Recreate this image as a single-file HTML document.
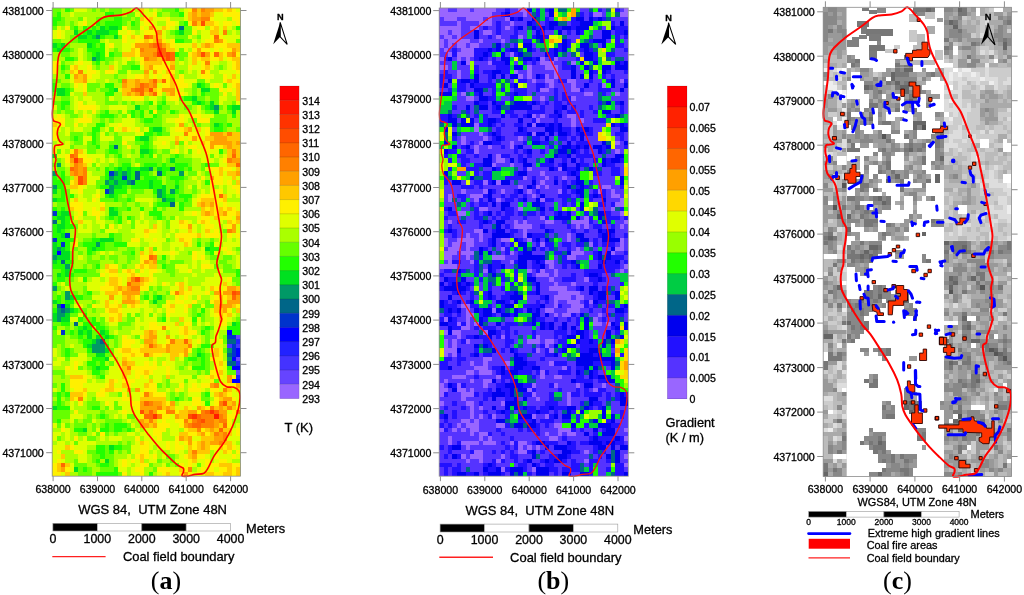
<!DOCTYPE html><html><head><meta charset="utf-8"><style>html,body{margin:0;padding:0;background:#fff;width:1024px;height:595px;overflow:hidden}svg text{white-space:pre;stroke:#000;stroke-width:0.3px;stroke-linejoin:round}</style></head><body><svg width="1024" height="595" viewBox="0 0 1024 595" style="position:absolute;left:0;top:0;filter:blur(0.35px)">
<rect width="1024" height="595" fill="#fff"/>
<svg x="52.2" y="8.0" width="188.30" height="468.20" viewBox="0 0 43 106" preserveAspectRatio="none" shape-rendering="crispEdges">
<rect width="43" height="106" fill="#aaff00"/>
<path fill="#ff1a00" d="M37 92h1v1h-1z"/>
<path fill="#ff3300" d="M24 10h1v1h-1zM5 34h1v1h-1zM36 91h1v1h-1zM23 92h1v1h-1zM32 92h1v1h-1z"/>
<path fill="#ff4d00" d="M34 3h1v1h-1zM24 9h1v1h-1zM26 10h1v1h-1zM34 10h1v1h-1zM26 11h1v1h-1zM22 18h1v1h-1zM6 38h1v1h-1zM6 39h1v1h-1zM19 61h1v1h-1zM41 64h1v1h-1zM39 89h1v1h-1zM20 91h1v1h-1zM31 92h1v1h-1zM34 93h1v1h-1z"/>
<path fill="#ff6600" d="M21 6h1v1h-1zM37 6h1v1h-1zM23 8h2v1h-2zM25 9h1v1h-1zM25 10h1v1h-1zM27 10h1v1h-1zM37 10h1v1h-1zM27 11h1v1h-1zM23 16h1v1h-1zM25 16h1v1h-1zM20 17h1v1h-1zM19 18h2v1h-2zM20 19h1v1h-1zM23 19h1v1h-1zM4 33h1v1h-1zM41 33h1v1h-1zM42 35h1v1h-1zM4 36h1v1h-1zM38 42h1v1h-1zM22 56h1v1h-1zM17 62h1v1h-1zM42 64h1v1h-1zM41 65h1v1h-1zM30 75h1v1h-1zM22 76h1v1h-1zM21 89h1v1h-1zM22 91h1v1h-1zM35 91h1v1h-1zM37 91h1v1h-1zM21 92h2v1h-2zM33 92h1v1h-1zM33 93h1v1h-1zM32 94h2v1h-2zM39 94h1v1h-1zM38 95h1v1h-1zM2 103h1v1h-1z"/>
<path fill="#ff8000" d="M32 0h1v1h-1zM34 0h1v1h-1zM34 2h2v1h-2zM32 3h1v1h-1zM39 5h1v1h-1zM22 6h1v1h-1zM37 7h1v1h-1zM22 8h1v1h-1zM20 9h1v1h-1zM23 10h1v1h-1zM41 10h1v1h-1zM21 11h1v1h-1zM25 11h1v1h-1zM35 12h1v1h-1zM6 14h1v1h-1zM34 14h1v1h-1zM16 16h1v1h-1zM21 17h1v1h-1zM23 17h1v1h-1zM18 18h1v1h-1zM30 28h1v1h-1zM40 28h1v1h-1zM5 32h1v1h-1zM41 32h1v1h-1zM5 33h1v1h-1zM6 34h1v1h-1zM40 34h1v1h-1zM5 35h1v1h-1zM5 36h1v1h-1zM7 36h1v1h-1zM5 37h1v1h-1zM7 37h1v1h-1zM7 38h1v1h-1zM7 39h1v1h-1zM40 50h1v1h-1zM23 56h1v1h-1zM18 61h1v1h-1zM18 63h2v1h-2zM28 64h1v1h-1zM25 72h1v1h-1zM27 75h1v1h-1zM31 76h1v1h-1zM21 78h1v1h-1zM17 81h1v1h-1zM37 85h1v1h-1zM39 86h1v1h-1zM21 87h1v1h-1zM6 88h1v1h-1zM22 89h1v1h-1zM38 89h1v1h-1zM24 90h1v1h-1zM36 90h1v1h-1zM40 90h1v1h-1zM26 91h2v1h-2zM34 91h1v1h-1zM42 91h1v1h-1zM24 92h1v1h-1zM34 92h3v1h-3zM38 92h1v1h-1zM22 93h1v1h-1zM30 93h1v1h-1zM32 93h1v1h-1zM35 93h2v1h-2zM38 93h2v1h-2zM31 94h1v1h-1zM34 94h3v1h-3zM33 95h1v1h-1zM37 96h1v1h-1zM39 96h1v1h-1zM39 97h1v1h-1zM38 98h1v1h-1zM32 100h1v1h-1zM31 104h1v1h-1z"/>
<path fill="#ffa000" d="M35 0h2v1h-2zM32 1h1v1h-1zM34 1h2v1h-2zM32 2h2v1h-2zM22 4h1v1h-1zM24 5h1v1h-1zM24 7h1v1h-1zM38 7h1v1h-1zM19 8h3v1h-3zM25 8h1v1h-1zM35 8h1v1h-1zM21 9h3v1h-3zM33 9h1v1h-1zM41 9h1v1h-1zM20 10h3v1h-3zM33 10h1v1h-1zM35 10h1v1h-1zM40 10h1v1h-1zM22 11h2v1h-2zM22 13h1v1h-1zM27 13h1v1h-1zM21 14h1v1h-1zM23 14h1v1h-1zM5 15h1v1h-1zM7 15h1v1h-1zM7 16h1v1h-1zM19 16h1v1h-1zM22 16h1v1h-1zM16 17h1v1h-1zM19 17h1v1h-1zM22 17h1v1h-1zM21 18h1v1h-1zM25 18h3v1h-3zM17 19h1v1h-1zM19 19h1v1h-1zM22 19h1v1h-1zM27 19h1v1h-1zM29 26h1v1h-1zM31 27h1v1h-1zM36 28h3v1h-3zM32 29h1v1h-1zM37 29h3v1h-3zM28 30h1v1h-1zM36 30h5v1h-5zM42 30h1v1h-1zM36 31h1v1h-1zM40 31h1v1h-1zM4 34h1v1h-1zM41 34h2v1h-2zM6 35h1v1h-1zM6 36h1v1h-1zM4 37h1v1h-1zM6 37h1v1h-1zM42 37h1v1h-1zM36 38h1v1h-1zM34 44h1v1h-1zM36 44h1v1h-1zM35 46h1v1h-1zM39 46h1v1h-1zM42 47h1v1h-1zM31 49h1v1h-1zM41 49h1v1h-1zM41 50h1v1h-1zM21 57h1v1h-1zM23 57h1v1h-1zM20 61h1v1h-1zM18 62h2v1h-2zM15 63h1v1h-1zM17 63h1v1h-1zM40 63h2v1h-2zM16 64h4v1h-4zM37 64h1v1h-1zM39 64h2v1h-2zM13 65h1v1h-1zM17 65h1v1h-1zM42 65h1v1h-1zM16 66h3v1h-3zM40 66h3v1h-3zM38 67h3v1h-3zM39 68h1v1h-1zM22 73h1v1h-1zM22 74h2v1h-2zM26 74h1v1h-1zM21 75h2v1h-2zM23 76h1v1h-1zM26 76h1v1h-1zM26 77h1v1h-1zM30 77h1v1h-1zM30 78h1v1h-1zM16 80h1v1h-1zM40 83h1v1h-1zM40 84h1v1h-1zM36 85h1v1h-1zM42 85h1v1h-1zM17 86h1v1h-1zM19 86h1v1h-1zM38 87h1v1h-1zM39 88h2v1h-2zM20 89h1v1h-1zM23 89h2v1h-2zM27 89h1v1h-1zM41 89h1v1h-1zM20 90h4v1h-4zM26 90h1v1h-1zM33 90h1v1h-1zM38 90h1v1h-1zM21 91h1v1h-1zM23 91h1v1h-1zM31 91h2v1h-2zM38 91h2v1h-2zM28 92h1v1h-1zM39 92h1v1h-1zM20 93h1v1h-1zM37 93h1v1h-1zM20 94h2v1h-2zM23 94h1v1h-1zM30 94h1v1h-1zM37 94h1v1h-1zM36 95h1v1h-1zM34 96h1v1h-1zM38 96h1v1h-1zM29 97h1v1h-1zM31 97h1v1h-1zM37 97h2v1h-2zM31 98h1v1h-1zM34 98h1v1h-1zM36 98h2v1h-2zM34 99h1v1h-1zM32 101h1v1h-1zM2 104h1v1h-1zM30 105h1v1h-1z"/>
<path fill="#ffc800" d="M20 0h1v1h-1zM33 0h1v1h-1zM37 0h2v1h-2zM40 0h1v1h-1zM31 1h1v1h-1zM33 1h1v1h-1zM36 1h1v1h-1zM20 2h1v1h-1zM22 2h1v1h-1zM31 2h1v1h-1zM33 3h1v1h-1zM35 3h2v1h-2zM25 4h1v1h-1zM37 4h1v1h-1zM39 4h1v1h-1zM36 5h2v1h-2zM18 6h1v1h-1zM23 6h2v1h-2zM21 7h1v1h-1zM23 7h1v1h-1zM26 8h1v1h-1zM32 8h1v1h-1zM34 8h1v1h-1zM36 8h1v1h-1zM40 8h3v1h-3zM18 9h1v1h-1zM26 9h2v1h-2zM42 9h1v1h-1zM16 10h3v1h-3zM32 10h1v1h-1zM38 10h1v1h-1zM24 11h1v1h-1zM32 11h1v1h-1zM34 11h2v1h-2zM38 11h1v1h-1zM41 11h2v1h-2zM21 12h4v1h-4zM27 12h1v1h-1zM32 12h1v1h-1zM42 12h1v1h-1zM5 13h1v1h-1zM13 13h1v1h-1zM21 13h1v1h-1zM35 13h1v1h-1zM42 13h1v1h-1zM4 14h1v1h-1zM26 14h1v1h-1zM6 15h1v1h-1zM21 15h1v1h-1zM27 15h1v1h-1zM41 15h1v1h-1zM5 16h2v1h-2zM17 16h2v1h-2zM20 16h2v1h-2zM24 16h1v1h-1zM27 16h1v1h-1zM40 16h1v1h-1zM17 17h2v1h-2zM27 17h1v1h-1zM42 17h1v1h-1zM16 18h2v1h-2zM23 18h1v1h-1zM42 18h1v1h-1zM7 19h1v1h-1zM16 19h1v1h-1zM18 19h1v1h-1zM21 19h1v1h-1zM26 19h1v1h-1zM42 19h1v1h-1zM42 20h1v1h-1zM0 26h1v1h-1zM16 27h1v1h-1zM30 27h1v1h-1zM33 27h1v1h-1zM39 28h1v1h-1zM41 28h2v1h-2zM28 29h1v1h-1zM35 29h2v1h-2zM40 29h3v1h-3zM34 30h1v1h-1zM41 30h1v1h-1zM39 31h1v1h-1zM41 31h2v1h-2zM6 32h1v1h-1zM40 32h1v1h-1zM42 32h1v1h-1zM40 33h1v1h-1zM42 33h1v1h-1zM4 35h1v1h-1zM7 35h1v1h-1zM40 35h2v1h-2zM38 36h1v1h-1zM42 36h1v1h-1zM38 37h1v1h-1zM40 37h2v1h-2zM5 38h1v1h-1zM41 38h1v1h-1zM5 39h1v1h-1zM42 39h1v1h-1zM4 40h2v1h-2zM39 42h1v1h-1zM5 43h1v1h-1zM34 43h3v1h-3zM39 43h1v1h-1zM33 44h1v1h-1zM35 44h1v1h-1zM4 45h1v1h-1zM11 45h1v1h-1zM34 45h1v1h-1zM36 45h1v1h-1zM38 45h1v1h-1zM40 45h1v1h-1zM34 46h1v1h-1zM36 46h1v1h-1zM38 46h1v1h-1zM42 46h1v1h-1zM37 47h1v1h-1zM6 48h1v1h-1zM29 48h1v1h-1zM34 48h1v1h-1zM40 48h1v1h-1zM42 48h1v1h-1zM23 49h1v1h-1zM21 50h1v1h-1zM31 50h1v1h-1zM35 50h1v1h-1zM33 51h1v1h-1zM29 52h1v1h-1zM30 53h1v1h-1zM22 54h1v1h-1zM20 55h1v1h-1zM22 55h1v1h-1zM22 57h1v1h-1zM12 58h1v1h-1zM20 58h1v1h-1zM22 58h2v1h-2zM13 59h2v1h-2zM17 59h1v1h-1zM18 60h1v1h-1zM13 61h2v1h-2zM17 61h1v1h-1zM21 61h1v1h-1zM13 62h2v1h-2zM20 62h1v1h-1zM29 62h1v1h-1zM39 62h1v1h-1zM14 63h1v1h-1zM16 63h1v1h-1zM29 63h1v1h-1zM31 63h1v1h-1zM36 63h1v1h-1zM42 63h1v1h-1zM12 64h3v1h-3zM29 64h1v1h-1zM16 65h1v1h-1zM18 65h1v1h-1zM38 65h1v1h-1zM40 65h1v1h-1zM12 66h1v1h-1zM19 66h1v1h-1zM37 66h2v1h-2zM12 67h1v1h-1zM15 67h1v1h-1zM18 67h1v1h-1zM27 67h1v1h-1zM31 67h1v1h-1zM37 67h1v1h-1zM41 67h1v1h-1zM13 68h2v1h-2zM37 68h2v1h-2zM42 68h1v1h-1zM15 69h1v1h-1zM38 69h1v1h-1zM40 69h1v1h-1zM13 70h1v1h-1zM15 70h1v1h-1zM29 70h1v1h-1zM38 70h1v1h-1zM28 71h1v1h-1zM30 72h1v1h-1zM21 73h1v1h-1zM23 73h1v1h-1zM30 73h1v1h-1zM21 74h1v1h-1zM23 75h1v1h-1zM28 75h2v1h-2zM31 75h1v1h-1zM21 76h1v1h-1zM24 76h1v1h-1zM27 76h4v1h-4zM16 77h2v1h-2zM20 77h6v1h-6zM27 77h3v1h-3zM37 77h1v1h-1zM18 78h1v1h-1zM22 78h1v1h-1zM27 78h2v1h-2zM37 78h1v1h-1zM16 79h1v1h-1zM27 79h1v1h-1zM17 80h2v1h-2zM38 80h1v1h-1zM16 81h1v1h-1zM16 82h2v1h-2zM21 82h1v1h-1zM38 82h1v1h-1zM4 83h3v1h-3zM16 83h1v1h-1zM26 83h1v1h-1zM36 83h1v1h-1zM13 84h1v1h-1zM22 84h1v1h-1zM13 85h1v1h-1zM16 85h1v1h-1zM21 85h1v1h-1zM7 86h1v1h-1zM12 86h2v1h-2zM40 86h1v1h-1zM42 86h1v1h-1zM4 87h3v1h-3zM22 87h1v1h-1zM37 87h1v1h-1zM39 87h1v1h-1zM4 88h1v1h-1zM20 88h6v1h-6zM38 88h1v1h-1zM25 89h1v1h-1zM40 89h1v1h-1zM25 90h1v1h-1zM27 90h1v1h-1zM30 90h1v1h-1zM34 90h1v1h-1zM37 90h1v1h-1zM39 90h1v1h-1zM41 90h1v1h-1zM29 91h2v1h-2zM29 92h2v1h-2zM21 93h1v1h-1zM23 93h1v1h-1zM31 93h1v1h-1zM22 94h1v1h-1zM38 94h1v1h-1zM31 95h2v1h-2zM35 95h1v1h-1zM37 95h1v1h-1zM39 95h2v1h-2zM29 96h2v1h-2zM33 96h1v1h-1zM36 96h1v1h-1zM40 96h1v1h-1zM30 97h1v1h-1zM34 97h3v1h-3zM20 98h1v1h-1zM33 98h1v1h-1zM35 98h1v1h-1zM39 98h2v1h-2zM3 99h1v1h-1zM31 99h1v1h-1zM33 99h1v1h-1zM35 99h1v1h-1zM38 99h1v1h-1zM40 99h1v1h-1zM31 100h1v1h-1zM33 100h3v1h-3zM39 100h1v1h-1zM2 101h1v1h-1zM20 101h1v1h-1zM31 101h1v1h-1zM20 102h1v1h-1zM32 102h1v1h-1zM1 103h1v1h-1zM3 103h1v1h-1zM38 103h3v1h-3zM1 104h1v1h-1zM29 104h1v1h-1zM40 104h1v1h-1zM42 104h1v1h-1zM3 105h1v1h-1zM26 105h1v1h-1zM35 105h2v1h-2zM39 105h2v1h-2zM42 105h1v1h-1z"/>
<path fill="#fff000" d="M31 0h1v1h-1zM39 0h1v1h-1zM41 0h1v1h-1zM23 1h1v1h-1zM39 1h4v1h-4zM21 2h1v1h-1zM26 2h1v1h-1zM36 2h1v1h-1zM41 2h2v1h-2zM7 3h1v1h-1zM21 3h1v1h-1zM26 3h2v1h-2zM31 3h1v1h-1zM37 3h1v1h-1zM39 3h2v1h-2zM42 3h1v1h-1zM3 4h1v1h-1zM16 4h1v1h-1zM20 4h1v1h-1zM26 4h1v1h-1zM33 4h2v1h-2zM36 4h1v1h-1zM1 5h1v1h-1zM17 5h1v1h-1zM21 5h3v1h-3zM32 5h1v1h-1zM1 6h1v1h-1zM16 6h1v1h-1zM19 6h1v1h-1zM36 6h1v1h-1zM38 6h1v1h-1zM16 7h1v1h-1zM19 7h2v1h-2zM22 7h1v1h-1zM25 7h1v1h-1zM27 7h1v1h-1zM35 7h2v1h-2zM39 7h1v1h-1zM13 8h1v1h-1zM18 8h1v1h-1zM27 8h1v1h-1zM37 8h3v1h-3zM19 9h1v1h-1zM32 9h1v1h-1zM34 9h2v1h-2zM37 9h1v1h-1zM39 9h2v1h-2zM19 10h1v1h-1zM31 10h1v1h-1zM36 10h1v1h-1zM39 10h1v1h-1zM42 10h1v1h-1zM17 11h1v1h-1zM20 11h1v1h-1zM33 11h1v1h-1zM36 11h2v1h-2zM40 11h1v1h-1zM0 12h1v1h-1zM6 12h1v1h-1zM20 12h1v1h-1zM25 12h1v1h-1zM34 12h1v1h-1zM41 12h1v1h-1zM0 13h1v1h-1zM4 13h1v1h-1zM8 13h1v1h-1zM23 13h4v1h-4zM31 13h1v1h-1zM34 13h1v1h-1zM41 13h1v1h-1zM0 14h1v1h-1zM5 14h1v1h-1zM8 14h2v1h-2zM12 14h2v1h-2zM24 14h1v1h-1zM27 14h1v1h-1zM35 14h1v1h-1zM42 14h1v1h-1zM8 15h1v1h-1zM19 15h2v1h-2zM23 15h1v1h-1zM25 15h2v1h-2zM29 15h1v1h-1zM34 15h2v1h-2zM39 15h1v1h-1zM26 16h1v1h-1zM28 16h2v1h-2zM39 16h1v1h-1zM41 16h2v1h-2zM5 17h1v1h-1zM7 17h1v1h-1zM25 17h2v1h-2zM28 17h3v1h-3zM37 17h1v1h-1zM41 17h1v1h-1zM7 18h1v1h-1zM24 18h1v1h-1zM38 18h1v1h-1zM40 18h1v1h-1zM24 19h1v1h-1zM28 19h2v1h-2zM39 19h1v1h-1zM18 20h3v1h-3zM27 20h2v1h-2zM6 21h1v1h-1zM6 22h4v1h-4zM9 23h1v1h-1zM23 23h1v1h-1zM1 24h1v1h-1zM7 24h1v1h-1zM29 24h1v1h-1zM32 24h2v1h-2zM0 25h3v1h-3zM6 25h3v1h-3zM28 25h2v1h-2zM33 25h3v1h-3zM2 26h1v1h-1zM5 26h1v1h-1zM15 26h1v1h-1zM0 27h1v1h-1zM14 27h1v1h-1zM17 27h1v1h-1zM19 27h1v1h-1zM28 27h2v1h-2zM35 27h1v1h-1zM0 28h1v1h-1zM31 28h2v1h-2zM35 28h1v1h-1zM0 29h1v1h-1zM29 29h1v1h-1zM31 29h1v1h-1zM33 29h1v1h-1zM16 30h1v1h-1zM25 30h1v1h-1zM30 30h1v1h-1zM35 30h1v1h-1zM17 31h1v1h-1zM31 31h2v1h-2zM35 31h1v1h-1zM37 31h2v1h-2zM4 32h1v1h-1zM28 32h1v1h-1zM33 32h1v1h-1zM35 32h1v1h-1zM3 33h1v1h-1zM6 33h2v1h-2zM3 34h1v1h-1zM7 34h2v1h-2zM39 34h1v1h-1zM36 36h2v1h-2zM39 36h2v1h-2zM37 37h1v1h-1zM34 38h1v1h-1zM37 38h2v1h-2zM4 39h1v1h-1zM36 39h3v1h-3zM40 39h1v1h-1zM6 40h1v1h-1zM36 40h1v1h-1zM41 40h2v1h-2zM6 41h1v1h-1zM36 41h3v1h-3zM42 41h1v1h-1zM10 42h1v1h-1zM34 42h3v1h-3zM9 43h1v1h-1zM33 43h1v1h-1zM37 43h2v1h-2zM4 44h3v1h-3zM11 44h1v1h-1zM37 44h1v1h-1zM39 44h1v1h-1zM5 45h2v1h-2zM9 45h1v1h-1zM35 45h1v1h-1zM37 45h1v1h-1zM39 45h1v1h-1zM41 45h1v1h-1zM6 46h1v1h-1zM9 46h2v1h-2zM32 46h1v1h-1zM37 46h1v1h-1zM40 46h2v1h-2zM5 47h1v1h-1zM10 47h1v1h-1zM34 47h2v1h-2zM38 47h3v1h-3zM30 48h1v1h-1zM33 48h1v1h-1zM35 48h1v1h-1zM41 48h1v1h-1zM13 49h1v1h-1zM29 49h2v1h-2zM35 49h2v1h-2zM40 49h1v1h-1zM22 50h2v1h-2zM37 50h1v1h-1zM21 51h1v1h-1zM28 51h5v1h-5zM35 51h3v1h-3zM40 51h1v1h-1zM42 51h1v1h-1zM18 52h2v1h-2zM23 52h1v1h-1zM30 52h2v1h-2zM5 53h1v1h-1zM31 53h1v1h-1zM39 54h1v1h-1zM23 55h1v1h-1zM27 55h1v1h-1zM32 55h1v1h-1zM40 55h1v1h-1zM20 56h2v1h-2zM32 56h1v1h-1zM34 56h1v1h-1zM20 57h1v1h-1zM13 58h2v1h-2zM19 58h1v1h-1zM21 58h1v1h-1zM34 58h2v1h-2zM12 59h1v1h-1zM16 59h1v1h-1zM18 59h1v1h-1zM20 59h1v1h-1zM22 59h2v1h-2zM31 59h1v1h-1zM11 60h1v1h-1zM13 60h2v1h-2zM17 60h1v1h-1zM19 60h1v1h-1zM22 60h1v1h-1zM15 61h1v1h-1zM22 61h1v1h-1zM40 61h1v1h-1zM12 62h1v1h-1zM15 62h1v1h-1zM21 62h1v1h-1zM25 62h1v1h-1zM28 62h1v1h-1zM11 63h3v1h-3zM20 63h2v1h-2zM37 63h1v1h-1zM39 63h1v1h-1zM15 64h1v1h-1zM27 64h1v1h-1zM30 64h2v1h-2zM35 64h1v1h-1zM38 64h1v1h-1zM19 65h1v1h-1zM28 65h1v1h-1zM30 65h1v1h-1zM33 65h1v1h-1zM37 65h1v1h-1zM39 65h1v1h-1zM14 66h1v1h-1zM26 66h1v1h-1zM28 66h2v1h-2zM32 66h1v1h-1zM36 66h1v1h-1zM9 67h1v1h-1zM13 67h2v1h-2zM17 67h1v1h-1zM19 67h1v1h-1zM26 67h1v1h-1zM30 67h1v1h-1zM42 67h1v1h-1zM12 68h1v1h-1zM15 68h1v1h-1zM26 68h2v1h-2zM30 68h1v1h-1zM40 68h1v1h-1zM13 69h2v1h-2zM26 69h1v1h-1zM37 69h1v1h-1zM39 69h1v1h-1zM14 70h1v1h-1zM39 70h1v1h-1zM22 71h2v1h-2zM30 71h2v1h-2zM38 71h2v1h-2zM22 72h3v1h-3zM26 72h1v1h-1zM29 72h1v1h-1zM29 73h1v1h-1zM31 73h2v1h-2zM16 74h1v1h-1zM20 74h1v1h-1zM30 74h1v1h-1zM16 75h3v1h-3zM26 75h1v1h-1zM33 75h1v1h-1zM38 75h1v1h-1zM16 76h2v1h-2zM20 76h1v1h-1zM25 76h1v1h-1zM15 77h1v1h-1zM18 77h2v1h-2zM31 77h1v1h-1zM36 77h1v1h-1zM38 77h1v1h-1zM16 78h2v1h-2zM19 78h2v1h-2zM23 78h2v1h-2zM29 78h1v1h-1zM38 78h1v1h-1zM17 79h1v1h-1zM36 79h3v1h-3zM5 80h1v1h-1zM21 80h1v1h-1zM23 80h1v1h-1zM25 80h1v1h-1zM37 80h1v1h-1zM3 81h1v1h-1zM5 81h1v1h-1zM15 81h1v1h-1zM18 81h6v1h-6zM26 81h1v1h-1zM37 81h2v1h-2zM19 82h2v1h-2zM22 82h1v1h-1zM26 82h1v1h-1zM36 82h2v1h-2zM7 83h1v1h-1zM19 83h1v1h-1zM21 83h1v1h-1zM35 83h1v1h-1zM37 83h2v1h-2zM41 83h1v1h-1zM4 84h4v1h-4zM14 84h1v1h-1zM16 84h3v1h-3zM36 84h1v1h-1zM4 85h3v1h-3zM12 85h1v1h-1zM17 85h1v1h-1zM22 85h2v1h-2zM29 85h1v1h-1zM32 85h1v1h-1zM34 85h2v1h-2zM39 85h3v1h-3zM5 86h2v1h-2zM11 86h1v1h-1zM14 86h2v1h-2zM21 86h3v1h-3zM28 86h1v1h-1zM31 86h3v1h-3zM36 86h2v1h-2zM7 87h1v1h-1zM10 87h2v1h-2zM16 87h1v1h-1zM20 87h1v1h-1zM23 87h3v1h-3zM40 87h1v1h-1zM5 88h1v1h-1zM16 88h2v1h-2zM32 88h2v1h-2zM37 88h1v1h-1zM41 88h1v1h-1zM6 89h1v1h-1zM12 89h1v1h-1zM18 89h2v1h-2zM26 89h1v1h-1zM32 89h2v1h-2zM37 89h1v1h-1zM19 90h1v1h-1zM31 90h1v1h-1zM35 90h1v1h-1zM42 90h1v1h-1zM5 91h1v1h-1zM16 91h1v1h-1zM24 91h2v1h-2zM28 91h1v1h-1zM33 91h1v1h-1zM41 91h1v1h-1zM20 92h1v1h-1zM25 92h2v1h-2zM40 92h2v1h-2zM25 93h1v1h-1zM28 93h2v1h-2zM40 93h1v1h-1zM24 94h3v1h-3zM29 94h1v1h-1zM40 94h1v1h-1zM2 95h1v1h-1zM23 95h3v1h-3zM30 95h1v1h-1zM34 95h1v1h-1zM42 95h1v1h-1zM11 96h1v1h-1zM23 96h2v1h-2zM31 96h2v1h-2zM35 96h1v1h-1zM42 96h1v1h-1zM5 97h1v1h-1zM19 97h1v1h-1zM24 97h1v1h-1zM28 97h1v1h-1zM21 98h1v1h-1zM26 98h1v1h-1zM28 98h1v1h-1zM30 98h1v1h-1zM32 98h1v1h-1zM4 99h1v1h-1zM20 99h2v1h-2zM26 99h1v1h-1zM28 99h2v1h-2zM32 99h1v1h-1zM36 99h2v1h-2zM39 99h1v1h-1zM41 99h1v1h-1zM1 100h1v1h-1zM5 100h2v1h-2zM20 100h2v1h-2zM28 100h1v1h-1zM40 100h1v1h-1zM42 100h1v1h-1zM19 101h1v1h-1zM21 101h1v1h-1zM23 101h1v1h-1zM30 101h1v1h-1zM33 101h2v1h-2zM37 101h1v1h-1zM41 101h1v1h-1zM1 102h1v1h-1zM16 102h1v1h-1zM18 102h1v1h-1zM31 102h1v1h-1zM35 102h1v1h-1zM38 102h2v1h-2zM0 103h1v1h-1zM16 103h1v1h-1zM20 103h2v1h-2zM29 103h1v1h-1zM31 103h1v1h-1zM35 103h3v1h-3zM41 103h2v1h-2zM0 104h1v1h-1zM3 104h1v1h-1zM19 104h2v1h-2zM24 104h3v1h-3zM30 104h1v1h-1zM34 104h1v1h-1zM36 104h1v1h-1zM38 104h2v1h-2zM41 104h1v1h-1zM0 105h2v1h-2zM16 105h1v1h-1zM20 105h1v1h-1zM25 105h1v1h-1zM29 105h1v1h-1zM31 105h1v1h-1zM33 105h1v1h-1zM37 105h2v1h-2zM41 105h1v1h-1z"/>
<path fill="#dfff00" d="M5 0h3v1h-3zM18 0h1v1h-1zM21 0h1v1h-1zM23 0h1v1h-1zM30 0h1v1h-1zM42 0h1v1h-1zM4 1h1v1h-1zM19 1h1v1h-1zM21 1h2v1h-2zM30 1h1v1h-1zM37 1h2v1h-2zM7 2h1v1h-1zM23 2h3v1h-3zM30 2h1v1h-1zM37 2h3v1h-3zM6 3h1v1h-1zM20 3h1v1h-1zM22 3h2v1h-2zM28 3h1v1h-1zM38 3h1v1h-1zM41 3h1v1h-1zM1 4h1v1h-1zM21 4h1v1h-1zM23 4h2v1h-2zM27 4h1v1h-1zM32 4h1v1h-1zM38 4h1v1h-1zM40 4h1v1h-1zM0 5h1v1h-1zM2 5h1v1h-1zM15 5h2v1h-2zM18 5h1v1h-1zM20 5h1v1h-1zM25 5h1v1h-1zM34 5h2v1h-2zM38 5h1v1h-1zM41 5h1v1h-1zM0 6h1v1h-1zM2 6h1v1h-1zM17 6h1v1h-1zM20 6h1v1h-1zM25 6h1v1h-1zM31 6h1v1h-1zM34 6h2v1h-2zM39 6h4v1h-4zM12 7h1v1h-1zM17 7h2v1h-2zM26 7h1v1h-1zM32 7h1v1h-1zM34 7h1v1h-1zM40 7h2v1h-2zM12 8h1v1h-1zM16 8h2v1h-2zM28 8h4v1h-4zM33 8h1v1h-1zM6 9h1v1h-1zM12 9h1v1h-1zM16 9h2v1h-2zM28 9h1v1h-1zM30 9h1v1h-1zM36 9h1v1h-1zM38 9h1v1h-1zM6 10h1v1h-1zM12 10h1v1h-1zM6 11h1v1h-1zM16 11h1v1h-1zM19 11h1v1h-1zM31 11h1v1h-1zM39 11h1v1h-1zM1 12h1v1h-1zM5 12h1v1h-1zM7 12h2v1h-2zM14 12h1v1h-1zM16 12h1v1h-1zM26 12h1v1h-1zM29 12h1v1h-1zM31 12h1v1h-1zM33 12h1v1h-1zM36 12h2v1h-2zM40 12h1v1h-1zM6 13h2v1h-2zM14 13h1v1h-1zM20 13h1v1h-1zM32 13h2v1h-2zM36 13h1v1h-1zM40 13h1v1h-1zM7 14h1v1h-1zM10 14h1v1h-1zM14 14h1v1h-1zM17 14h1v1h-1zM22 14h1v1h-1zM25 14h1v1h-1zM31 14h1v1h-1zM33 14h1v1h-1zM38 14h4v1h-4zM4 15h1v1h-1zM9 15h2v1h-2zM17 15h2v1h-2zM22 15h1v1h-1zM24 15h1v1h-1zM33 15h1v1h-1zM36 15h1v1h-1zM40 15h1v1h-1zM42 15h1v1h-1zM4 16h1v1h-1zM8 16h2v1h-2zM12 16h1v1h-1zM30 16h3v1h-3zM35 16h1v1h-1zM6 17h1v1h-1zM24 17h1v1h-1zM31 17h1v1h-1zM36 17h1v1h-1zM38 17h1v1h-1zM40 17h1v1h-1zM5 18h2v1h-2zM15 18h1v1h-1zM28 18h2v1h-2zM39 18h1v1h-1zM41 18h1v1h-1zM4 19h1v1h-1zM30 19h1v1h-1zM41 19h1v1h-1zM5 20h1v1h-1zM7 20h2v1h-2zM13 20h1v1h-1zM16 20h2v1h-2zM22 20h2v1h-2zM26 20h1v1h-1zM38 20h2v1h-2zM5 21h1v1h-1zM8 21h2v1h-2zM23 21h1v1h-1zM28 21h1v1h-1zM38 21h1v1h-1zM42 21h1v1h-1zM0 22h1v1h-1zM5 22h1v1h-1zM10 22h1v1h-1zM13 22h4v1h-4zM33 22h1v1h-1zM5 23h1v1h-1zM7 23h1v1h-1zM16 23h1v1h-1zM33 23h1v1h-1zM0 24h1v1h-1zM2 24h1v1h-1zM8 24h1v1h-1zM17 24h1v1h-1zM30 24h2v1h-2zM34 24h3v1h-3zM5 25h1v1h-1zM16 25h3v1h-3zM26 25h2v1h-2zM30 25h1v1h-1zM1 26h1v1h-1zM7 26h1v1h-1zM13 26h2v1h-2zM16 26h3v1h-3zM28 26h1v1h-1zM31 26h1v1h-1zM1 27h1v1h-1zM3 27h1v1h-1zM5 27h2v1h-2zM12 27h1v1h-1zM15 27h1v1h-1zM18 27h1v1h-1zM21 27h1v1h-1zM27 27h1v1h-1zM32 27h1v1h-1zM34 27h1v1h-1zM3 28h1v1h-1zM11 28h1v1h-1zM19 28h2v1h-2zM27 28h3v1h-3zM33 28h2v1h-2zM7 29h2v1h-2zM11 29h3v1h-3zM16 29h3v1h-3zM24 29h4v1h-4zM30 29h1v1h-1zM34 29h1v1h-1zM1 30h1v1h-1zM3 30h1v1h-1zM7 30h1v1h-1zM23 30h2v1h-2zM26 30h1v1h-1zM32 30h2v1h-2zM0 31h4v1h-4zM24 31h3v1h-3zM28 31h1v1h-1zM30 31h1v1h-1zM33 31h2v1h-2zM0 32h1v1h-1zM2 32h1v1h-1zM7 32h1v1h-1zM27 32h1v1h-1zM30 32h1v1h-1zM32 32h1v1h-1zM34 32h1v1h-1zM36 32h2v1h-2zM1 33h2v1h-2zM8 33h4v1h-4zM17 33h1v1h-1zM23 33h1v1h-1zM32 33h4v1h-4zM37 33h1v1h-1zM39 33h1v1h-1zM9 34h1v1h-1zM11 34h1v1h-1zM13 34h1v1h-1zM34 34h3v1h-3zM38 34h1v1h-1zM3 35h1v1h-1zM8 35h1v1h-1zM10 35h1v1h-1zM19 35h1v1h-1zM38 35h2v1h-2zM35 36h1v1h-1zM41 36h1v1h-1zM8 37h1v1h-1zM33 37h1v1h-1zM36 37h1v1h-1zM39 37h1v1h-1zM8 38h3v1h-3zM32 38h1v1h-1zM39 38h2v1h-2zM42 38h1v1h-1zM8 39h2v1h-2zM33 39h1v1h-1zM39 39h1v1h-1zM7 40h1v1h-1zM31 40h1v1h-1zM33 40h1v1h-1zM38 40h1v1h-1zM40 40h1v1h-1zM4 41h2v1h-2zM10 41h1v1h-1zM34 41h1v1h-1zM40 41h2v1h-2zM6 42h1v1h-1zM9 42h1v1h-1zM33 42h1v1h-1zM37 42h1v1h-1zM40 42h1v1h-1zM42 42h1v1h-1zM4 43h1v1h-1zM6 43h2v1h-2zM10 43h1v1h-1zM19 43h4v1h-4zM32 43h1v1h-1zM7 44h4v1h-4zM22 44h1v1h-1zM32 44h1v1h-1zM38 44h1v1h-1zM40 44h3v1h-3zM7 45h2v1h-2zM10 45h1v1h-1zM42 45h1v1h-1zM5 46h1v1h-1zM8 46h1v1h-1zM11 46h1v1h-1zM20 46h1v1h-1zM30 46h2v1h-2zM33 46h1v1h-1zM6 47h1v1h-1zM20 47h1v1h-1zM28 47h1v1h-1zM33 47h1v1h-1zM36 47h1v1h-1zM41 47h1v1h-1zM7 48h2v1h-2zM10 48h2v1h-2zM17 48h1v1h-1zM19 48h1v1h-1zM21 48h1v1h-1zM24 48h1v1h-1zM27 48h2v1h-2zM31 48h1v1h-1zM36 48h3v1h-3zM6 49h1v1h-1zM8 49h1v1h-1zM11 49h1v1h-1zM15 49h1v1h-1zM19 49h3v1h-3zM24 49h1v1h-1zM27 49h2v1h-2zM32 49h1v1h-1zM34 49h1v1h-1zM37 49h1v1h-1zM39 49h1v1h-1zM42 49h1v1h-1zM6 50h3v1h-3zM12 50h3v1h-3zM18 50h3v1h-3zM24 50h1v1h-1zM27 50h1v1h-1zM29 50h2v1h-2zM32 50h1v1h-1zM34 50h1v1h-1zM36 50h1v1h-1zM42 50h1v1h-1zM19 51h2v1h-2zM22 51h3v1h-3zM26 51h1v1h-1zM34 51h1v1h-1zM38 51h1v1h-1zM41 51h1v1h-1zM5 52h1v1h-1zM21 52h2v1h-2zM24 52h2v1h-2zM28 52h1v1h-1zM38 52h1v1h-1zM40 52h1v1h-1zM42 52h1v1h-1zM17 53h3v1h-3zM22 53h3v1h-3zM27 53h3v1h-3zM37 53h1v1h-1zM39 53h4v1h-4zM21 54h1v1h-1zM24 54h1v1h-1zM27 54h1v1h-1zM29 54h1v1h-1zM34 54h1v1h-1zM38 54h1v1h-1zM40 54h1v1h-1zM11 55h1v1h-1zM13 55h1v1h-1zM21 55h1v1h-1zM24 55h3v1h-3zM28 55h1v1h-1zM33 55h2v1h-2zM37 55h1v1h-1zM39 55h1v1h-1zM41 55h1v1h-1zM6 56h1v1h-1zM27 56h1v1h-1zM33 56h1v1h-1zM42 56h1v1h-1zM32 57h1v1h-1zM34 57h2v1h-2zM42 57h1v1h-1zM28 58h3v1h-3zM32 58h1v1h-1zM36 58h1v1h-1zM42 58h1v1h-1zM11 59h1v1h-1zM21 59h1v1h-1zM24 59h1v1h-1zM29 59h2v1h-2zM34 59h1v1h-1zM38 59h1v1h-1zM12 60h1v1h-1zM15 60h2v1h-2zM20 60h2v1h-2zM32 60h1v1h-1zM37 60h1v1h-1zM6 61h1v1h-1zM9 61h2v1h-2zM12 61h1v1h-1zM16 61h1v1h-1zM23 61h1v1h-1zM30 61h1v1h-1zM35 61h5v1h-5zM2 62h1v1h-1zM8 62h4v1h-4zM16 62h1v1h-1zM22 62h2v1h-2zM26 62h1v1h-1zM30 62h1v1h-1zM34 62h5v1h-5zM40 62h1v1h-1zM3 63h1v1h-1zM8 63h3v1h-3zM27 63h2v1h-2zM30 63h1v1h-1zM32 63h2v1h-2zM35 63h1v1h-1zM38 63h1v1h-1zM11 64h1v1h-1zM32 64h3v1h-3zM9 65h4v1h-4zM14 65h2v1h-2zM29 65h1v1h-1zM31 65h1v1h-1zM36 65h1v1h-1zM11 66h1v1h-1zM13 66h1v1h-1zM15 66h1v1h-1zM21 66h1v1h-1zM27 66h1v1h-1zM30 66h2v1h-2zM39 66h1v1h-1zM5 67h2v1h-2zM10 67h2v1h-2zM20 67h2v1h-2zM25 67h1v1h-1zM28 67h2v1h-2zM34 67h1v1h-1zM16 68h4v1h-4zM21 68h2v1h-2zM24 68h1v1h-1zM28 68h2v1h-2zM36 68h1v1h-1zM6 69h1v1h-1zM11 69h2v1h-2zM16 69h1v1h-1zM18 69h1v1h-1zM21 69h1v1h-1zM23 69h1v1h-1zM27 69h4v1h-4zM36 69h1v1h-1zM41 69h1v1h-1zM4 70h2v1h-2zM12 70h1v1h-1zM19 70h1v1h-1zM21 70h3v1h-3zM26 70h1v1h-1zM30 70h2v1h-2zM33 70h1v1h-1zM37 70h1v1h-1zM40 70h1v1h-1zM13 71h2v1h-2zM19 71h3v1h-3zM24 71h4v1h-4zM33 71h1v1h-1zM35 71h1v1h-1zM37 71h1v1h-1zM19 72h1v1h-1zM21 72h1v1h-1zM27 72h2v1h-2zM31 72h1v1h-1zM37 72h3v1h-3zM1 73h1v1h-1zM14 73h1v1h-1zM18 73h3v1h-3zM24 73h2v1h-2zM27 73h2v1h-2zM37 73h1v1h-1zM17 74h1v1h-1zM24 74h2v1h-2zM27 74h1v1h-1zM29 74h1v1h-1zM31 74h1v1h-1zM33 74h1v1h-1zM37 74h1v1h-1zM19 75h1v1h-1zM24 75h2v1h-2zM32 75h1v1h-1zM36 75h2v1h-2zM4 76h1v1h-1zM18 76h2v1h-2zM32 76h1v1h-1zM37 76h2v1h-2zM0 77h1v1h-1zM14 77h1v1h-1zM0 78h1v1h-1zM6 78h2v1h-2zM14 78h2v1h-2zM25 78h2v1h-2zM1 79h2v1h-2zM4 79h4v1h-4zM13 79h1v1h-1zM15 79h1v1h-1zM18 79h4v1h-4zM23 79h1v1h-1zM26 79h1v1h-1zM29 79h1v1h-1zM0 80h2v1h-2zM4 80h1v1h-1zM6 80h1v1h-1zM14 80h2v1h-2zM19 80h2v1h-2zM22 80h1v1h-1zM26 80h2v1h-2zM39 80h1v1h-1zM4 81h1v1h-1zM13 81h2v1h-2zM24 81h2v1h-2zM27 81h1v1h-1zM31 81h1v1h-1zM39 81h1v1h-1zM3 82h5v1h-5zM13 82h3v1h-3zM18 82h1v1h-1zM23 82h3v1h-3zM27 82h2v1h-2zM39 82h1v1h-1zM8 83h1v1h-1zM12 83h4v1h-4zM17 83h2v1h-2zM20 83h1v1h-1zM23 83h2v1h-2zM28 83h4v1h-4zM33 83h2v1h-2zM39 83h1v1h-1zM9 84h1v1h-1zM12 84h1v1h-1zM15 84h1v1h-1zM19 84h3v1h-3zM23 84h2v1h-2zM27 84h3v1h-3zM31 84h2v1h-2zM34 84h2v1h-2zM38 84h2v1h-2zM7 85h5v1h-5zM14 85h2v1h-2zM18 85h3v1h-3zM31 85h1v1h-1zM33 85h1v1h-1zM38 85h1v1h-1zM0 86h1v1h-1zM4 86h1v1h-1zM8 86h3v1h-3zM16 86h1v1h-1zM20 86h1v1h-1zM26 86h1v1h-1zM29 86h1v1h-1zM34 86h1v1h-1zM38 86h1v1h-1zM41 86h1v1h-1zM12 87h1v1h-1zM18 87h2v1h-2zM31 87h3v1h-3zM36 87h1v1h-1zM41 87h2v1h-2zM7 88h1v1h-1zM10 88h6v1h-6zM18 88h2v1h-2zM42 88h1v1h-1zM4 89h1v1h-1zM13 89h1v1h-1zM15 89h3v1h-3zM29 89h3v1h-3zM34 89h1v1h-1zM36 89h1v1h-1zM42 89h1v1h-1zM4 90h1v1h-1zM13 90h1v1h-1zM16 90h3v1h-3zM28 90h2v1h-2zM32 90h1v1h-1zM15 91h1v1h-1zM17 91h3v1h-3zM40 91h1v1h-1zM4 92h3v1h-3zM14 92h1v1h-1zM16 92h1v1h-1zM19 92h1v1h-1zM27 92h1v1h-1zM4 93h1v1h-1zM9 93h1v1h-1zM17 93h1v1h-1zM24 93h1v1h-1zM26 93h2v1h-2zM0 94h1v1h-1zM2 94h1v1h-1zM18 94h1v1h-1zM27 94h2v1h-2zM42 94h1v1h-1zM3 95h1v1h-1zM10 95h1v1h-1zM19 95h1v1h-1zM21 95h2v1h-2zM27 95h2v1h-2zM41 95h1v1h-1zM0 96h2v1h-2zM3 96h1v1h-1zM9 96h1v1h-1zM17 96h2v1h-2zM20 96h3v1h-3zM27 96h2v1h-2zM41 96h1v1h-1zM0 97h1v1h-1zM3 97h1v1h-1zM7 97h1v1h-1zM11 97h1v1h-1zM13 97h3v1h-3zM21 97h3v1h-3zM32 97h2v1h-2zM40 97h3v1h-3zM1 98h2v1h-2zM4 98h1v1h-1zM6 98h4v1h-4zM19 98h1v1h-1zM22 98h4v1h-4zM27 98h1v1h-1zM29 98h1v1h-1zM41 98h1v1h-1zM0 99h3v1h-3zM5 99h3v1h-3zM18 99h2v1h-2zM22 99h1v1h-1zM24 99h2v1h-2zM27 99h1v1h-1zM30 99h1v1h-1zM42 99h1v1h-1zM0 100h1v1h-1zM7 100h1v1h-1zM18 100h2v1h-2zM23 100h1v1h-1zM27 100h1v1h-1zM29 100h1v1h-1zM37 100h2v1h-2zM0 101h2v1h-2zM6 101h2v1h-2zM17 101h1v1h-1zM22 101h1v1h-1zM25 101h1v1h-1zM29 101h1v1h-1zM35 101h1v1h-1zM38 101h3v1h-3zM42 101h1v1h-1zM0 102h1v1h-1zM2 102h1v1h-1zM6 102h2v1h-2zM15 102h1v1h-1zM17 102h1v1h-1zM19 102h1v1h-1zM22 102h2v1h-2zM28 102h3v1h-3zM33 102h2v1h-2zM37 102h1v1h-1zM40 102h1v1h-1zM4 103h1v1h-1zM15 103h1v1h-1zM17 103h1v1h-1zM19 103h1v1h-1zM25 103h1v1h-1zM30 103h1v1h-1zM32 103h1v1h-1zM34 103h1v1h-1zM4 104h1v1h-1zM15 104h2v1h-2zM18 104h1v1h-1zM27 104h2v1h-2zM33 104h1v1h-1zM35 104h1v1h-1zM37 104h1v1h-1zM2 105h1v1h-1zM18 105h2v1h-2zM24 105h1v1h-1zM27 105h2v1h-2zM32 105h1v1h-1zM34 105h1v1h-1z"/>
<path fill="#66ff00" d="M0 0h2v1h-2zM4 0h1v1h-1zM9 0h1v1h-1zM11 0h1v1h-1zM13 0h3v1h-3zM25 0h3v1h-3zM0 1h1v1h-1zM14 1h2v1h-2zM17 1h2v1h-2zM24 1h1v1h-1zM27 1h2v1h-2zM2 2h1v1h-1zM6 2h1v1h-1zM10 2h4v1h-4zM16 2h2v1h-2zM19 2h1v1h-1zM1 3h2v1h-2zM4 3h1v1h-1zM11 3h1v1h-1zM16 3h1v1h-1zM19 3h1v1h-1zM29 3h1v1h-1zM0 4h1v1h-1zM4 4h1v1h-1zM8 4h1v1h-1zM10 4h1v1h-1zM18 4h2v1h-2zM30 4h2v1h-2zM6 5h1v1h-1zM27 5h1v1h-1zM30 5h2v1h-2zM4 6h2v1h-2zM12 6h2v1h-2zM15 6h1v1h-1zM28 6h3v1h-3zM33 6h1v1h-1zM0 7h2v1h-2zM4 7h2v1h-2zM30 7h2v1h-2zM42 7h1v1h-1zM3 8h1v1h-1zM10 8h1v1h-1zM4 9h1v1h-1zM14 9h1v1h-1zM29 9h1v1h-1zM2 10h2v1h-2zM8 10h1v1h-1zM14 10h2v1h-2zM29 10h2v1h-2zM5 11h1v1h-1zM8 11h1v1h-1zM12 11h2v1h-2zM29 11h1v1h-1zM2 12h1v1h-1zM9 12h1v1h-1zM12 12h1v1h-1zM17 12h2v1h-2zM3 13h1v1h-1zM10 13h1v1h-1zM16 13h2v1h-2zM38 13h1v1h-1zM2 14h1v1h-1zM15 14h2v1h-2zM29 14h1v1h-1zM14 15h1v1h-1zM0 16h2v1h-2zM15 16h1v1h-1zM33 16h2v1h-2zM2 17h2v1h-2zM8 17h3v1h-3zM32 17h1v1h-1zM35 17h1v1h-1zM39 17h1v1h-1zM4 18h1v1h-1zM8 18h2v1h-2zM11 18h2v1h-2zM32 18h1v1h-1zM36 18h2v1h-2zM0 19h1v1h-1zM32 19h1v1h-1zM35 19h3v1h-3zM2 20h2v1h-2zM12 20h1v1h-1zM25 20h1v1h-1zM29 20h1v1h-1zM33 20h2v1h-2zM36 20h2v1h-2zM0 21h2v1h-2zM12 21h3v1h-3zM16 21h1v1h-1zM18 21h1v1h-1zM21 21h1v1h-1zM24 21h1v1h-1zM35 21h1v1h-1zM37 21h1v1h-1zM41 21h1v1h-1zM1 22h1v1h-1zM3 22h1v1h-1zM20 22h2v1h-2zM25 22h2v1h-2zM30 22h2v1h-2zM34 22h1v1h-1zM38 22h1v1h-1zM1 23h1v1h-1zM3 23h2v1h-2zM11 23h1v1h-1zM15 23h1v1h-1zM17 23h1v1h-1zM19 23h1v1h-1zM24 23h2v1h-2zM28 23h1v1h-1zM35 23h2v1h-2zM40 23h1v1h-1zM4 24h2v1h-2zM10 24h1v1h-1zM14 24h1v1h-1zM16 24h1v1h-1zM19 24h1v1h-1zM24 24h1v1h-1zM37 24h3v1h-3zM11 25h1v1h-1zM13 25h1v1h-1zM20 25h1v1h-1zM23 25h2v1h-2zM32 25h1v1h-1zM36 25h4v1h-4zM21 26h4v1h-4zM33 26h1v1h-1zM36 26h1v1h-1zM39 26h1v1h-1zM13 27h1v1h-1zM25 27h1v1h-1zM36 27h1v1h-1zM39 27h1v1h-1zM42 27h1v1h-1zM4 28h3v1h-3zM8 28h1v1h-1zM10 28h1v1h-1zM12 28h1v1h-1zM14 28h1v1h-1zM23 28h1v1h-1zM25 28h2v1h-2zM4 29h1v1h-1zM6 29h1v1h-1zM10 29h1v1h-1zM14 29h2v1h-2zM22 29h1v1h-1zM5 30h2v1h-2zM8 30h1v1h-1zM10 30h1v1h-1zM13 30h3v1h-3zM19 30h2v1h-2zM22 30h1v1h-1zM29 30h1v1h-1zM4 31h1v1h-1zM8 31h2v1h-2zM15 31h1v1h-1zM22 31h1v1h-1zM1 32h1v1h-1zM8 32h2v1h-2zM12 32h1v1h-1zM15 32h1v1h-1zM18 32h1v1h-1zM23 32h1v1h-1zM25 32h2v1h-2zM31 32h1v1h-1zM12 33h1v1h-1zM14 33h1v1h-1zM21 33h1v1h-1zM24 33h1v1h-1zM27 33h1v1h-1zM29 33h1v1h-1zM36 33h1v1h-1zM1 34h1v1h-1zM15 34h3v1h-3zM19 34h6v1h-6zM26 34h1v1h-1zM28 34h4v1h-4zM0 35h1v1h-1zM9 35h1v1h-1zM13 35h1v1h-1zM15 35h1v1h-1zM20 35h1v1h-1zM24 35h1v1h-1zM26 35h2v1h-2zM31 35h1v1h-1zM34 35h1v1h-1zM36 35h2v1h-2zM1 36h2v1h-2zM10 36h1v1h-1zM13 36h1v1h-1zM23 36h1v1h-1zM30 36h1v1h-1zM34 36h1v1h-1zM1 37h1v1h-1zM22 37h1v1h-1zM26 37h3v1h-3zM31 37h2v1h-2zM35 37h1v1h-1zM1 38h1v1h-1zM3 38h1v1h-1zM11 38h1v1h-1zM20 38h1v1h-1zM24 38h1v1h-1zM26 38h1v1h-1zM30 38h1v1h-1zM3 39h1v1h-1zM10 39h2v1h-2zM26 39h2v1h-2zM29 39h1v1h-1zM10 40h1v1h-1zM17 40h1v1h-1zM26 40h2v1h-2zM29 40h1v1h-1zM32 40h1v1h-1zM1 41h1v1h-1zM3 41h1v1h-1zM18 41h3v1h-3zM26 41h1v1h-1zM29 41h1v1h-1zM32 41h1v1h-1zM0 42h2v1h-2zM3 42h1v1h-1zM15 42h1v1h-1zM17 42h2v1h-2zM23 42h1v1h-1zM28 42h1v1h-1zM3 43h1v1h-1zM11 43h3v1h-3zM15 43h2v1h-2zM18 43h1v1h-1zM24 43h1v1h-1zM28 43h2v1h-2zM31 43h1v1h-1zM1 44h3v1h-3zM16 44h1v1h-1zM19 44h1v1h-1zM23 44h1v1h-1zM30 44h2v1h-2zM1 45h1v1h-1zM3 45h1v1h-1zM15 45h2v1h-2zM25 45h1v1h-1zM7 46h1v1h-1zM15 46h1v1h-1zM4 47h1v1h-1zM12 47h1v1h-1zM14 47h1v1h-1zM18 47h1v1h-1zM23 47h1v1h-1zM25 47h1v1h-1zM27 47h1v1h-1zM1 48h1v1h-1zM14 48h1v1h-1zM18 48h1v1h-1zM26 48h1v1h-1zM5 49h1v1h-1zM12 49h1v1h-1zM18 49h1v1h-1zM26 49h1v1h-1zM3 50h1v1h-1zM11 50h1v1h-1zM39 50h1v1h-1zM9 51h1v1h-1zM14 51h2v1h-2zM7 52h2v1h-2zM14 52h2v1h-2zM26 52h1v1h-1zM33 52h1v1h-1zM36 52h1v1h-1zM6 53h1v1h-1zM12 53h2v1h-2zM35 53h1v1h-1zM5 54h1v1h-1zM12 54h3v1h-3zM17 54h2v1h-2zM20 54h1v1h-1zM23 54h1v1h-1zM42 54h1v1h-1zM4 55h1v1h-1zM6 55h1v1h-1zM9 55h1v1h-1zM16 55h2v1h-2zM31 55h1v1h-1zM35 55h1v1h-1zM4 56h1v1h-1zM8 56h1v1h-1zM11 56h1v1h-1zM13 56h2v1h-2zM17 56h2v1h-2zM36 56h2v1h-2zM39 56h2v1h-2zM8 57h3v1h-3zM14 57h1v1h-1zM17 57h1v1h-1zM24 57h2v1h-2zM27 57h3v1h-3zM38 57h2v1h-2zM4 58h1v1h-1zM7 58h1v1h-1zM9 58h1v1h-1zM16 58h1v1h-1zM26 58h2v1h-2zM37 58h1v1h-1zM39 58h2v1h-2zM0 59h2v1h-2zM4 59h1v1h-1zM8 59h2v1h-2zM26 59h2v1h-2zM39 59h3v1h-3zM0 60h1v1h-1zM5 60h6v1h-6zM27 60h1v1h-1zM0 61h1v1h-1zM3 61h2v1h-2zM41 61h2v1h-2zM3 62h1v1h-1zM42 62h1v1h-1zM1 63h1v1h-1zM7 63h1v1h-1zM22 63h1v1h-1zM24 63h1v1h-1zM0 64h1v1h-1zM2 64h1v1h-1zM4 64h2v1h-2zM7 64h1v1h-1zM21 64h1v1h-1zM23 64h1v1h-1zM26 64h1v1h-1zM0 65h1v1h-1zM2 65h1v1h-1zM7 65h2v1h-2zM20 65h1v1h-1zM25 65h1v1h-1zM2 66h1v1h-1zM9 66h1v1h-1zM22 66h1v1h-1zM24 66h2v1h-2zM35 66h1v1h-1zM0 67h1v1h-1zM4 67h1v1h-1zM8 67h1v1h-1zM24 67h1v1h-1zM32 67h2v1h-2zM35 67h2v1h-2zM6 68h2v1h-2zM9 68h1v1h-1zM32 68h1v1h-1zM4 69h2v1h-2zM17 69h1v1h-1zM19 69h1v1h-1zM22 69h1v1h-1zM25 69h1v1h-1zM32 69h1v1h-1zM34 69h1v1h-1zM7 70h2v1h-2zM11 70h1v1h-1zM17 70h2v1h-2zM24 70h1v1h-1zM34 70h1v1h-1zM42 70h1v1h-1zM0 71h2v1h-2zM11 71h1v1h-1zM15 71h3v1h-3zM32 71h1v1h-1zM3 72h1v1h-1zM5 72h1v1h-1zM12 72h1v1h-1zM15 72h1v1h-1zM34 72h1v1h-1zM36 72h1v1h-1zM0 73h1v1h-1zM3 73h1v1h-1zM5 73h1v1h-1zM9 73h2v1h-2zM35 73h1v1h-1zM0 74h3v1h-3zM4 74h2v1h-2zM7 74h1v1h-1zM9 74h1v1h-1zM14 74h1v1h-1zM19 74h1v1h-1zM35 74h1v1h-1zM39 74h1v1h-1zM0 75h3v1h-3zM6 75h1v1h-1zM12 75h1v1h-1zM14 75h1v1h-1zM35 75h1v1h-1zM39 75h1v1h-1zM0 76h1v1h-1zM2 76h1v1h-1zM14 76h1v1h-1zM36 76h1v1h-1zM2 77h1v1h-1zM4 77h1v1h-1zM13 77h1v1h-1zM32 77h1v1h-1zM34 77h1v1h-1zM39 77h1v1h-1zM2 78h1v1h-1zM4 78h2v1h-2zM8 78h2v1h-2zM12 78h2v1h-2zM32 78h1v1h-1zM35 78h1v1h-1zM3 79h1v1h-1zM30 79h1v1h-1zM33 79h1v1h-1zM35 79h1v1h-1zM10 80h1v1h-1zM13 80h1v1h-1zM30 80h1v1h-1zM32 80h2v1h-2zM35 80h1v1h-1zM6 81h1v1h-1zM8 81h1v1h-1zM29 81h1v1h-1zM35 81h1v1h-1zM0 82h3v1h-3zM11 82h1v1h-1zM33 82h1v1h-1zM35 82h1v1h-1zM40 82h2v1h-2zM2 83h1v1h-1zM10 83h1v1h-1zM32 83h1v1h-1zM26 84h1v1h-1zM30 84h1v1h-1zM37 84h1v1h-1zM0 85h1v1h-1zM24 85h1v1h-1zM26 85h1v1h-1zM0 87h1v1h-1zM2 87h1v1h-1zM15 87h1v1h-1zM27 87h1v1h-1zM29 87h1v1h-1zM34 87h1v1h-1zM3 88h1v1h-1zM9 88h1v1h-1zM27 88h1v1h-1zM29 88h1v1h-1zM31 88h1v1h-1zM34 88h2v1h-2zM0 89h1v1h-1zM2 89h1v1h-1zM8 89h3v1h-3zM14 89h1v1h-1zM8 90h1v1h-1zM12 90h1v1h-1zM14 90h2v1h-2zM0 91h4v1h-4zM11 91h1v1h-1zM0 92h4v1h-4zM8 92h1v1h-1zM10 92h1v1h-1zM12 92h1v1h-1zM17 92h2v1h-2zM0 93h1v1h-1zM5 93h1v1h-1zM7 93h2v1h-2zM12 93h4v1h-4zM1 94h1v1h-1zM3 94h1v1h-1zM5 94h3v1h-3zM9 94h1v1h-1zM11 94h1v1h-1zM13 94h1v1h-1zM17 94h1v1h-1zM9 95h1v1h-1zM13 95h1v1h-1zM16 95h1v1h-1zM18 95h1v1h-1zM6 96h2v1h-2zM10 96h1v1h-1zM12 96h1v1h-1zM14 96h1v1h-1zM1 97h1v1h-1zM8 97h2v1h-2zM5 98h1v1h-1zM15 98h1v1h-1zM17 98h1v1h-1zM12 99h1v1h-1zM16 99h2v1h-2zM8 100h2v1h-2zM12 100h1v1h-1zM15 100h1v1h-1zM17 100h1v1h-1zM9 101h2v1h-2zM12 101h2v1h-2zM26 101h2v1h-2zM5 102h1v1h-1zM9 102h1v1h-1zM13 102h1v1h-1zM24 102h1v1h-1zM27 102h1v1h-1zM5 103h3v1h-3zM10 103h1v1h-1zM13 103h1v1h-1zM22 103h1v1h-1zM26 103h1v1h-1zM28 103h1v1h-1zM33 103h1v1h-1zM6 104h1v1h-1zM8 104h1v1h-1zM11 104h3v1h-3zM23 104h1v1h-1zM6 105h3v1h-3zM15 105h1v1h-1z"/>
<path fill="#22ff00" d="M3 0h1v1h-1zM28 0h1v1h-1zM1 1h1v1h-1zM12 1h2v1h-2zM29 1h1v1h-1zM0 2h2v1h-2zM14 2h2v1h-2zM0 3h1v1h-1zM10 3h1v1h-1zM12 3h4v1h-4zM18 3h1v1h-1zM30 3h1v1h-1zM5 4h1v1h-1zM7 4h1v1h-1zM9 4h1v1h-1zM12 4h1v1h-1zM15 4h1v1h-1zM42 4h1v1h-1zM7 5h1v1h-1zM9 5h1v1h-1zM13 5h2v1h-2zM28 5h1v1h-1zM8 6h1v1h-1zM11 6h1v1h-1zM6 7h5v1h-5zM28 7h2v1h-2zM1 8h1v1h-1zM9 8h1v1h-1zM11 8h1v1h-1zM0 9h1v1h-1zM2 9h2v1h-2zM8 9h4v1h-4zM9 10h1v1h-1zM11 10h1v1h-1zM13 10h1v1h-1zM28 10h1v1h-1zM3 11h2v1h-2zM11 11h1v1h-1zM10 12h1v1h-1zM2 13h1v1h-1zM18 13h2v1h-2zM3 15h1v1h-1zM0 17h1v1h-1zM12 17h2v1h-2zM34 17h1v1h-1zM0 18h1v1h-1zM3 18h1v1h-1zM13 18h1v1h-1zM3 19h1v1h-1zM12 19h2v1h-2zM34 19h1v1h-1zM30 20h2v1h-2zM2 21h2v1h-2zM22 21h1v1h-1zM25 21h1v1h-1zM32 21h1v1h-1zM34 21h1v1h-1zM2 22h1v1h-1zM24 22h1v1h-1zM35 22h1v1h-1zM40 22h1v1h-1zM12 23h1v1h-1zM18 23h1v1h-1zM20 23h1v1h-1zM22 23h1v1h-1zM27 23h1v1h-1zM11 24h3v1h-3zM18 24h1v1h-1zM20 24h1v1h-1zM23 24h1v1h-1zM41 24h1v1h-1zM21 25h2v1h-2zM10 26h2v1h-2zM38 26h1v1h-1zM40 26h1v1h-1zM9 27h2v1h-2zM22 27h1v1h-1zM37 27h2v1h-2zM9 28h1v1h-1zM21 28h2v1h-2zM24 28h1v1h-1zM5 29h1v1h-1zM9 29h1v1h-1zM19 29h1v1h-1zM9 30h1v1h-1zM21 30h1v1h-1zM10 31h1v1h-1zM13 31h1v1h-1zM20 31h2v1h-2zM13 32h2v1h-2zM22 32h1v1h-1zM38 32h1v1h-1zM15 33h1v1h-1zM20 33h1v1h-1zM22 33h1v1h-1zM28 33h1v1h-1zM16 35h2v1h-2zM21 35h3v1h-3zM25 35h1v1h-1zM28 35h3v1h-3zM35 35h1v1h-1zM12 36h1v1h-1zM14 36h1v1h-1zM16 36h1v1h-1zM18 36h2v1h-2zM25 36h2v1h-2zM28 36h2v1h-2zM31 36h1v1h-1zM2 37h1v1h-1zM12 37h1v1h-1zM18 37h1v1h-1zM20 37h2v1h-2zM25 37h1v1h-1zM0 38h1v1h-1zM2 38h1v1h-1zM12 38h1v1h-1zM18 38h1v1h-1zM21 38h3v1h-3zM27 38h3v1h-3zM0 39h3v1h-3zM19 39h3v1h-3zM23 39h2v1h-2zM28 39h1v1h-1zM35 39h1v1h-1zM1 40h2v1h-2zM11 40h2v1h-2zM16 40h1v1h-1zM18 40h4v1h-4zM23 40h2v1h-2zM2 41h1v1h-1zM14 41h3v1h-3zM23 41h1v1h-1zM28 41h1v1h-1zM2 42h1v1h-1zM4 42h1v1h-1zM12 42h1v1h-1zM14 42h1v1h-1zM26 42h2v1h-2zM29 42h3v1h-3zM1 43h2v1h-2zM14 43h1v1h-1zM17 43h1v1h-1zM30 43h1v1h-1zM24 44h3v1h-3zM29 44h1v1h-1zM0 45h1v1h-1zM2 45h1v1h-1zM14 45h1v1h-1zM17 45h1v1h-1zM20 45h1v1h-1zM23 45h1v1h-1zM29 45h1v1h-1zM1 46h1v1h-1zM22 46h3v1h-3zM0 47h1v1h-1zM3 47h1v1h-1zM13 47h1v1h-1zM15 47h1v1h-1zM17 47h1v1h-1zM24 47h1v1h-1zM3 48h1v1h-1zM15 48h1v1h-1zM0 49h1v1h-1zM3 49h2v1h-2zM0 50h1v1h-1zM2 50h1v1h-1zM0 51h2v1h-2zM13 51h1v1h-1zM1 52h4v1h-4zM9 52h2v1h-2zM1 53h1v1h-1zM3 53h1v1h-1zM7 53h3v1h-3zM11 53h1v1h-1zM14 53h3v1h-3zM33 53h1v1h-1zM36 53h1v1h-1zM3 54h1v1h-1zM8 54h1v1h-1zM10 54h2v1h-2zM36 54h2v1h-2zM8 55h1v1h-1zM18 55h1v1h-1zM36 55h1v1h-1zM25 56h1v1h-1zM1 57h1v1h-1zM3 57h2v1h-2zM0 58h3v1h-3zM10 58h1v1h-1zM25 58h1v1h-1zM2 59h1v1h-1zM5 59h3v1h-3zM42 59h1v1h-1zM2 60h1v1h-1zM4 60h1v1h-1zM42 60h1v1h-1zM1 61h2v1h-2zM7 61h1v1h-1zM0 62h1v1h-1zM8 64h1v1h-1zM1 65h1v1h-1zM5 65h2v1h-2zM21 65h1v1h-1zM23 65h1v1h-1zM1 66h1v1h-1zM3 66h2v1h-2zM0 68h1v1h-1zM5 68h1v1h-1zM34 68h1v1h-1zM7 69h1v1h-1zM33 69h1v1h-1zM6 70h1v1h-1zM9 70h1v1h-1zM25 70h1v1h-1zM32 70h1v1h-1zM2 71h2v1h-2zM7 71h4v1h-4zM42 71h1v1h-1zM0 72h1v1h-1zM6 72h1v1h-1zM8 72h1v1h-1zM10 72h2v1h-2zM35 72h1v1h-1zM40 72h3v1h-3zM4 73h1v1h-1zM7 73h1v1h-1zM12 73h1v1h-1zM34 73h1v1h-1zM41 73h2v1h-2zM6 74h1v1h-1zM11 74h1v1h-1zM13 74h1v1h-1zM7 75h2v1h-2zM7 76h1v1h-1zM12 76h1v1h-1zM34 76h2v1h-2zM3 77h1v1h-1zM8 77h1v1h-1zM33 77h1v1h-1zM3 78h1v1h-1zM34 78h1v1h-1zM9 79h3v1h-3zM31 79h2v1h-2zM34 79h1v1h-1zM8 80h2v1h-2zM11 80h1v1h-1zM34 80h1v1h-1zM9 81h1v1h-1zM11 81h2v1h-2zM32 81h3v1h-3zM40 81h1v1h-1zM9 82h2v1h-2zM11 83h1v1h-1zM2 85h1v1h-1zM2 86h1v1h-1zM1 87h1v1h-1zM3 87h1v1h-1zM35 87h1v1h-1zM1 88h1v1h-1zM28 88h1v1h-1zM1 89h1v1h-1zM35 89h1v1h-1zM1 90h3v1h-3zM9 90h2v1h-2zM11 92h1v1h-1zM1 93h1v1h-1zM12 94h1v1h-1zM14 94h3v1h-3zM5 95h2v1h-2zM11 95h2v1h-2zM14 95h2v1h-2zM17 95h1v1h-1zM10 99h2v1h-2zM14 99h2v1h-2zM10 100h2v1h-2zM13 100h1v1h-1zM11 101h1v1h-1zM10 102h1v1h-1zM11 103h2v1h-2zM7 104h1v1h-1zM14 104h1v1h-1zM10 105h5v1h-5zM22 105h1v1h-1z"/>
<path fill="#00e020" d="M11 4h1v1h-1zM13 4h2v1h-2zM5 5h1v1h-1zM8 5h1v1h-1zM10 5h3v1h-3zM29 5h1v1h-1zM6 6h2v1h-2zM9 6h1v1h-1zM14 6h1v1h-1zM0 8h1v1h-1zM2 8h1v1h-1zM8 8h1v1h-1zM1 9h1v1h-1zM10 10h1v1h-1zM10 11h1v1h-1zM33 17h1v1h-1zM1 18h2v1h-2zM14 18h1v1h-1zM34 18h2v1h-2zM1 19h2v1h-2zM32 20h1v1h-1zM33 21h1v1h-1zM36 21h1v1h-1zM19 22h1v1h-1zM36 22h1v1h-1zM41 22h2v1h-2zM37 23h1v1h-1zM41 23h1v1h-1zM37 26h1v1h-1zM23 27h2v1h-2zM20 29h2v1h-2zM20 32h2v1h-2zM0 33h1v1h-1zM27 34h1v1h-1zM15 36h1v1h-1zM17 36h1v1h-1zM20 36h2v1h-2zM24 36h1v1h-1zM15 37h1v1h-1zM17 37h1v1h-1zM14 38h2v1h-2zM17 38h1v1h-1zM13 39h1v1h-1zM15 39h2v1h-2zM22 39h1v1h-1zM14 40h2v1h-2zM22 40h1v1h-1zM25 40h1v1h-1zM28 40h1v1h-1zM0 41h1v1h-1zM25 41h1v1h-1zM13 42h1v1h-1zM25 42h1v1h-1zM0 43h1v1h-1zM26 43h2v1h-2zM13 45h1v1h-1zM2 46h2v1h-2zM13 46h2v1h-2zM1 47h2v1h-2zM2 48h1v1h-1zM1 49h2v1h-2zM1 50h1v1h-1zM2 51h1v1h-1zM11 52h3v1h-3zM0 53h1v1h-1zM0 54h1v1h-1zM2 54h1v1h-1zM9 54h1v1h-1zM35 54h1v1h-1zM0 55h1v1h-1zM2 55h2v1h-2zM1 56h3v1h-3zM0 57h1v1h-1zM3 59h1v1h-1zM1 60h1v1h-1zM3 60h1v1h-1zM4 65h1v1h-1zM24 65h1v1h-1zM0 66h1v1h-1zM23 66h1v1h-1zM3 67h1v1h-1zM4 68h1v1h-1zM0 69h1v1h-1zM3 69h1v1h-1zM0 70h1v1h-1zM2 70h2v1h-2zM41 71h1v1h-1zM7 72h1v1h-1zM6 73h1v1h-1zM8 73h1v1h-1zM11 73h1v1h-1zM8 74h1v1h-1zM10 74h1v1h-1zM12 74h1v1h-1zM9 75h1v1h-1zM8 76h1v1h-1zM12 77h1v1h-1zM10 78h2v1h-2zM33 78h1v1h-1zM12 79h1v1h-1zM10 81h1v1h-1zM0 90h1v1h-1zM7 95h1v1h-1zM13 99h1v1h-1zM12 102h1v1h-1zM5 104h1v1h-1z"/>
<path fill="#009966" d="M10 6h1v1h-1zM9 11h1v1h-1zM37 22h1v1h-1zM1 35h1v1h-1zM22 36h1v1h-1zM0 37h1v1h-1zM14 37h1v1h-1zM16 37h1v1h-1zM29 37h1v1h-1zM13 38h1v1h-1zM12 39h1v1h-1zM14 39h1v1h-1zM17 39h1v1h-1zM0 40h1v1h-1zM13 40h1v1h-1zM13 41h1v1h-1zM24 41h1v1h-1zM27 41h1v1h-1zM24 42h1v1h-1zM25 43h1v1h-1zM10 53h1v1h-1zM1 54h1v1h-1zM0 56h1v1h-1zM3 58h1v1h-1zM0 63h1v1h-1zM3 64h1v1h-1zM3 65h1v1h-1zM1 68h1v1h-1zM3 68h1v1h-1zM1 69h2v1h-2zM1 70h1v1h-1zM10 75h1v1h-1zM9 76h3v1h-3zM9 77h3v1h-3zM40 77h1v1h-1zM40 79h1v1h-1z"/>
<path fill="#006688" d="M29 4h1v1h-1zM14 31h1v1h-1zM27 36h1v1h-1zM19 37h1v1h-1zM24 37h1v1h-1zM19 38h1v1h-1zM18 39h1v1h-1zM27 44h1v1h-1zM0 48h1v1h-1zM2 57h1v1h-1zM1 67h1v1h-1zM2 68h1v1h-1zM5 71h1v1h-1zM11 75h1v1h-1zM40 75h2v1h-2zM40 78h1v1h-1zM40 80h2v1h-2z"/>
<path fill="#0033cc" d="M13 37h1v1h-1zM16 38h1v1h-1zM12 41h1v1h-1zM0 46h1v1h-1zM3 51h1v1h-1zM0 52h1v1h-1zM2 53h1v1h-1zM2 73h1v1h-1zM40 74h2v1h-2zM41 76h1v1h-1zM41 77h1v1h-1zM41 78h1v1h-1z"/>
<path fill="#0000ff" d="M1 55h1v1h-1zM2 67h1v1h-1zM40 73h1v1h-1zM42 77h1v1h-1zM42 78h1v1h-1zM41 79h1v1h-1zM41 81h2v1h-2zM41 84h2v1h-2z"/>
<path fill="#2222ff" d="M42 75h1v1h-1zM42 80h1v1h-1zM42 83h1v1h-1z"/>
<path fill="#4433ff" d="M40 76h1v1h-1zM42 76h1v1h-1z"/>
<path fill="#6644ff" d="M42 74h1v1h-1zM42 79h1v1h-1zM42 82h1v1h-1z"/>
</svg>
<path d="M136.7,8.1C134.3,7.4 133.3,10.9 130.6,12.1C127.9,13.3 124.3,14.4 120.6,15.1C116.9,15.8 111.7,15.5 108.5,16.1C105.3,16.7 104.4,16.6 101.4,18.5C98.4,20.4 94.8,23.9 90.3,27.2C85.8,30.5 78.7,34.8 74.2,38.3C69.7,41.8 65.6,45.7 63.1,48.4C60.6,51.1 60.0,52.0 59.1,54.4C58.2,56.8 58.0,58.8 57.7,62.5C57.4,66.2 57.5,72.2 57.1,76.6C56.8,81.0 56.2,84.3 55.6,88.7C55.0,93.1 54.1,98.8 53.6,102.8C53.1,106.8 52.5,110.0 52.4,112.9C52.3,115.9 52.5,119.0 53.3,120.5C54.1,122.0 56.2,121.5 57.4,122.1C58.6,122.7 60.4,123.1 60.5,124.2C60.6,125.3 58.5,126.9 58.0,128.7C57.5,130.5 57.1,132.8 57.4,134.9C57.6,137.0 58.6,139.5 59.5,141.0C60.4,142.5 63.4,143.4 63.0,144.1C62.6,144.8 58.8,144.8 57.4,145.1C56.0,145.4 55.3,144.7 54.8,146.1C54.3,147.5 54.2,151.1 54.4,153.3C54.6,155.5 55.9,157.4 56.0,159.5C56.1,161.6 54.7,163.2 54.8,165.6C54.9,168.0 55.4,171.6 56.4,173.8C57.4,176.0 59.1,176.9 60.5,179.0C61.9,181.1 63.4,182.2 64.6,186.1C65.8,190.0 66.8,198.2 67.7,202.5C68.6,206.8 69.1,208.9 69.8,212.0C70.5,215.1 70.9,218.6 71.8,221.3C72.7,224.1 74.8,225.2 75.3,228.5C75.8,231.8 74.9,237.1 74.5,240.8C74.1,244.6 73.1,247.1 72.8,251.0C72.5,254.9 72.8,260.9 72.4,264.3C72.0,267.7 70.9,268.9 70.4,271.5C70.0,274.1 69.6,276.6 69.7,279.7C69.8,282.8 69.8,286.6 70.8,290.0C71.8,293.4 73.9,296.4 75.9,300.2C78.0,303.9 80.5,308.4 83.1,312.5C85.7,316.6 88.6,321.2 91.3,324.8C94.0,328.4 96.2,329.9 99.5,334.4C102.8,338.9 107.7,347.0 110.8,351.8C113.9,356.6 115.4,358.5 117.9,363.1C120.5,367.7 124.0,374.4 126.1,379.5C128.1,384.6 129.3,389.4 130.2,393.8C131.1,398.2 130.6,402.6 131.3,406.1C132.0,409.6 132.9,411.7 134.4,414.6C135.9,417.5 138.0,420.1 140.3,423.4C142.6,426.7 145.2,430.5 148.3,434.4C151.4,438.3 155.2,443.1 158.6,446.9C162.0,450.7 165.6,454.1 168.8,457.1C172.0,460.2 175.2,463.4 177.6,465.2C180.0,467.0 182.2,467.0 183.2,468.1C184.2,469.2 183.7,470.5 183.5,471.8C183.3,473.1 181.3,475.2 182.0,475.9C182.7,476.6 185.7,476.4 187.9,476.2C190.1,475.9 192.5,474.9 195.2,474.4C197.9,473.9 201.8,474.4 204.0,473.2C206.2,472.0 206.7,470.3 208.4,467.4C210.1,464.5 211.9,459.6 214.3,455.7C216.7,451.8 220.3,448.0 223.0,443.9C225.7,439.8 228.4,434.7 230.4,430.8C232.4,426.9 233.5,424.2 234.8,420.5C236.1,416.8 237.5,412.6 238.4,408.8C239.3,405.0 239.9,400.9 240.0,397.9C240.1,394.9 239.9,392.6 238.9,390.8C237.9,389.0 235.9,388.0 233.8,387.3C231.8,386.6 228.8,387.7 226.6,386.7C224.4,385.7 222.2,384.4 220.5,381.5C218.8,378.6 217.6,373.3 216.4,369.2C215.2,365.1 214.1,360.8 213.3,356.9C212.6,353.0 211.6,348.0 211.9,345.6C212.2,343.2 214.6,344.1 215.3,342.6C216.0,341.1 215.5,338.4 216.0,336.4C216.5,334.3 217.5,333.0 218.4,330.3C219.3,327.6 221.0,321.9 221.5,320.0C222.0,318.1 221.7,319.9 221.5,318.7C221.3,317.4 220.2,315.2 220.1,312.5C220.0,309.8 220.9,306.4 220.9,302.3C220.9,298.2 220.0,291.7 220.1,287.9C220.2,284.1 221.6,282.1 221.5,279.7C221.4,277.3 220.3,276.3 219.5,273.6C218.7,270.9 216.8,267.1 216.8,263.3C216.8,259.5 218.7,255.4 219.5,251.0C220.3,246.6 221.4,240.8 221.5,236.7C221.6,232.6 220.8,230.8 220.1,226.4C219.4,222.0 218.2,214.7 217.4,210.0C216.6,205.3 216.2,203.1 215.3,198.4C214.5,193.7 213.3,187.1 212.3,182.0C211.3,176.9 210.2,172.5 209.2,167.7C208.2,162.9 208.0,159.1 206.1,153.3C204.2,147.5 200.6,139.6 197.9,132.8C195.2,126.0 192.4,117.8 189.7,112.3C187.0,106.8 183.8,104.6 181.5,100.0C179.2,95.4 177.8,88.9 176.0,84.7C174.2,80.5 172.7,78.0 171.0,74.6C169.3,71.2 167.8,68.4 165.9,64.5C164.1,60.6 161.3,55.1 159.9,51.4C158.5,47.7 158.1,45.5 157.5,42.3C156.9,39.1 157.1,35.1 156.3,32.3C155.5,29.4 154.7,27.9 152.8,25.2C150.9,22.5 147.5,19.0 144.8,16.1C142.1,13.3 139.1,8.8 136.7,8.1Z" fill="none" stroke="#ff0000" stroke-width="1.6" stroke-linejoin="round"/>
<rect x="52.2" y="8.0" width="188.3" height="468.2" fill="none" stroke="#8c8c8c" stroke-width="0.8"/>
<path d="M53.1,2.0V8.0M53.1,476.2V481.2M97.5,2.0V8.0M97.5,476.2V481.2M141.8,2.0V8.0M141.8,476.2V481.2M186.2,2.0V8.0M186.2,476.2V481.2M230.6,2.0V8.0M230.6,476.2V481.2M46.2,10.5H52.2M240.5,10.5H246.5M46.2,54.7H52.2M240.5,54.7H246.5M46.2,98.9H52.2M240.5,98.9H246.5M46.2,143.2H52.2M240.5,143.2H246.5M46.2,187.4H52.2M240.5,187.4H246.5M46.2,231.6H52.2M240.5,231.6H246.5M46.2,275.8H52.2M240.5,275.8H246.5M46.2,320.0H52.2M240.5,320.0H246.5M46.2,364.3H52.2M240.5,364.3H246.5M46.2,408.5H52.2M240.5,408.5H246.5M46.2,452.7H52.2M240.5,452.7H246.5" stroke="#8c8c8c" stroke-width="1" fill="none"/>
<text x="43.7" y="14.8" font-size="10.6" text-anchor="end" font-weight="normal" font-family="'Liberation Sans', Arial, sans-serif" fill="#000">4381000</text>
<text x="43.7" y="59.0" font-size="10.6" text-anchor="end" font-weight="normal" font-family="'Liberation Sans', Arial, sans-serif" fill="#000">4380000</text>
<text x="43.7" y="103.2" font-size="10.6" text-anchor="end" font-weight="normal" font-family="'Liberation Sans', Arial, sans-serif" fill="#000">4379000</text>
<text x="43.7" y="147.5" font-size="10.6" text-anchor="end" font-weight="normal" font-family="'Liberation Sans', Arial, sans-serif" fill="#000">4378000</text>
<text x="43.7" y="191.7" font-size="10.6" text-anchor="end" font-weight="normal" font-family="'Liberation Sans', Arial, sans-serif" fill="#000">4377000</text>
<text x="43.7" y="235.9" font-size="10.6" text-anchor="end" font-weight="normal" font-family="'Liberation Sans', Arial, sans-serif" fill="#000">4376000</text>
<text x="43.7" y="280.1" font-size="10.6" text-anchor="end" font-weight="normal" font-family="'Liberation Sans', Arial, sans-serif" fill="#000">4375000</text>
<text x="43.7" y="324.3" font-size="10.6" text-anchor="end" font-weight="normal" font-family="'Liberation Sans', Arial, sans-serif" fill="#000">4374000</text>
<text x="43.7" y="368.6" font-size="10.6" text-anchor="end" font-weight="normal" font-family="'Liberation Sans', Arial, sans-serif" fill="#000">4373000</text>
<text x="43.7" y="412.8" font-size="10.6" text-anchor="end" font-weight="normal" font-family="'Liberation Sans', Arial, sans-serif" fill="#000">4372000</text>
<text x="43.7" y="457.0" font-size="10.6" text-anchor="end" font-weight="normal" font-family="'Liberation Sans', Arial, sans-serif" fill="#000">4371000</text>
<text x="53.1" y="493.2" font-size="10.6" text-anchor="middle" font-weight="normal" font-family="'Liberation Sans', Arial, sans-serif" fill="#000">638000</text>
<text x="97.5" y="493.2" font-size="10.6" text-anchor="middle" font-weight="normal" font-family="'Liberation Sans', Arial, sans-serif" fill="#000">639000</text>
<text x="141.8" y="493.2" font-size="10.6" text-anchor="middle" font-weight="normal" font-family="'Liberation Sans', Arial, sans-serif" fill="#000">640000</text>
<text x="186.2" y="493.2" font-size="10.6" text-anchor="middle" font-weight="normal" font-family="'Liberation Sans', Arial, sans-serif" fill="#000">641000</text>
<text x="230.6" y="493.2" font-size="10.6" text-anchor="middle" font-weight="normal" font-family="'Liberation Sans', Arial, sans-serif" fill="#000">642000</text>
<rect x="279.8" y="86.00" width="19.3" height="14.50" fill="#ff0000"/>
<rect x="279.8" y="100.20" width="19.3" height="14.50" fill="#ff1a00"/>
<rect x="279.8" y="114.40" width="19.3" height="14.50" fill="#ff3300"/>
<rect x="279.8" y="128.60" width="19.3" height="14.50" fill="#ff4d00"/>
<rect x="279.8" y="142.80" width="19.3" height="14.50" fill="#ff6600"/>
<rect x="279.8" y="157.00" width="19.3" height="14.50" fill="#ff8000"/>
<rect x="279.8" y="171.20" width="19.3" height="14.50" fill="#ffa000"/>
<rect x="279.8" y="185.40" width="19.3" height="14.50" fill="#ffc800"/>
<rect x="279.8" y="199.60" width="19.3" height="14.50" fill="#fff000"/>
<rect x="279.8" y="213.80" width="19.3" height="14.50" fill="#dfff00"/>
<rect x="279.8" y="228.00" width="19.3" height="14.50" fill="#aaff00"/>
<rect x="279.8" y="242.20" width="19.3" height="14.50" fill="#66ff00"/>
<rect x="279.8" y="256.40" width="19.3" height="14.50" fill="#22ff00"/>
<rect x="279.8" y="270.60" width="19.3" height="14.50" fill="#00e020"/>
<rect x="279.8" y="284.80" width="19.3" height="14.50" fill="#009966"/>
<rect x="279.8" y="299.00" width="19.3" height="14.50" fill="#006688"/>
<rect x="279.8" y="313.20" width="19.3" height="14.50" fill="#0033cc"/>
<rect x="279.8" y="327.40" width="19.3" height="14.50" fill="#0000ff"/>
<rect x="279.8" y="341.60" width="19.3" height="14.50" fill="#2222ff"/>
<rect x="279.8" y="355.80" width="19.3" height="14.50" fill="#4433ff"/>
<rect x="279.8" y="370.00" width="19.3" height="14.50" fill="#6644ff"/>
<rect x="279.8" y="384.20" width="19.3" height="14.50" fill="#9966ff"/>
<path d="M279.8,100.20h19.3M279.8,114.40h19.3M279.8,128.60h19.3M279.8,142.80h19.3M279.8,157.00h19.3M279.8,171.20h19.3M279.8,185.40h19.3M279.8,199.60h19.3M279.8,213.80h19.3M279.8,228.00h19.3M279.8,242.20h19.3M279.8,256.40h19.3M279.8,270.60h19.3M279.8,284.80h19.3M279.8,299.00h19.3M279.8,313.20h19.3M279.8,327.40h19.3M279.8,341.60h19.3M279.8,355.80h19.3M279.8,370.00h19.3M279.8,384.20h19.3" stroke="#000" stroke-opacity="0.25" stroke-width="0.6"/>
<rect x="279.8" y="86.0" width="19.3" height="312.4" fill="none" stroke="#000" stroke-opacity="0.2" stroke-width="0.6"/>
<text x="302.3" y="104.6" font-size="10.6" text-anchor="start" font-weight="normal" font-family="'Liberation Sans', Arial, sans-serif" fill="#000">314</text>
<text x="302.3" y="118.8" font-size="10.6" text-anchor="start" font-weight="normal" font-family="'Liberation Sans', Arial, sans-serif" fill="#000">313</text>
<text x="302.3" y="133.0" font-size="10.6" text-anchor="start" font-weight="normal" font-family="'Liberation Sans', Arial, sans-serif" fill="#000">312</text>
<text x="302.3" y="147.2" font-size="10.6" text-anchor="start" font-weight="normal" font-family="'Liberation Sans', Arial, sans-serif" fill="#000">311</text>
<text x="302.3" y="161.4" font-size="10.6" text-anchor="start" font-weight="normal" font-family="'Liberation Sans', Arial, sans-serif" fill="#000">310</text>
<text x="302.3" y="175.6" font-size="10.6" text-anchor="start" font-weight="normal" font-family="'Liberation Sans', Arial, sans-serif" fill="#000">309</text>
<text x="302.3" y="189.8" font-size="10.6" text-anchor="start" font-weight="normal" font-family="'Liberation Sans', Arial, sans-serif" fill="#000">308</text>
<text x="302.3" y="204.0" font-size="10.6" text-anchor="start" font-weight="normal" font-family="'Liberation Sans', Arial, sans-serif" fill="#000">307</text>
<text x="302.3" y="218.2" font-size="10.6" text-anchor="start" font-weight="normal" font-family="'Liberation Sans', Arial, sans-serif" fill="#000">306</text>
<text x="302.3" y="232.4" font-size="10.6" text-anchor="start" font-weight="normal" font-family="'Liberation Sans', Arial, sans-serif" fill="#000">305</text>
<text x="302.3" y="246.6" font-size="10.6" text-anchor="start" font-weight="normal" font-family="'Liberation Sans', Arial, sans-serif" fill="#000">304</text>
<text x="302.3" y="260.8" font-size="10.6" text-anchor="start" font-weight="normal" font-family="'Liberation Sans', Arial, sans-serif" fill="#000">303</text>
<text x="302.3" y="275.0" font-size="10.6" text-anchor="start" font-weight="normal" font-family="'Liberation Sans', Arial, sans-serif" fill="#000">302</text>
<text x="302.3" y="289.2" font-size="10.6" text-anchor="start" font-weight="normal" font-family="'Liberation Sans', Arial, sans-serif" fill="#000">301</text>
<text x="302.3" y="303.4" font-size="10.6" text-anchor="start" font-weight="normal" font-family="'Liberation Sans', Arial, sans-serif" fill="#000">300</text>
<text x="302.3" y="317.6" font-size="10.6" text-anchor="start" font-weight="normal" font-family="'Liberation Sans', Arial, sans-serif" fill="#000">299</text>
<text x="302.3" y="331.8" font-size="10.6" text-anchor="start" font-weight="normal" font-family="'Liberation Sans', Arial, sans-serif" fill="#000">298</text>
<text x="302.3" y="346.0" font-size="10.6" text-anchor="start" font-weight="normal" font-family="'Liberation Sans', Arial, sans-serif" fill="#000">297</text>
<text x="302.3" y="360.2" font-size="10.6" text-anchor="start" font-weight="normal" font-family="'Liberation Sans', Arial, sans-serif" fill="#000">296</text>
<text x="302.3" y="374.4" font-size="10.6" text-anchor="start" font-weight="normal" font-family="'Liberation Sans', Arial, sans-serif" fill="#000">295</text>
<text x="302.3" y="388.6" font-size="10.6" text-anchor="start" font-weight="normal" font-family="'Liberation Sans', Arial, sans-serif" fill="#000">294</text>
<text x="302.3" y="402.8" font-size="10.6" text-anchor="start" font-weight="normal" font-family="'Liberation Sans', Arial, sans-serif" fill="#000">293</text>
<text x="284.4" y="432.2" font-size="13" text-anchor="start" font-weight="normal" font-family="'Liberation Sans', Arial, sans-serif" fill="#000">T (K)</text>
<path d="M280.2,22.3 L273.2,44.3 L280.2,36.8 Z" fill="#000"/>
<path d="M280.2,22.3 L287.2,44.3 L280.2,36.8 Z" fill="none" stroke="#000" stroke-width="1.1" stroke-linejoin="miter"/>
<text x="280.2" y="20.2" font-size="9.2" text-anchor="middle" font-weight="bold" font-family="'Liberation Sans', Arial, sans-serif" fill="#000">N</text>
<text x="78.2" y="513.9" font-size="13.0" text-anchor="start" font-weight="normal" font-family="'Liberation Sans', Arial, sans-serif" fill="#000">WGS 84,&#160; UTM Zone 48N</text>
<rect x="52.9" y="523.3" width="44.4" height="7.7000000000000455" fill="#000" stroke="#999" stroke-width="0.6"/>
<rect x="97.3" y="523.3" width="44.4" height="7.7000000000000455" fill="#fff" stroke="#999" stroke-width="0.6"/>
<rect x="141.8" y="523.3" width="44.4" height="7.7000000000000455" fill="#000" stroke="#999" stroke-width="0.6"/>
<rect x="186.2" y="523.3" width="44.4" height="7.7000000000000455" fill="#fff" stroke="#999" stroke-width="0.6"/>
<text x="52.9" y="542.6" font-size="12.4" text-anchor="middle" font-weight="normal" font-family="'Liberation Sans', Arial, sans-serif" fill="#000">0</text>
<text x="97.3" y="542.6" font-size="12.4" text-anchor="middle" font-weight="normal" font-family="'Liberation Sans', Arial, sans-serif" fill="#000">1000</text>
<text x="141.8" y="542.6" font-size="12.4" text-anchor="middle" font-weight="normal" font-family="'Liberation Sans', Arial, sans-serif" fill="#000">2000</text>
<text x="186.2" y="542.6" font-size="12.4" text-anchor="middle" font-weight="normal" font-family="'Liberation Sans', Arial, sans-serif" fill="#000">3000</text>
<text x="230.6" y="542.6" font-size="12.4" text-anchor="middle" font-weight="normal" font-family="'Liberation Sans', Arial, sans-serif" fill="#000">4000</text>
<text x="246.1" y="533.3" font-size="12.8" text-anchor="start" font-weight="normal" font-family="'Liberation Sans', Arial, sans-serif" fill="#000">Meters</text>
<path d="M52.3,556.6H105.6" stroke="#ff2020" stroke-width="1.4"/>
<text x="122.9" y="560.6" font-size="12.95" text-anchor="start" font-weight="normal" font-family="'Liberation Sans', Arial, sans-serif" fill="#000">Coal field boundary</text>
<text x="166.0" y="588.8" font-size="26" text-anchor="middle" font-weight="normal" font-family="'Liberation Serif', 'Times New Roman', serif" fill="#000" style="stroke:none">(<tspan font-weight="bold">a</tspan>)</text>
<svg x="439.2" y="8.0" width="189.10" height="468.20" viewBox="0 0 43 106" preserveAspectRatio="none" shape-rendering="crispEdges">
<rect width="43" height="106" fill="#5533ff"/>
<path fill="#ffa000" d="M30 0h1v1h-1zM30 1h1v1h-1zM28 2h1v1h-1zM25 7h1v1h-1zM4 36h2v1h-2zM40 75h1v1h-1zM40 77h1v1h-1zM42 80h1v1h-1zM42 81h1v1h-1z"/>
<path fill="#ffd800" d="M26 1h1v1h-1zM29 1h1v1h-1zM27 2h1v1h-1zM26 7h2v1h-2zM31 7h1v1h-1zM37 9h1v1h-1zM32 11h1v1h-1zM38 26h1v1h-1zM36 28h1v1h-1zM36 29h2v1h-2zM42 36h1v1h-1zM42 37h1v1h-1zM4 38h1v1h-1zM41 72h1v1h-1zM41 75h1v1h-1zM42 77h1v1h-1zM40 78h1v1h-1zM42 78h1v1h-1zM42 79h1v1h-1zM41 80h1v1h-1zM41 81h1v1h-1zM42 82h1v1h-1zM41 83h2v1h-2z"/>
<path fill="#e0ff00" d="M39 0h1v1h-1zM25 6h2v1h-2zM18 8h1v1h-1zM25 8h1v1h-1zM17 11h1v1h-1zM37 11h1v1h-1zM18 17h1v1h-1zM6 25h1v1h-1zM39 25h1v1h-1zM2 27h1v1h-1zM0 28h1v1h-1zM2 28h1v1h-1zM37 28h1v1h-1zM0 29h1v1h-1zM38 29h1v1h-1zM39 30h1v1h-1zM39 31h1v1h-1zM0 32h1v1h-1zM0 35h1v1h-1zM2 35h2v1h-2zM42 35h1v1h-1zM0 36h1v1h-1zM6 39h1v1h-1zM42 40h1v1h-1zM0 41h1v1h-1zM0 42h1v1h-1zM42 42h1v1h-1zM34 44h1v1h-1zM0 45h1v1h-1zM33 45h1v1h-1zM42 46h1v1h-1zM0 54h1v1h-1zM18 61h1v1h-1zM19 63h1v1h-1zM42 63h1v1h-1zM41 64h1v1h-1zM42 65h1v1h-1zM9 66h1v1h-1zM42 74h1v1h-1zM30 75h1v1h-1zM40 76h2v1h-2zM0 77h1v1h-1zM0 78h1v1h-1zM40 82h2v1h-2zM42 84h1v1h-1zM33 92h1v1h-1zM37 93h1v1h-1z"/>
<path fill="#99ff00" d="M26 0h1v1h-1zM39 1h1v1h-1zM29 2h1v1h-1zM37 3h2v1h-2zM34 4h1v1h-1zM38 4h1v1h-1zM27 6h1v1h-1zM39 7h1v1h-1zM30 8h1v1h-1zM30 9h1v1h-1zM36 9h1v1h-1zM31 10h1v1h-1zM36 10h2v1h-2zM7 12h1v1h-1zM33 12h1v1h-1zM37 12h2v1h-2zM7 13h1v1h-1zM35 13h1v1h-1zM36 14h1v1h-1zM33 15h1v1h-1zM3 16h1v1h-1zM17 16h1v1h-1zM19 17h1v1h-1zM19 20h2v1h-2zM40 25h1v1h-1zM37 27h1v1h-1zM38 28h1v1h-1zM2 29h1v1h-1zM39 29h1v1h-1zM1 31h1v1h-1zM42 32h1v1h-1zM0 33h1v1h-1zM0 34h2v1h-2zM1 35h1v1h-1zM1 36h1v1h-1zM0 37h1v1h-1zM3 37h1v1h-1zM7 37h1v1h-1zM34 37h1v1h-1zM34 38h1v1h-1zM40 38h1v1h-1zM0 39h1v1h-1zM42 39h1v1h-1zM0 40h1v1h-1zM42 41h1v1h-1zM0 43h1v1h-1zM42 43h1v1h-1zM35 44h1v1h-1zM42 44h1v1h-1zM28 45h1v1h-1zM30 45h1v1h-1zM34 45h1v1h-1zM0 46h1v1h-1zM0 47h1v1h-1zM0 48h1v1h-1zM0 49h1v1h-1zM0 51h1v1h-1zM0 52h1v1h-1zM16 52h1v1h-1zM0 53h1v1h-1zM17 53h1v1h-1zM0 55h1v1h-1zM0 56h1v1h-1zM15 59h1v1h-1zM16 60h1v1h-1zM18 60h1v1h-1zM8 63h1v1h-1zM41 63h1v1h-1zM9 64h1v1h-1zM42 64h1v1h-1zM19 65h1v1h-1zM41 65h1v1h-1zM41 66h1v1h-1zM17 67h1v1h-1zM18 70h1v1h-1zM41 71h1v1h-1zM0 73h1v1h-1zM42 73h1v1h-1zM31 74h1v1h-1zM42 75h1v1h-1zM29 77h1v1h-1zM31 78h1v1h-1zM41 79h1v1h-1zM42 85h1v1h-1zM31 91h1v1h-1zM34 91h3v1h-3zM38 91h1v1h-1zM34 92h2v1h-2zM39 103h1v1h-1z"/>
<path fill="#22ff00" d="M29 0h1v1h-1zM31 0h1v1h-1zM35 0h1v1h-1zM27 1h1v1h-1zM26 2h1v1h-1zM36 3h1v1h-1zM35 4h1v1h-1zM33 5h1v1h-1zM32 6h2v1h-2zM21 7h1v1h-1zM24 7h1v1h-1zM24 8h1v1h-1zM31 8h1v1h-1zM38 8h2v1h-2zM19 9h1v1h-1zM38 9h1v1h-1zM13 10h1v1h-1zM16 12h1v1h-1zM18 12h1v1h-1zM39 12h1v1h-1zM32 13h1v1h-1zM36 13h1v1h-1zM7 14h1v1h-1zM16 14h1v1h-1zM33 14h1v1h-1zM36 15h1v1h-1zM14 16h1v1h-1zM37 16h1v1h-1zM3 17h1v1h-1zM13 17h1v1h-1zM15 17h1v1h-1zM38 17h1v1h-1zM15 18h1v1h-1zM3 19h1v1h-1zM13 19h2v1h-2zM0 20h3v1h-3zM17 20h2v1h-2zM0 21h1v1h-1zM15 21h1v1h-1zM38 22h1v1h-1zM14 23h1v1h-1zM36 23h1v1h-1zM5 24h1v1h-1zM36 24h1v1h-1zM41 25h1v1h-1zM1 26h1v1h-1zM0 27h1v1h-1zM5 27h2v1h-2zM38 27h1v1h-1zM0 30h1v1h-1zM2 30h1v1h-1zM2 31h1v1h-1zM4 32h1v1h-1zM3 33h1v1h-1zM42 33h1v1h-1zM3 34h1v1h-1zM36 34h1v1h-1zM42 34h1v1h-1zM3 36h1v1h-1zM14 37h2v1h-2zM32 37h2v1h-2zM0 38h1v1h-1zM3 38h1v1h-1zM5 38h1v1h-1zM32 38h2v1h-2zM42 38h1v1h-1zM40 39h1v1h-1zM35 40h1v1h-1zM33 43h1v1h-1zM0 44h1v1h-1zM31 44h1v1h-1zM33 44h1v1h-1zM29 45h1v1h-1zM42 45h1v1h-1zM31 46h1v1h-1zM30 47h1v1h-1zM35 47h1v1h-1zM0 50h1v1h-1zM26 52h1v1h-1zM25 56h1v1h-1zM34 56h1v1h-1zM0 57h1v1h-1zM32 58h1v1h-1zM16 59h1v1h-1zM15 60h1v1h-1zM13 61h1v1h-1zM16 61h1v1h-1zM13 62h1v1h-1zM15 62h1v1h-1zM17 62h1v1h-1zM19 62h1v1h-1zM42 62h1v1h-1zM15 63h1v1h-1zM18 63h1v1h-1zM19 64h1v1h-1zM9 65h1v1h-1zM42 66h1v1h-1zM18 67h1v1h-1zM17 70h1v1h-1zM19 70h1v1h-1zM32 71h1v1h-1zM34 71h1v1h-1zM32 72h1v1h-1zM0 74h1v1h-1zM35 74h1v1h-1zM0 75h1v1h-1zM29 75h1v1h-1zM0 76h1v1h-1zM42 76h1v1h-1zM30 77h1v1h-1zM37 77h1v1h-1zM41 77h1v1h-1zM28 78h1v1h-1zM0 79h1v1h-1zM38 82h1v1h-1zM18 83h2v1h-2zM40 83h1v1h-1zM19 84h1v1h-1zM40 84h2v1h-2zM41 85h1v1h-1zM41 86h2v1h-2zM33 91h1v1h-1zM17 92h1v1h-1zM38 92h1v1h-1zM30 93h1v1h-1zM32 93h2v1h-2zM36 93h1v1h-1zM28 94h2v1h-2zM31 94h2v1h-2zM16 103h1v1h-1zM35 104h1v1h-1zM39 104h1v1h-1zM35 105h1v1h-1z"/>
<path fill="#00cc44" d="M21 0h1v1h-1zM23 0h1v1h-1zM23 1h1v1h-1zM28 1h1v1h-1zM38 1h1v1h-1zM23 2h1v1h-1zM35 3h1v1h-1zM20 5h1v1h-1zM26 5h1v1h-1zM34 5h1v1h-1zM20 6h1v1h-1zM39 6h1v1h-1zM18 7h1v1h-1zM32 7h1v1h-1zM41 7h1v1h-1zM22 8h2v1h-2zM26 8h1v1h-1zM35 8h1v1h-1zM14 9h1v1h-1zM24 9h1v1h-1zM29 9h1v1h-1zM12 10h1v1h-1zM27 10h1v1h-1zM16 11h1v1h-1zM36 11h1v1h-1zM3 12h1v1h-1zM31 12h1v1h-1zM34 12h1v1h-1zM36 12h1v1h-1zM3 13h1v1h-1zM16 13h1v1h-1zM19 13h1v1h-1zM7 15h1v1h-1zM3 18h1v1h-1zM13 18h1v1h-1zM7 19h1v1h-1zM39 19h1v1h-1zM3 20h1v1h-1zM13 20h1v1h-1zM37 20h2v1h-2zM1 21h2v1h-2zM39 21h1v1h-1zM0 22h3v1h-3zM37 22h1v1h-1zM39 22h1v1h-1zM0 23h2v1h-2zM9 24h1v1h-1zM37 24h1v1h-1zM42 24h1v1h-1zM9 25h1v1h-1zM38 25h1v1h-1zM42 25h1v1h-1zM2 26h1v1h-1zM4 27h1v1h-1zM7 27h1v1h-1zM9 27h2v1h-2zM26 29h1v1h-1zM3 30h1v1h-1zM20 30h1v1h-1zM0 31h1v1h-1zM21 31h3v1h-3zM26 31h1v1h-1zM25 32h1v1h-1zM2 33h1v1h-1zM24 33h2v1h-2zM23 34h1v1h-1zM4 35h1v1h-1zM7 35h1v1h-1zM22 35h1v1h-1zM35 35h1v1h-1zM14 36h3v1h-3zM2 37h1v1h-1zM6 37h1v1h-1zM12 37h2v1h-2zM16 37h1v1h-1zM6 38h1v1h-1zM12 38h3v1h-3zM33 39h1v1h-1zM33 41h1v1h-1zM33 42h1v1h-1zM6 43h1v1h-1zM31 43h1v1h-1zM5 44h1v1h-1zM18 44h1v1h-1zM20 44h1v1h-1zM26 44h1v1h-1zM4 45h1v1h-1zM19 45h3v1h-3zM26 45h1v1h-1zM6 46h1v1h-1zM32 46h1v1h-1zM34 46h1v1h-1zM25 47h1v1h-1zM36 48h1v1h-1zM39 48h1v1h-1zM27 52h1v1h-1zM20 53h1v1h-1zM26 53h1v1h-1zM16 54h1v1h-1zM18 54h1v1h-1zM33 54h1v1h-1zM36 54h1v1h-1zM10 55h1v1h-1zM25 55h1v1h-1zM10 56h2v1h-2zM9 57h1v1h-1zM32 57h2v1h-2zM33 58h1v1h-1zM14 59h1v1h-1zM18 59h2v1h-2zM5 60h3v1h-3zM9 60h1v1h-1zM19 60h1v1h-1zM40 60h3v1h-3zM8 61h1v1h-1zM10 61h1v1h-1zM19 61h1v1h-1zM41 61h2v1h-2zM8 62h1v1h-1zM10 62h1v1h-1zM10 63h1v1h-1zM20 63h1v1h-1zM8 66h1v1h-1zM10 66h2v1h-2zM18 66h2v1h-2zM40 66h1v1h-1zM9 67h2v1h-2zM13 67h1v1h-1zM40 67h1v1h-1zM16 68h1v1h-1zM8 69h1v1h-1zM18 69h3v1h-3zM8 70h1v1h-1zM11 70h3v1h-3zM32 70h1v1h-1zM22 71h1v1h-1zM21 72h1v1h-1zM34 72h1v1h-1zM35 73h1v1h-1zM41 73h1v1h-1zM20 74h1v1h-1zM39 74h1v1h-1zM18 75h1v1h-1zM36 75h1v1h-1zM17 76h1v1h-1zM27 76h1v1h-1zM36 76h1v1h-1zM38 76h1v1h-1zM9 77h1v1h-1zM38 77h1v1h-1zM30 78h1v1h-1zM37 78h2v1h-2zM40 79h1v1h-1zM16 80h1v1h-1zM34 81h1v1h-1zM37 81h1v1h-1zM40 81h1v1h-1zM39 82h1v1h-1zM17 83h1v1h-1zM39 83h1v1h-1zM18 84h1v1h-1zM26 87h2v1h-2zM19 89h1v1h-1zM16 90h1v1h-1zM38 90h1v1h-1zM16 92h1v1h-1zM30 92h1v1h-1zM32 92h1v1h-1zM36 92h1v1h-1zM40 92h1v1h-1zM16 93h2v1h-2zM34 94h2v1h-2zM36 96h1v1h-1zM35 103h1v1h-1zM33 104h1v1h-1zM19 105h1v1h-1zM38 105h1v1h-1z"/>
<path fill="#006688" d="M27 0h2v1h-2zM34 0h1v1h-1zM38 0h1v1h-1zM21 1h1v1h-1zM31 1h1v1h-1zM40 1h1v1h-1zM22 2h1v1h-1zM38 2h1v1h-1zM22 3h1v1h-1zM27 3h2v1h-2zM20 4h1v1h-1zM36 4h1v1h-1zM28 6h1v1h-1zM34 6h1v1h-1zM16 7h2v1h-2zM22 7h1v1h-1zM33 7h1v1h-1zM12 8h1v1h-1zM15 8h1v1h-1zM34 8h1v1h-1zM18 9h1v1h-1zM23 9h1v1h-1zM31 9h1v1h-1zM35 9h1v1h-1zM39 9h1v1h-1zM19 10h2v1h-2zM28 10h1v1h-1zM30 10h1v1h-1zM18 11h1v1h-1zM38 11h1v1h-1zM40 11h2v1h-2zM29 12h1v1h-1zM34 13h1v1h-1zM13 16h1v1h-1zM15 16h1v1h-1zM14 17h1v1h-1zM10 18h1v1h-1zM6 19h1v1h-1zM15 19h1v1h-1zM21 19h1v1h-1zM36 19h1v1h-1zM25 20h1v1h-1zM36 20h1v1h-1zM16 21h1v1h-1zM37 21h1v1h-1zM8 22h1v1h-1zM14 22h2v1h-2zM36 22h1v1h-1zM2 23h1v1h-1zM5 23h1v1h-1zM8 23h1v1h-1zM4 24h1v1h-1zM6 24h1v1h-1zM41 24h1v1h-1zM0 26h1v1h-1zM4 26h1v1h-1zM11 27h1v1h-1zM1 28h1v1h-1zM4 28h1v1h-1zM1 29h1v1h-1zM20 29h1v1h-1zM25 30h1v1h-1zM27 30h1v1h-1zM38 30h1v1h-1zM26 32h1v1h-1zM29 32h1v1h-1zM38 32h1v1h-1zM37 33h1v1h-1zM22 34h1v1h-1zM9 36h1v1h-1zM17 36h1v1h-1zM33 36h1v1h-1zM36 36h1v1h-1zM2 38h1v1h-1zM8 38h2v1h-2zM17 39h1v1h-1zM30 40h1v1h-1zM34 40h1v1h-1zM3 43h1v1h-1zM29 43h1v1h-1zM4 44h1v1h-1zM7 45h1v1h-1zM22 45h1v1h-1zM35 45h1v1h-1zM40 45h1v1h-1zM19 46h1v1h-1zM35 46h1v1h-1zM5 47h1v1h-1zM10 47h1v1h-1zM37 47h1v1h-1zM29 48h1v1h-1zM12 49h1v1h-1zM24 51h1v1h-1zM26 51h1v1h-1zM25 52h1v1h-1zM31 52h1v1h-1zM33 53h1v1h-1zM12 54h1v1h-1zM20 54h1v1h-1zM26 54h1v1h-1zM34 54h1v1h-1zM8 55h1v1h-1zM13 55h1v1h-1zM24 55h1v1h-1zM28 55h1v1h-1zM8 56h1v1h-1zM24 56h1v1h-1zM27 56h1v1h-1zM37 56h1v1h-1zM10 57h2v1h-2zM27 57h1v1h-1zM31 57h1v1h-1zM9 58h1v1h-1zM17 58h1v1h-1zM3 59h1v1h-1zM6 59h1v1h-1zM9 59h1v1h-1zM11 60h1v1h-1zM13 60h1v1h-1zM39 60h1v1h-1zM4 61h1v1h-1zM11 61h2v1h-2zM15 61h1v1h-1zM12 62h1v1h-1zM18 62h1v1h-1zM20 62h1v1h-1zM16 63h2v1h-2zM39 63h1v1h-1zM8 64h1v1h-1zM18 64h1v1h-1zM38 64h1v1h-1zM38 66h2v1h-2zM36 67h1v1h-1zM0 68h1v1h-1zM15 68h1v1h-1zM33 69h1v1h-1zM39 69h1v1h-1zM14 70h1v1h-1zM20 70h1v1h-1zM34 70h1v1h-1zM41 70h1v1h-1zM10 71h1v1h-1zM18 71h1v1h-1zM9 73h1v1h-1zM18 74h1v1h-1zM40 74h1v1h-1zM38 75h1v1h-1zM9 76h1v1h-1zM18 76h1v1h-1zM21 76h1v1h-1zM10 77h2v1h-2zM26 77h1v1h-1zM31 77h1v1h-1zM36 77h1v1h-1zM20 78h1v1h-1zM29 78h1v1h-1zM16 79h1v1h-1zM29 79h2v1h-2zM40 80h1v1h-1zM36 81h1v1h-1zM33 82h1v1h-1zM20 83h1v1h-1zM20 84h2v1h-2zM40 85h1v1h-1zM17 86h1v1h-1zM40 86h1v1h-1zM17 87h2v1h-2zM26 88h2v1h-2zM39 88h1v1h-1zM18 89h1v1h-1zM33 89h1v1h-1zM38 89h1v1h-1zM32 90h1v1h-1zM0 91h1v1h-1zM16 91h1v1h-1zM18 91h2v1h-2zM28 91h1v1h-1zM15 93h1v1h-1zM34 93h1v1h-1zM16 94h1v1h-1zM19 94h1v1h-1zM36 100h1v1h-1zM39 100h1v1h-1zM22 101h1v1h-1zM34 101h1v1h-1zM39 101h1v1h-1zM39 102h1v1h-1zM32 103h1v1h-1zM6 104h1v1h-1zM32 104h1v1h-1zM17 105h1v1h-1zM39 105h1v1h-1z"/>
<path fill="#0000ee" d="M20 0h1v1h-1zM25 0h1v1h-1zM15 1h1v1h-1zM25 1h1v1h-1zM16 2h1v1h-1zM18 2h1v1h-1zM21 2h1v1h-1zM31 2h2v1h-2zM34 2h1v1h-1zM36 2h1v1h-1zM20 3h1v1h-1zM25 3h2v1h-2zM32 3h3v1h-3zM41 3h1v1h-1zM18 4h1v1h-1zM21 4h1v1h-1zM23 4h1v1h-1zM25 4h1v1h-1zM28 4h2v1h-2zM31 4h3v1h-3zM39 4h1v1h-1zM8 5h1v1h-1zM22 5h1v1h-1zM27 5h1v1h-1zM31 5h1v1h-1zM37 5h2v1h-2zM42 5h1v1h-1zM8 6h1v1h-1zM22 6h2v1h-2zM37 6h2v1h-2zM23 7h1v1h-1zM28 7h1v1h-1zM35 7h3v1h-3zM13 8h1v1h-1zM19 8h2v1h-2zM28 8h1v1h-1zM32 8h2v1h-2zM37 8h1v1h-1zM11 9h1v1h-1zM13 9h1v1h-1zM16 9h2v1h-2zM20 9h1v1h-1zM26 9h1v1h-1zM28 9h1v1h-1zM33 9h1v1h-1zM10 10h1v1h-1zM14 10h1v1h-1zM18 10h1v1h-1zM24 10h1v1h-1zM26 10h1v1h-1zM33 10h2v1h-2zM2 11h1v1h-1zM9 11h1v1h-1zM14 11h2v1h-2zM19 11h2v1h-2zM22 11h1v1h-1zM33 11h2v1h-2zM5 12h1v1h-1zM15 12h1v1h-1zM32 12h1v1h-1zM35 12h1v1h-1zM40 12h1v1h-1zM42 12h1v1h-1zM17 13h2v1h-2zM30 13h1v1h-1zM33 13h1v1h-1zM37 13h2v1h-2zM40 13h3v1h-3zM12 14h2v1h-2zM30 14h1v1h-1zM34 14h1v1h-1zM37 14h1v1h-1zM8 15h1v1h-1zM12 15h1v1h-1zM14 15h1v1h-1zM16 15h2v1h-2zM22 15h1v1h-1zM30 15h1v1h-1zM32 15h1v1h-1zM34 15h1v1h-1zM2 16h1v1h-1zM5 16h2v1h-2zM8 16h1v1h-1zM39 16h1v1h-1zM1 17h1v1h-1zM7 17h1v1h-1zM17 17h1v1h-1zM33 17h1v1h-1zM39 17h1v1h-1zM42 17h1v1h-1zM8 18h2v1h-2zM41 18h1v1h-1zM0 19h3v1h-3zM9 19h1v1h-1zM17 19h1v1h-1zM9 20h2v1h-2zM8 21h1v1h-1zM12 21h1v1h-1zM17 21h3v1h-3zM21 21h1v1h-1zM38 21h1v1h-1zM41 21h1v1h-1zM6 22h1v1h-1zM9 22h2v1h-2zM13 22h1v1h-1zM16 22h5v1h-5zM28 22h1v1h-1zM26 23h1v1h-1zM37 23h2v1h-2zM2 24h1v1h-1zM14 24h1v1h-1zM20 24h1v1h-1zM27 24h1v1h-1zM40 24h1v1h-1zM2 25h2v1h-2zM5 25h1v1h-1zM7 25h1v1h-1zM11 25h2v1h-2zM18 25h1v1h-1zM3 26h1v1h-1zM5 26h3v1h-3zM11 26h1v1h-1zM20 26h1v1h-1zM22 26h2v1h-2zM25 26h1v1h-1zM27 26h1v1h-1zM39 26h1v1h-1zM41 26h1v1h-1zM1 27h1v1h-1zM18 27h1v1h-1zM24 27h2v1h-2zM27 27h1v1h-1zM31 27h1v1h-1zM33 27h1v1h-1zM41 27h2v1h-2zM3 28h1v1h-1zM12 28h1v1h-1zM20 28h1v1h-1zM22 28h2v1h-2zM25 28h1v1h-1zM27 28h2v1h-2zM32 28h1v1h-1zM13 29h1v1h-1zM24 29h1v1h-1zM32 29h1v1h-1zM1 30h1v1h-1zM10 30h2v1h-2zM21 30h2v1h-2zM29 30h1v1h-1zM37 30h1v1h-1zM42 30h1v1h-1zM3 31h1v1h-1zM6 31h1v1h-1zM18 31h1v1h-1zM28 31h2v1h-2zM31 31h1v1h-1zM33 31h1v1h-1zM35 31h2v1h-2zM38 31h1v1h-1zM1 32h1v1h-1zM20 32h1v1h-1zM27 32h2v1h-2zM30 32h1v1h-1zM36 32h1v1h-1zM11 33h1v1h-1zM26 33h1v1h-1zM29 33h1v1h-1zM40 33h2v1h-2zM10 34h2v1h-2zM16 34h1v1h-1zM19 34h1v1h-1zM25 34h1v1h-1zM30 34h1v1h-1zM37 34h1v1h-1zM39 34h2v1h-2zM10 35h2v1h-2zM19 35h2v1h-2zM28 35h1v1h-1zM31 35h1v1h-1zM37 35h1v1h-1zM12 36h1v1h-1zM25 36h1v1h-1zM28 36h1v1h-1zM31 36h1v1h-1zM34 36h1v1h-1zM1 37h1v1h-1zM18 37h2v1h-2zM30 37h1v1h-1zM7 38h1v1h-1zM31 38h1v1h-1zM41 38h1v1h-1zM3 39h2v1h-2zM12 39h1v1h-1zM14 39h2v1h-2zM21 39h1v1h-1zM26 39h1v1h-1zM31 39h2v1h-2zM41 39h1v1h-1zM20 40h1v1h-1zM29 40h1v1h-1zM32 40h1v1h-1zM11 41h1v1h-1zM18 41h1v1h-1zM31 41h2v1h-2zM11 42h1v1h-1zM23 42h1v1h-1zM32 42h1v1h-1zM35 42h1v1h-1zM11 43h1v1h-1zM19 43h1v1h-1zM22 43h1v1h-1zM37 43h1v1h-1zM12 44h1v1h-1zM14 44h2v1h-2zM21 44h2v1h-2zM32 44h1v1h-1zM2 45h1v1h-1zM14 45h1v1h-1zM23 45h1v1h-1zM32 45h1v1h-1zM11 46h1v1h-1zM27 46h1v1h-1zM29 46h1v1h-1zM36 46h2v1h-2zM26 47h4v1h-4zM31 47h1v1h-1zM36 47h1v1h-1zM10 48h1v1h-1zM13 48h2v1h-2zM37 48h1v1h-1zM13 49h1v1h-1zM2 50h1v1h-1zM10 50h1v1h-1zM13 50h2v1h-2zM24 50h1v1h-1zM36 50h1v1h-1zM38 50h2v1h-2zM12 51h4v1h-4zM20 51h1v1h-1zM31 51h2v1h-2zM37 51h2v1h-2zM12 52h1v1h-1zM17 52h1v1h-1zM22 52h1v1h-1zM24 52h1v1h-1zM32 52h2v1h-2zM37 52h4v1h-4zM12 53h1v1h-1zM18 53h2v1h-2zM9 54h1v1h-1zM19 54h1v1h-1zM21 54h1v1h-1zM39 54h1v1h-1zM9 55h1v1h-1zM11 55h1v1h-1zM19 55h2v1h-2zM29 55h1v1h-1zM36 55h1v1h-1zM38 55h1v1h-1zM18 56h6v1h-6zM36 56h1v1h-1zM38 56h1v1h-1zM18 57h2v1h-2zM22 57h1v1h-1zM30 57h1v1h-1zM37 57h1v1h-1zM40 57h1v1h-1zM11 58h1v1h-1zM14 58h1v1h-1zM18 58h2v1h-2zM23 58h1v1h-1zM31 58h1v1h-1zM36 58h1v1h-1zM4 59h1v1h-1zM11 59h1v1h-1zM12 60h1v1h-1zM34 60h2v1h-2zM1 61h1v1h-1zM5 61h1v1h-1zM20 61h2v1h-2zM36 61h1v1h-1zM0 62h1v1h-1zM3 62h2v1h-2zM6 62h1v1h-1zM22 62h1v1h-1zM1 63h5v1h-5zM22 63h1v1h-1zM32 63h1v1h-1zM34 63h2v1h-2zM4 64h1v1h-1zM11 64h1v1h-1zM17 64h1v1h-1zM22 64h1v1h-1zM34 64h1v1h-1zM36 64h2v1h-2zM40 64h1v1h-1zM2 65h1v1h-1zM11 65h1v1h-1zM16 65h3v1h-3zM24 65h1v1h-1zM36 65h2v1h-2zM40 65h1v1h-1zM0 66h1v1h-1zM4 66h1v1h-1zM7 66h1v1h-1zM13 66h2v1h-2zM17 66h1v1h-1zM35 66h1v1h-1zM0 67h1v1h-1zM15 67h2v1h-2zM23 67h1v1h-1zM42 67h1v1h-1zM2 68h1v1h-1zM4 68h1v1h-1zM8 68h1v1h-1zM10 68h2v1h-2zM13 68h1v1h-1zM17 68h1v1h-1zM20 68h1v1h-1zM22 68h1v1h-1zM40 68h2v1h-2zM10 69h2v1h-2zM14 69h2v1h-2zM17 69h1v1h-1zM21 69h2v1h-2zM24 69h1v1h-1zM32 69h1v1h-1zM2 70h1v1h-1zM9 70h1v1h-1zM21 70h1v1h-1zM33 70h1v1h-1zM0 71h2v1h-2zM9 71h1v1h-1zM13 71h1v1h-1zM21 71h1v1h-1zM23 71h1v1h-1zM25 71h1v1h-1zM28 71h1v1h-1zM33 71h1v1h-1zM39 71h1v1h-1zM42 71h1v1h-1zM2 72h1v1h-1zM23 72h1v1h-1zM25 72h1v1h-1zM28 72h1v1h-1zM30 72h1v1h-1zM33 72h1v1h-1zM40 72h1v1h-1zM42 72h1v1h-1zM2 73h1v1h-1zM11 73h2v1h-2zM31 73h2v1h-2zM38 73h1v1h-1zM8 74h1v1h-1zM11 74h1v1h-1zM29 74h2v1h-2zM32 74h1v1h-1zM38 74h1v1h-1zM41 74h1v1h-1zM31 75h1v1h-1zM34 75h1v1h-1zM37 75h1v1h-1zM39 75h1v1h-1zM8 76h1v1h-1zM10 76h1v1h-1zM26 76h1v1h-1zM29 76h2v1h-2zM37 76h1v1h-1zM4 77h1v1h-1zM12 77h1v1h-1zM16 77h1v1h-1zM28 77h1v1h-1zM34 77h2v1h-2zM8 78h1v1h-1zM17 78h1v1h-1zM26 78h1v1h-1zM32 78h3v1h-3zM36 78h1v1h-1zM17 79h2v1h-2zM31 79h9v1h-9zM17 80h3v1h-3zM31 80h4v1h-4zM39 80h1v1h-1zM2 81h1v1h-1zM14 81h1v1h-1zM17 81h2v1h-2zM21 81h2v1h-2zM33 81h1v1h-1zM35 81h1v1h-1zM39 81h1v1h-1zM14 82h1v1h-1zM16 82h2v1h-2zM31 82h1v1h-1zM34 82h1v1h-1zM34 83h1v1h-1zM36 83h3v1h-3zM12 84h1v1h-1zM17 84h1v1h-1zM30 84h1v1h-1zM38 84h2v1h-2zM2 85h1v1h-1zM15 85h4v1h-4zM33 85h2v1h-2zM3 86h1v1h-1zM13 86h1v1h-1zM16 86h1v1h-1zM18 86h2v1h-2zM12 87h3v1h-3zM16 87h1v1h-1zM41 87h1v1h-1zM12 88h1v1h-1zM17 88h1v1h-1zM19 88h1v1h-1zM34 88h2v1h-2zM41 88h2v1h-2zM15 89h3v1h-3zM34 89h1v1h-1zM41 89h2v1h-2zM12 90h1v1h-1zM15 90h1v1h-1zM17 90h1v1h-1zM19 90h1v1h-1zM25 90h1v1h-1zM29 90h2v1h-2zM33 90h1v1h-1zM37 90h1v1h-1zM14 91h1v1h-1zM22 91h1v1h-1zM29 91h1v1h-1zM32 91h1v1h-1zM37 91h1v1h-1zM1 92h1v1h-1zM18 92h3v1h-3zM26 92h1v1h-1zM28 92h2v1h-2zM37 92h1v1h-1zM39 92h1v1h-1zM13 93h2v1h-2zM21 93h1v1h-1zM35 93h1v1h-1zM39 93h1v1h-1zM17 94h2v1h-2zM20 94h2v1h-2zM30 94h1v1h-1zM36 94h3v1h-3zM35 95h1v1h-1zM38 95h2v1h-2zM33 96h1v1h-1zM37 96h3v1h-3zM35 97h1v1h-1zM40 97h1v1h-1zM22 98h2v1h-2zM29 98h1v1h-1zM34 98h3v1h-3zM38 98h2v1h-2zM3 99h2v1h-2zM24 99h1v1h-1zM26 99h3v1h-3zM36 99h2v1h-2zM39 99h1v1h-1zM41 99h2v1h-2zM21 100h1v1h-1zM28 100h2v1h-2zM40 100h1v1h-1zM3 101h1v1h-1zM21 101h1v1h-1zM27 101h2v1h-2zM38 101h1v1h-1zM40 101h1v1h-1zM20 102h1v1h-1zM24 102h1v1h-1zM26 102h2v1h-2zM40 102h1v1h-1zM11 103h1v1h-1zM21 103h1v1h-1zM10 104h1v1h-1zM13 104h1v1h-1zM16 104h3v1h-3zM22 104h3v1h-3zM4 105h2v1h-2zM8 105h1v1h-1zM11 105h3v1h-3zM16 105h1v1h-1zM18 105h1v1h-1zM22 105h3v1h-3zM28 105h2v1h-2zM32 105h2v1h-2zM42 105h1v1h-1z"/>
<path fill="#2211ff" d="M15 0h1v1h-1zM22 0h1v1h-1zM24 0h1v1h-1zM36 0h1v1h-1zM40 0h1v1h-1zM14 1h1v1h-1zM22 1h1v1h-1zM32 1h1v1h-1zM34 1h1v1h-1zM17 2h1v1h-1zM24 2h1v1h-1zM30 2h1v1h-1zM35 2h1v1h-1zM37 2h1v1h-1zM13 3h1v1h-1zM21 3h1v1h-1zM24 3h1v1h-1zM30 3h2v1h-2zM39 3h1v1h-1zM10 4h1v1h-1zM13 4h1v1h-1zM17 4h1v1h-1zM22 4h1v1h-1zM24 4h1v1h-1zM26 4h2v1h-2zM30 4h1v1h-1zM40 4h3v1h-3zM13 5h1v1h-1zM17 5h1v1h-1zM23 5h1v1h-1zM29 5h1v1h-1zM32 5h1v1h-1zM40 5h2v1h-2zM11 6h1v1h-1zM16 6h2v1h-2zM21 6h1v1h-1zM24 6h1v1h-1zM40 6h1v1h-1zM42 6h1v1h-1zM19 7h2v1h-2zM29 7h1v1h-1zM34 7h1v1h-1zM40 7h1v1h-1zM17 8h1v1h-1zM27 8h1v1h-1zM29 8h1v1h-1zM40 8h2v1h-2zM3 9h1v1h-1zM8 9h3v1h-3zM12 9h1v1h-1zM15 9h1v1h-1zM21 9h1v1h-1zM25 9h1v1h-1zM27 9h1v1h-1zM32 9h1v1h-1zM34 9h1v1h-1zM42 9h1v1h-1zM3 10h1v1h-1zM8 10h2v1h-2zM11 10h1v1h-1zM17 10h1v1h-1zM25 10h1v1h-1zM35 10h1v1h-1zM38 10h2v1h-2zM1 11h1v1h-1zM8 11h1v1h-1zM10 11h1v1h-1zM12 11h1v1h-1zM21 11h1v1h-1zM25 11h1v1h-1zM31 11h1v1h-1zM35 11h1v1h-1zM12 12h3v1h-3zM19 12h1v1h-1zM21 12h1v1h-1zM28 12h1v1h-1zM41 12h1v1h-1zM8 13h1v1h-1zM13 13h3v1h-3zM28 13h2v1h-2zM1 14h1v1h-1zM8 14h1v1h-1zM10 14h2v1h-2zM14 14h2v1h-2zM35 14h1v1h-1zM38 14h1v1h-1zM42 14h1v1h-1zM0 15h3v1h-3zM11 15h1v1h-1zM23 15h1v1h-1zM37 15h1v1h-1zM39 15h1v1h-1zM0 16h1v1h-1zM4 16h1v1h-1zM7 16h1v1h-1zM11 16h1v1h-1zM18 16h2v1h-2zM27 16h2v1h-2zM34 16h1v1h-1zM38 16h1v1h-1zM42 16h1v1h-1zM0 17h1v1h-1zM4 17h2v1h-2zM8 17h5v1h-5zM16 17h1v1h-1zM22 17h2v1h-2zM36 17h1v1h-1zM2 18h1v1h-1zM4 18h2v1h-2zM12 18h1v1h-1zM14 18h1v1h-1zM17 18h3v1h-3zM22 18h1v1h-1zM26 18h1v1h-1zM32 18h1v1h-1zM36 18h3v1h-3zM8 19h1v1h-1zM12 19h1v1h-1zM16 19h1v1h-1zM18 19h2v1h-2zM26 19h1v1h-1zM28 19h1v1h-1zM37 19h1v1h-1zM11 20h2v1h-2zM16 20h1v1h-1zM26 20h1v1h-1zM28 20h2v1h-2zM9 21h2v1h-2zM13 21h2v1h-2zM20 21h1v1h-1zM22 21h1v1h-1zM24 21h1v1h-1zM26 21h2v1h-2zM29 21h1v1h-1zM36 21h1v1h-1zM40 21h1v1h-1zM3 22h1v1h-1zM12 22h1v1h-1zM23 22h1v1h-1zM26 22h2v1h-2zM30 22h1v1h-1zM34 22h1v1h-1zM41 22h1v1h-1zM6 23h1v1h-1zM12 23h2v1h-2zM15 23h2v1h-2zM20 23h4v1h-4zM27 23h1v1h-1zM29 23h2v1h-2zM32 23h1v1h-1zM35 23h1v1h-1zM41 23h1v1h-1zM0 24h2v1h-2zM3 24h1v1h-1zM8 24h1v1h-1zM10 24h1v1h-1zM16 24h2v1h-2zM19 24h1v1h-1zM25 24h2v1h-2zM32 24h1v1h-1zM38 24h2v1h-2zM0 25h2v1h-2zM10 25h1v1h-1zM13 25h1v1h-1zM21 25h1v1h-1zM26 25h1v1h-1zM35 25h3v1h-3zM9 26h2v1h-2zM12 26h1v1h-1zM14 26h1v1h-1zM17 26h2v1h-2zM24 26h1v1h-1zM26 26h1v1h-1zM40 26h1v1h-1zM42 26h1v1h-1zM13 27h1v1h-1zM19 27h1v1h-1zM26 27h1v1h-1zM28 27h2v1h-2zM32 27h1v1h-1zM34 27h1v1h-1zM11 28h1v1h-1zM13 28h1v1h-1zM17 28h3v1h-3zM29 28h1v1h-1zM31 28h1v1h-1zM33 28h2v1h-2zM40 28h2v1h-2zM3 29h1v1h-1zM12 29h1v1h-1zM14 29h1v1h-1zM21 29h2v1h-2zM27 29h2v1h-2zM30 29h1v1h-1zM41 29h1v1h-1zM7 30h1v1h-1zM12 30h2v1h-2zM19 30h1v1h-1zM23 30h2v1h-2zM31 30h3v1h-3zM5 31h1v1h-1zM14 31h1v1h-1zM17 31h1v1h-1zM25 31h1v1h-1zM27 31h1v1h-1zM30 31h1v1h-1zM32 31h1v1h-1zM37 31h1v1h-1zM42 31h1v1h-1zM2 32h2v1h-2zM6 32h2v1h-2zM17 32h1v1h-1zM19 32h1v1h-1zM23 32h1v1h-1zM31 32h1v1h-1zM33 32h1v1h-1zM37 32h1v1h-1zM1 33h1v1h-1zM4 33h2v1h-2zM8 33h1v1h-1zM14 33h2v1h-2zM18 33h1v1h-1zM20 33h1v1h-1zM27 33h2v1h-2zM31 33h4v1h-4zM2 34h1v1h-1zM5 34h2v1h-2zM18 34h1v1h-1zM24 34h1v1h-1zM28 34h1v1h-1zM32 34h1v1h-1zM35 34h1v1h-1zM38 34h1v1h-1zM41 34h1v1h-1zM5 35h1v1h-1zM8 35h2v1h-2zM23 35h3v1h-3zM27 35h1v1h-1zM32 35h2v1h-2zM38 35h2v1h-2zM2 36h1v1h-1zM6 36h3v1h-3zM13 36h1v1h-1zM19 36h1v1h-1zM26 36h1v1h-1zM29 36h2v1h-2zM35 36h1v1h-1zM39 36h2v1h-2zM8 37h1v1h-1zM10 37h2v1h-2zM17 37h1v1h-1zM29 37h1v1h-1zM31 37h1v1h-1zM35 37h2v1h-2zM39 37h2v1h-2zM1 38h1v1h-1zM10 38h2v1h-2zM15 38h4v1h-4zM21 38h1v1h-1zM26 38h1v1h-1zM1 39h1v1h-1zM8 39h2v1h-2zM11 39h1v1h-1zM28 39h1v1h-1zM30 39h1v1h-1zM34 39h1v1h-1zM5 40h3v1h-3zM9 40h1v1h-1zM21 40h1v1h-1zM28 40h1v1h-1zM31 40h1v1h-1zM33 40h1v1h-1zM41 40h1v1h-1zM12 41h1v1h-1zM17 41h1v1h-1zM22 41h1v1h-1zM28 41h1v1h-1zM30 41h1v1h-1zM35 41h1v1h-1zM37 41h1v1h-1zM4 42h2v1h-2zM10 42h1v1h-1zM14 42h1v1h-1zM16 42h2v1h-2zM19 42h1v1h-1zM27 42h3v1h-3zM31 42h1v1h-1zM34 42h1v1h-1zM36 42h2v1h-2zM5 43h1v1h-1zM9 43h1v1h-1zM12 43h1v1h-1zM15 43h2v1h-2zM18 43h1v1h-1zM24 43h2v1h-2zM28 43h1v1h-1zM30 43h1v1h-1zM34 43h1v1h-1zM7 44h1v1h-1zM9 44h2v1h-2zM23 44h1v1h-1zM28 44h1v1h-1zM30 44h1v1h-1zM36 44h2v1h-2zM39 44h1v1h-1zM1 45h1v1h-1zM8 45h1v1h-1zM15 45h2v1h-2zM25 45h1v1h-1zM41 45h1v1h-1zM2 46h2v1h-2zM8 46h1v1h-1zM10 46h1v1h-1zM13 46h1v1h-1zM15 46h2v1h-2zM18 46h1v1h-1zM20 46h2v1h-2zM23 46h1v1h-1zM26 46h1v1h-1zM28 46h1v1h-1zM33 46h1v1h-1zM38 46h1v1h-1zM1 47h1v1h-1zM8 47h2v1h-2zM12 47h1v1h-1zM14 47h2v1h-2zM19 47h1v1h-1zM24 47h1v1h-1zM34 47h1v1h-1zM38 47h3v1h-3zM42 47h1v1h-1zM4 48h2v1h-2zM9 48h1v1h-1zM11 48h1v1h-1zM28 48h1v1h-1zM34 48h1v1h-1zM38 48h1v1h-1zM2 49h1v1h-1zM9 49h1v1h-1zM15 49h1v1h-1zM23 49h1v1h-1zM29 49h1v1h-1zM35 49h2v1h-2zM39 49h1v1h-1zM1 50h1v1h-1zM3 50h1v1h-1zM12 50h1v1h-1zM16 50h2v1h-2zM25 50h1v1h-1zM30 50h1v1h-1zM33 50h1v1h-1zM37 50h1v1h-1zM3 51h1v1h-1zM16 51h1v1h-1zM21 51h3v1h-3zM36 51h1v1h-1zM39 51h1v1h-1zM42 51h1v1h-1zM11 52h1v1h-1zM18 52h1v1h-1zM21 52h1v1h-1zM35 52h1v1h-1zM11 53h1v1h-1zM14 53h1v1h-1zM16 53h1v1h-1zM22 53h1v1h-1zM24 53h2v1h-2zM28 53h2v1h-2zM31 53h2v1h-2zM35 53h1v1h-1zM37 53h3v1h-3zM10 54h1v1h-1zM15 54h1v1h-1zM17 54h1v1h-1zM23 54h1v1h-1zM25 54h1v1h-1zM29 54h1v1h-1zM15 55h1v1h-1zM18 55h1v1h-1zM26 55h2v1h-2zM35 55h1v1h-1zM42 55h1v1h-1zM9 56h1v1h-1zM28 56h1v1h-1zM35 56h1v1h-1zM39 56h3v1h-3zM3 57h2v1h-2zM8 57h1v1h-1zM12 57h2v1h-2zM17 57h1v1h-1zM21 57h1v1h-1zM23 57h1v1h-1zM28 57h2v1h-2zM36 57h1v1h-1zM38 57h2v1h-2zM42 57h1v1h-1zM8 58h1v1h-1zM12 58h2v1h-2zM21 58h2v1h-2zM28 58h1v1h-1zM30 58h1v1h-1zM37 58h4v1h-4zM1 59h2v1h-2zM5 59h1v1h-1zM8 59h1v1h-1zM12 59h1v1h-1zM17 59h1v1h-1zM22 59h1v1h-1zM33 59h7v1h-7zM0 60h1v1h-1zM4 60h1v1h-1zM8 60h1v1h-1zM14 60h1v1h-1zM17 60h1v1h-1zM20 60h1v1h-1zM30 60h1v1h-1zM33 60h1v1h-1zM36 60h1v1h-1zM2 61h2v1h-2zM9 61h1v1h-1zM14 61h1v1h-1zM17 61h1v1h-1zM28 61h3v1h-3zM34 61h2v1h-2zM37 61h1v1h-1zM2 62h1v1h-1zM5 62h1v1h-1zM7 62h1v1h-1zM11 62h1v1h-1zM16 62h1v1h-1zM21 62h1v1h-1zM35 62h1v1h-1zM41 62h1v1h-1zM0 63h1v1h-1zM6 63h1v1h-1zM11 63h1v1h-1zM14 63h1v1h-1zM31 63h1v1h-1zM37 63h2v1h-2zM3 64h1v1h-1zM5 64h1v1h-1zM7 64h1v1h-1zM10 64h1v1h-1zM15 64h2v1h-2zM20 64h2v1h-2zM35 64h1v1h-1zM39 64h1v1h-1zM7 65h1v1h-1zM10 65h1v1h-1zM12 65h1v1h-1zM14 65h2v1h-2zM23 65h1v1h-1zM35 65h1v1h-1zM1 66h1v1h-1zM3 66h1v1h-1zM6 66h1v1h-1zM15 66h1v1h-1zM22 66h1v1h-1zM24 66h1v1h-1zM33 66h1v1h-1zM36 66h2v1h-2zM1 67h3v1h-3zM7 67h2v1h-2zM11 67h1v1h-1zM14 67h1v1h-1zM19 67h4v1h-4zM27 67h1v1h-1zM33 67h1v1h-1zM35 67h1v1h-1zM38 67h2v1h-2zM41 67h1v1h-1zM1 68h1v1h-1zM3 68h1v1h-1zM9 68h1v1h-1zM14 68h1v1h-1zM18 68h1v1h-1zM21 68h1v1h-1zM34 68h1v1h-1zM37 68h1v1h-1zM42 68h1v1h-1zM1 69h2v1h-2zM4 69h1v1h-1zM9 69h1v1h-1zM12 69h1v1h-1zM16 69h1v1h-1zM30 69h1v1h-1zM38 69h1v1h-1zM40 69h2v1h-2zM0 70h1v1h-1zM3 70h1v1h-1zM10 70h1v1h-1zM22 70h2v1h-2zM26 70h1v1h-1zM29 70h1v1h-1zM31 70h1v1h-1zM37 70h1v1h-1zM40 70h1v1h-1zM2 71h2v1h-2zM5 71h1v1h-1zM15 71h3v1h-3zM19 71h2v1h-2zM24 71h1v1h-1zM31 71h1v1h-1zM40 71h1v1h-1zM3 72h2v1h-2zM8 72h1v1h-1zM10 72h3v1h-3zM14 72h2v1h-2zM24 72h1v1h-1zM27 72h1v1h-1zM39 72h1v1h-1zM13 73h1v1h-1zM15 73h1v1h-1zM17 73h1v1h-1zM21 73h1v1h-1zM26 73h3v1h-3zM30 73h1v1h-1zM33 73h1v1h-1zM40 73h1v1h-1zM6 74h2v1h-2zM9 74h2v1h-2zM13 74h1v1h-1zM15 74h1v1h-1zM21 74h1v1h-1zM26 74h1v1h-1zM28 74h1v1h-1zM33 74h1v1h-1zM5 75h1v1h-1zM10 75h2v1h-2zM15 75h2v1h-2zM27 75h2v1h-2zM32 75h2v1h-2zM35 75h1v1h-1zM11 76h1v1h-1zM15 76h1v1h-1zM23 76h1v1h-1zM28 76h1v1h-1zM32 76h4v1h-4zM39 76h1v1h-1zM8 77h1v1h-1zM14 77h1v1h-1zM17 77h1v1h-1zM21 77h1v1h-1zM24 77h1v1h-1zM27 77h1v1h-1zM32 77h2v1h-2zM4 78h1v1h-1zM7 78h1v1h-1zM10 78h2v1h-2zM18 78h2v1h-2zM24 78h2v1h-2zM35 78h1v1h-1zM39 78h1v1h-1zM41 78h1v1h-1zM1 79h2v1h-2zM4 79h2v1h-2zM19 79h1v1h-1zM23 79h1v1h-1zM0 80h2v1h-2zM4 80h1v1h-1zM20 80h2v1h-2zM26 80h3v1h-3zM35 80h4v1h-4zM0 81h2v1h-2zM12 81h2v1h-2zM16 81h1v1h-1zM19 81h2v1h-2zM29 81h1v1h-1zM31 81h2v1h-2zM13 82h1v1h-1zM15 82h1v1h-1zM18 82h3v1h-3zM22 82h1v1h-1zM24 82h1v1h-1zM27 82h3v1h-3zM32 82h1v1h-1zM35 82h1v1h-1zM8 83h1v1h-1zM14 83h3v1h-3zM21 83h1v1h-1zM31 83h2v1h-2zM35 83h1v1h-1zM14 84h1v1h-1zM16 84h1v1h-1zM31 84h4v1h-4zM36 84h2v1h-2zM3 85h1v1h-1zM5 85h1v1h-1zM13 85h2v1h-2zM19 85h2v1h-2zM25 85h1v1h-1zM11 86h1v1h-1zM14 86h2v1h-2zM21 86h1v1h-1zM27 86h1v1h-1zM31 86h1v1h-1zM33 86h1v1h-1zM36 86h2v1h-2zM1 87h1v1h-1zM8 87h1v1h-1zM10 87h2v1h-2zM15 87h1v1h-1zM19 87h2v1h-2zM25 87h1v1h-1zM30 87h2v1h-2zM33 87h4v1h-4zM38 87h1v1h-1zM40 87h1v1h-1zM42 87h1v1h-1zM10 88h1v1h-1zM15 88h2v1h-2zM25 88h1v1h-1zM38 88h1v1h-1zM40 88h1v1h-1zM3 89h1v1h-1zM9 89h1v1h-1zM24 89h3v1h-3zM32 89h1v1h-1zM35 89h2v1h-2zM1 90h1v1h-1zM5 90h1v1h-1zM18 90h1v1h-1zM20 90h2v1h-2zM23 90h2v1h-2zM26 90h3v1h-3zM34 90h1v1h-1zM36 90h1v1h-1zM3 91h1v1h-1zM10 91h1v1h-1zM13 91h1v1h-1zM15 91h1v1h-1zM20 91h2v1h-2zM23 91h2v1h-2zM26 91h1v1h-1zM30 91h1v1h-1zM41 91h1v1h-1zM0 92h1v1h-1zM3 92h1v1h-1zM11 92h1v1h-1zM15 92h1v1h-1zM25 92h1v1h-1zM31 92h1v1h-1zM41 92h1v1h-1zM1 93h1v1h-1zM18 93h3v1h-3zM23 93h3v1h-3zM28 93h2v1h-2zM31 93h1v1h-1zM38 93h1v1h-1zM0 94h1v1h-1zM2 94h1v1h-1zM15 94h1v1h-1zM22 94h1v1h-1zM24 94h1v1h-1zM33 94h1v1h-1zM39 94h2v1h-2zM1 95h1v1h-1zM13 95h1v1h-1zM18 95h1v1h-1zM20 95h3v1h-3zM30 95h1v1h-1zM32 95h1v1h-1zM37 95h1v1h-1zM11 96h1v1h-1zM14 96h1v1h-1zM22 96h1v1h-1zM35 96h1v1h-1zM16 97h1v1h-1zM28 97h1v1h-1zM34 97h1v1h-1zM36 97h4v1h-4zM41 97h1v1h-1zM4 98h1v1h-1zM14 98h1v1h-1zM17 98h1v1h-1zM21 98h1v1h-1zM24 98h3v1h-3zM30 98h1v1h-1zM32 98h2v1h-2zM37 98h1v1h-1zM40 98h2v1h-2zM0 99h1v1h-1zM2 99h1v1h-1zM15 99h1v1h-1zM17 99h1v1h-1zM29 99h2v1h-2zM35 99h1v1h-1zM2 100h1v1h-1zM7 100h1v1h-1zM12 100h1v1h-1zM14 100h1v1h-1zM16 100h1v1h-1zM20 100h1v1h-1zM23 100h1v1h-1zM30 100h2v1h-2zM35 100h1v1h-1zM37 100h1v1h-1zM1 101h1v1h-1zM4 101h1v1h-1zM16 101h2v1h-2zM25 101h2v1h-2zM29 101h1v1h-1zM36 101h1v1h-1zM12 102h1v1h-1zM14 102h1v1h-1zM17 102h1v1h-1zM19 102h1v1h-1zM23 102h1v1h-1zM25 102h1v1h-1zM28 102h1v1h-1zM30 102h1v1h-1zM34 102h2v1h-2zM38 102h1v1h-1zM0 103h3v1h-3zM4 103h1v1h-1zM10 103h1v1h-1zM12 103h1v1h-1zM18 103h2v1h-2zM22 103h1v1h-1zM24 103h2v1h-2zM30 103h2v1h-2zM34 103h1v1h-1zM40 103h2v1h-2zM1 104h1v1h-1zM3 104h2v1h-2zM11 104h2v1h-2zM15 104h1v1h-1zM19 104h1v1h-1zM25 104h2v1h-2zM28 104h4v1h-4zM34 104h1v1h-1zM38 104h1v1h-1zM40 104h2v1h-2zM1 105h1v1h-1zM3 105h1v1h-1zM6 105h2v1h-2zM10 105h1v1h-1zM14 105h1v1h-1zM20 105h1v1h-1zM26 105h1v1h-1zM34 105h1v1h-1zM40 105h2v1h-2z"/>
<path fill="#9966ff" d="M0 0h2v1h-2zM4 0h3v1h-3zM8 0h5v1h-5zM18 0h2v1h-2zM42 0h1v1h-1zM0 1h12v1h-12zM19 1h1v1h-1zM35 1h2v1h-2zM41 1h2v1h-2zM1 2h3v1h-3zM6 2h4v1h-4zM11 2h1v1h-1zM15 2h1v1h-1zM4 3h1v1h-1zM9 3h3v1h-3zM16 3h1v1h-1zM0 4h5v1h-5zM7 4h2v1h-2zM15 4h1v1h-1zM0 5h2v1h-2zM3 5h2v1h-2zM10 5h2v1h-2zM1 6h2v1h-2zM4 6h1v1h-1zM13 6h1v1h-1zM18 6h1v1h-1zM0 7h1v1h-1zM2 7h5v1h-5zM9 7h1v1h-1zM14 7h1v1h-1zM0 8h1v1h-1zM2 8h1v1h-1zM4 8h2v1h-2zM7 8h2v1h-2zM1 9h1v1h-1zM5 9h3v1h-3zM2 10h1v1h-1zM4 10h4v1h-4zM16 10h1v1h-1zM0 11h1v1h-1zM4 11h1v1h-1zM6 11h1v1h-1zM23 11h1v1h-1zM26 11h1v1h-1zM6 12h1v1h-1zM11 12h1v1h-1zM23 12h3v1h-3zM30 12h1v1h-1zM0 13h2v1h-2zM20 13h1v1h-1zM24 13h3v1h-3zM4 14h1v1h-1zM17 14h1v1h-1zM20 14h1v1h-1zM26 14h1v1h-1zM4 15h1v1h-1zM18 15h1v1h-1zM20 15h1v1h-1zM24 15h1v1h-1zM26 15h1v1h-1zM21 16h1v1h-1zM24 16h2v1h-2zM29 16h2v1h-2zM41 16h1v1h-1zM25 17h1v1h-1zM30 17h1v1h-1zM37 17h1v1h-1zM23 18h2v1h-2zM30 18h2v1h-2zM5 19h1v1h-1zM33 19h2v1h-2zM40 19h1v1h-1zM6 20h2v1h-2zM23 20h1v1h-1zM30 20h1v1h-1zM21 24h1v1h-1zM23 24h1v1h-1zM29 24h2v1h-2zM22 25h1v1h-1zM30 25h1v1h-1zM32 25h1v1h-1zM8 26h1v1h-1zM21 26h1v1h-1zM30 26h1v1h-1zM8 27h1v1h-1zM9 28h1v1h-1zM21 28h1v1h-1zM5 29h1v1h-1zM10 29h1v1h-1zM18 29h1v1h-1zM5 30h1v1h-1zM9 30h1v1h-1zM16 30h1v1h-1zM40 30h1v1h-1zM8 31h1v1h-1zM11 31h1v1h-1zM16 31h1v1h-1zM8 32h1v1h-1zM40 32h1v1h-1zM13 33h1v1h-1zM13 34h2v1h-2zM12 35h1v1h-1zM16 35h1v1h-1zM20 36h1v1h-1zM27 36h1v1h-1zM23 37h1v1h-1zM19 38h1v1h-1zM24 38h1v1h-1zM28 38h1v1h-1zM10 39h1v1h-1zM13 39h1v1h-1zM23 39h1v1h-1zM18 40h1v1h-1zM22 40h1v1h-1zM24 40h1v1h-1zM37 40h2v1h-2zM5 41h1v1h-1zM10 41h1v1h-1zM14 41h1v1h-1zM20 41h1v1h-1zM27 41h1v1h-1zM36 41h1v1h-1zM39 41h1v1h-1zM2 42h1v1h-1zM7 42h3v1h-3zM21 42h1v1h-1zM39 42h2v1h-2zM2 43h1v1h-1zM8 43h1v1h-1zM13 43h1v1h-1zM23 43h1v1h-1zM41 43h1v1h-1zM40 44h2v1h-2zM9 45h2v1h-2zM18 45h1v1h-1zM39 45h1v1h-1zM4 46h2v1h-2zM41 46h1v1h-1zM23 47h1v1h-1zM33 47h1v1h-1zM2 48h1v1h-1zM17 48h1v1h-1zM19 48h1v1h-1zM24 48h2v1h-2zM30 48h4v1h-4zM42 48h1v1h-1zM17 49h4v1h-4zM31 49h1v1h-1zM33 49h1v1h-1zM41 49h1v1h-1zM8 50h2v1h-2zM19 50h1v1h-1zM6 51h1v1h-1zM9 51h1v1h-1zM19 51h1v1h-1zM29 51h1v1h-1zM1 52h1v1h-1zM4 52h4v1h-4zM9 52h1v1h-1zM14 52h2v1h-2zM20 52h1v1h-1zM29 52h1v1h-1zM41 52h1v1h-1zM1 53h1v1h-1zM3 53h2v1h-2zM6 53h2v1h-2zM23 53h1v1h-1zM34 53h1v1h-1zM41 53h1v1h-1zM2 54h3v1h-3zM6 54h1v1h-1zM14 54h1v1h-1zM31 54h1v1h-1zM40 54h2v1h-2zM1 55h3v1h-3zM5 55h3v1h-3zM16 55h1v1h-1zM30 55h3v1h-3zM39 55h1v1h-1zM1 56h2v1h-2zM6 56h1v1h-1zM12 56h3v1h-3zM29 56h2v1h-2zM2 57h1v1h-1zM7 57h1v1h-1zM16 57h1v1h-1zM24 57h2v1h-2zM0 58h4v1h-4zM25 58h1v1h-1zM42 58h1v1h-1zM10 59h1v1h-1zM20 59h1v1h-1zM23 59h1v1h-1zM26 59h1v1h-1zM41 59h1v1h-1zM22 60h3v1h-3zM26 60h1v1h-1zM25 61h1v1h-1zM33 61h1v1h-1zM26 62h1v1h-1zM30 62h1v1h-1zM25 63h4v1h-4zM27 64h5v1h-5zM26 65h4v1h-4zM31 65h2v1h-2zM26 66h1v1h-1zM29 66h3v1h-3zM34 66h1v1h-1zM5 67h2v1h-2zM26 67h1v1h-1zM30 67h3v1h-3zM6 68h1v1h-1zM12 68h1v1h-1zM24 68h2v1h-2zM29 68h3v1h-3zM6 69h2v1h-2zM26 69h1v1h-1zM28 69h2v1h-2zM36 69h1v1h-1zM1 70h1v1h-1zM6 70h1v1h-1zM35 70h1v1h-1zM4 71h1v1h-1zM6 71h1v1h-1zM8 71h1v1h-1zM35 71h2v1h-2zM38 71h1v1h-1zM5 72h2v1h-2zM1 73h1v1h-1zM3 73h2v1h-2zM10 73h1v1h-1zM4 74h1v1h-1zM14 74h1v1h-1zM22 74h1v1h-1zM1 75h1v1h-1zM3 75h1v1h-1zM6 75h1v1h-1zM20 75h3v1h-3zM24 75h2v1h-2zM1 76h1v1h-1zM3 76h1v1h-1zM24 76h1v1h-1zM1 77h3v1h-3zM22 77h1v1h-1zM25 77h1v1h-1zM1 78h1v1h-1zM3 78h1v1h-1zM10 79h2v1h-2zM7 80h1v1h-1zM10 80h1v1h-1zM15 80h1v1h-1zM25 80h1v1h-1zM8 81h3v1h-3zM28 81h1v1h-1zM6 82h2v1h-2zM9 82h3v1h-3zM23 82h1v1h-1zM3 83h3v1h-3zM13 83h1v1h-1zM23 83h1v1h-1zM26 83h2v1h-2zM1 84h1v1h-1zM7 84h1v1h-1zM10 84h2v1h-2zM0 85h1v1h-1zM4 85h1v1h-1zM10 85h1v1h-1zM21 85h1v1h-1zM26 85h1v1h-1zM31 85h1v1h-1zM37 85h1v1h-1zM0 86h2v1h-2zM4 86h2v1h-2zM7 86h1v1h-1zM20 86h1v1h-1zM35 86h1v1h-1zM0 87h1v1h-1zM5 87h3v1h-3zM21 87h1v1h-1zM29 87h1v1h-1zM5 88h1v1h-1zM22 88h1v1h-1zM29 88h1v1h-1zM0 89h1v1h-1zM6 89h2v1h-2zM14 89h1v1h-1zM29 89h1v1h-1zM7 90h1v1h-1zM9 90h1v1h-1zM7 91h1v1h-1zM7 92h1v1h-1zM9 92h1v1h-1zM12 92h1v1h-1zM21 92h1v1h-1zM24 92h1v1h-1zM5 93h2v1h-2zM8 93h1v1h-1zM4 94h1v1h-1zM6 94h3v1h-3zM13 94h2v1h-2zM26 94h2v1h-2zM0 95h1v1h-1zM3 95h1v1h-1zM5 95h1v1h-1zM7 95h2v1h-2zM27 95h3v1h-3zM42 95h1v1h-1zM7 96h1v1h-1zM9 96h2v1h-2zM24 96h1v1h-1zM27 96h1v1h-1zM29 96h2v1h-2zM2 97h1v1h-1zM9 97h1v1h-1zM11 97h1v1h-1zM25 97h2v1h-2zM42 97h1v1h-1zM2 98h1v1h-1zM5 98h4v1h-4zM10 98h3v1h-3zM16 98h1v1h-1zM18 98h2v1h-2zM6 99h1v1h-1zM18 99h1v1h-1zM20 99h1v1h-1zM22 99h1v1h-1zM8 100h2v1h-2zM18 100h2v1h-2zM33 100h1v1h-1zM5 101h1v1h-1zM7 101h3v1h-3zM14 101h1v1h-1zM42 101h1v1h-1zM6 102h1v1h-1zM9 102h1v1h-1zM13 102h1v1h-1zM33 102h1v1h-1zM42 103h1v1h-1zM14 104h1v1h-1zM21 104h1v1h-1z"/>
</svg>
<path d="M523.7,8.1C521.3,7.4 520.3,10.9 517.6,12.1C514.9,13.3 511.3,14.4 507.6,15.1C503.9,15.8 498.7,15.5 495.5,16.1C492.3,16.7 491.4,16.6 488.4,18.5C485.4,20.4 481.8,23.9 477.3,27.2C472.8,30.5 465.7,34.8 461.2,38.3C456.7,41.8 452.6,45.7 450.1,48.4C447.6,51.1 447.0,52.0 446.1,54.4C445.2,56.8 445.0,58.8 444.7,62.5C444.4,66.2 444.5,72.2 444.1,76.6C443.8,81.0 443.2,84.3 442.6,88.7C442.0,93.1 441.1,98.8 440.6,102.8C440.1,106.8 439.4,110.0 439.4,112.9C439.3,115.9 439.5,119.0 440.3,120.5C441.1,122.0 443.2,121.5 444.4,122.1C445.6,122.7 447.4,123.1 447.5,124.2C447.6,125.3 445.5,126.9 445.0,128.7C444.5,130.5 444.1,132.8 444.4,134.9C444.6,137.0 445.6,139.5 446.5,141.0C447.4,142.5 450.4,143.4 450.0,144.1C449.6,144.8 445.8,144.8 444.4,145.1C443.0,145.4 442.3,144.7 441.8,146.1C441.3,147.5 441.2,151.1 441.4,153.3C441.6,155.5 442.9,157.4 443.0,159.5C443.1,161.6 441.7,163.2 441.8,165.6C441.9,168.0 442.4,171.6 443.4,173.8C444.3,176.0 446.1,176.9 447.5,179.0C448.9,181.1 450.4,182.2 451.6,186.1C452.8,190.0 453.8,198.2 454.7,202.5C455.6,206.8 456.1,208.9 456.8,212.0C457.5,215.1 457.9,218.6 458.8,221.3C459.7,224.1 461.9,225.2 462.3,228.5C462.8,231.8 461.9,237.1 461.5,240.8C461.1,244.6 460.2,247.1 459.8,251.0C459.4,254.9 459.8,260.9 459.4,264.3C459.0,267.7 457.8,268.9 457.4,271.5C456.9,274.1 456.6,276.6 456.7,279.7C456.8,282.8 456.8,286.6 457.8,290.0C458.8,293.4 460.8,296.4 462.9,300.2C464.9,303.9 467.5,308.4 470.1,312.5C472.7,316.6 475.6,321.2 478.3,324.8C481.0,328.4 483.2,329.9 486.5,334.4C489.8,338.9 494.7,347.0 497.8,351.8C500.9,356.6 502.3,358.5 504.9,363.1C507.4,367.7 511.1,374.4 513.1,379.5C515.2,384.6 516.3,389.4 517.2,393.8C518.1,398.2 517.6,402.6 518.3,406.1C519.0,409.6 519.9,411.7 521.4,414.6C522.9,417.5 525.0,420.1 527.3,423.4C529.6,426.7 532.2,430.5 535.3,434.4C538.3,438.3 542.2,443.1 545.6,446.9C549.0,450.7 552.6,454.1 555.8,457.1C559.0,460.2 562.2,463.4 564.6,465.2C567.0,467.0 569.2,467.0 570.2,468.1C571.2,469.2 570.7,470.5 570.5,471.8C570.3,473.1 568.3,475.2 569.0,475.9C569.7,476.6 572.7,476.4 574.9,476.2C577.1,475.9 579.5,474.9 582.2,474.4C584.9,473.9 588.8,474.4 591.0,473.2C593.2,472.0 593.7,470.3 595.4,467.4C597.1,464.5 598.9,459.6 601.3,455.7C603.7,451.8 607.3,448.0 610.0,443.9C612.7,439.8 615.4,434.7 617.4,430.8C619.4,426.9 620.5,424.2 621.8,420.5C623.1,416.8 624.5,412.6 625.4,408.8C626.3,405.0 626.9,400.9 627.0,397.9C627.1,394.9 626.9,392.6 625.9,390.8C624.9,389.0 622.8,388.0 620.8,387.3C618.8,386.6 615.8,387.7 613.6,386.7C611.4,385.7 609.2,384.4 607.5,381.5C605.8,378.6 604.6,373.3 603.4,369.2C602.2,365.1 601.0,360.8 600.3,356.9C599.5,353.0 598.6,348.0 598.9,345.6C599.2,343.2 601.6,344.1 602.3,342.6C603.0,341.1 602.5,338.4 603.0,336.4C603.5,334.3 604.5,333.0 605.4,330.3C606.3,327.6 608.0,321.9 608.5,320.0C609.0,318.1 608.7,319.9 608.5,318.7C608.3,317.4 607.2,315.2 607.1,312.5C607.0,309.8 607.9,306.4 607.9,302.3C607.9,298.2 607.0,291.7 607.1,287.9C607.2,284.1 608.6,282.1 608.5,279.7C608.4,277.3 607.3,276.3 606.5,273.6C605.7,270.9 603.8,267.1 603.8,263.3C603.8,259.5 605.7,255.4 606.5,251.0C607.3,246.6 608.4,240.8 608.5,236.7C608.6,232.6 607.8,230.8 607.1,226.4C606.4,222.0 605.2,214.7 604.4,210.0C603.6,205.3 603.1,203.1 602.3,198.4C601.4,193.7 600.3,187.1 599.3,182.0C598.3,176.9 597.2,172.5 596.2,167.7C595.2,162.9 595.0,159.1 593.1,153.3C591.2,147.5 587.6,139.6 584.9,132.8C582.2,126.0 579.4,117.8 576.7,112.3C574.0,106.8 570.8,104.6 568.5,100.0C566.2,95.4 564.8,88.9 563.0,84.7C561.2,80.5 559.7,78.0 558.0,74.6C556.3,71.2 554.8,68.4 552.9,64.5C551.0,60.6 548.3,55.1 546.9,51.4C545.5,47.7 545.1,45.5 544.5,42.3C543.9,39.1 544.1,35.1 543.3,32.3C542.5,29.4 541.7,27.9 539.8,25.2C537.9,22.5 534.5,19.0 531.8,16.1C529.1,13.3 526.1,8.8 523.7,8.1Z" fill="none" stroke="#ff1010" stroke-width="1.3" stroke-linejoin="round"/>
<rect x="439.2" y="8.0" width="189.09999999999997" height="468.2" fill="none" stroke="#8c8c8c" stroke-width="0.8"/>
<path d="M440.4,2.0V8.0M440.4,476.2V481.2M484.8,2.0V8.0M484.8,476.2V481.2M529.2,2.0V8.0M529.2,476.2V481.2M573.6,2.0V8.0M573.6,476.2V481.2M618.0,2.0V8.0M618.0,476.2V481.2M433.2,10.6H439.2M628.3,10.6H634.3M433.2,54.8H439.2M628.3,54.8H634.3M433.2,99.0H439.2M628.3,99.0H634.3M433.2,143.3H439.2M628.3,143.3H634.3M433.2,187.5H439.2M628.3,187.5H634.3M433.2,231.7H439.2M628.3,231.7H634.3M433.2,275.9H439.2M628.3,275.9H634.3M433.2,320.1H439.2M628.3,320.1H634.3M433.2,364.4H439.2M628.3,364.4H634.3M433.2,408.6H439.2M628.3,408.6H634.3M433.2,452.8H439.2M628.3,452.8H634.3" stroke="#8c8c8c" stroke-width="1" fill="none"/>
<text x="431.4" y="14.9" font-size="10.6" text-anchor="end" font-weight="normal" font-family="'Liberation Sans', Arial, sans-serif" fill="#000">4381000</text>
<text x="431.4" y="59.1" font-size="10.6" text-anchor="end" font-weight="normal" font-family="'Liberation Sans', Arial, sans-serif" fill="#000">4380000</text>
<text x="431.4" y="103.3" font-size="10.6" text-anchor="end" font-weight="normal" font-family="'Liberation Sans', Arial, sans-serif" fill="#000">4379000</text>
<text x="431.4" y="147.6" font-size="10.6" text-anchor="end" font-weight="normal" font-family="'Liberation Sans', Arial, sans-serif" fill="#000">4378000</text>
<text x="431.4" y="191.8" font-size="10.6" text-anchor="end" font-weight="normal" font-family="'Liberation Sans', Arial, sans-serif" fill="#000">4377000</text>
<text x="431.4" y="236.0" font-size="10.6" text-anchor="end" font-weight="normal" font-family="'Liberation Sans', Arial, sans-serif" fill="#000">4376000</text>
<text x="431.4" y="280.2" font-size="10.6" text-anchor="end" font-weight="normal" font-family="'Liberation Sans', Arial, sans-serif" fill="#000">4375000</text>
<text x="431.4" y="324.4" font-size="10.6" text-anchor="end" font-weight="normal" font-family="'Liberation Sans', Arial, sans-serif" fill="#000">4374000</text>
<text x="431.4" y="368.7" font-size="10.6" text-anchor="end" font-weight="normal" font-family="'Liberation Sans', Arial, sans-serif" fill="#000">4373000</text>
<text x="431.4" y="412.9" font-size="10.6" text-anchor="end" font-weight="normal" font-family="'Liberation Sans', Arial, sans-serif" fill="#000">4372000</text>
<text x="431.4" y="457.1" font-size="10.6" text-anchor="end" font-weight="normal" font-family="'Liberation Sans', Arial, sans-serif" fill="#000">4371000</text>
<text x="440.4" y="493.8" font-size="10.6" text-anchor="middle" font-weight="normal" font-family="'Liberation Sans', Arial, sans-serif" fill="#000">638000</text>
<text x="484.8" y="493.8" font-size="10.6" text-anchor="middle" font-weight="normal" font-family="'Liberation Sans', Arial, sans-serif" fill="#000">639000</text>
<text x="529.2" y="493.8" font-size="10.6" text-anchor="middle" font-weight="normal" font-family="'Liberation Sans', Arial, sans-serif" fill="#000">640000</text>
<text x="573.6" y="493.8" font-size="10.6" text-anchor="middle" font-weight="normal" font-family="'Liberation Sans', Arial, sans-serif" fill="#000">641000</text>
<text x="618.0" y="493.8" font-size="10.6" text-anchor="middle" font-weight="normal" font-family="'Liberation Sans', Arial, sans-serif" fill="#000">642000</text>
<rect x="667.3" y="86.00" width="19.7" height="21.15" fill="#ff0000"/>
<rect x="667.3" y="106.85" width="19.7" height="21.15" fill="#ff2200"/>
<rect x="667.3" y="127.69" width="19.7" height="21.15" fill="#ff4400"/>
<rect x="667.3" y="148.54" width="19.7" height="21.15" fill="#ff6600"/>
<rect x="667.3" y="169.39" width="19.7" height="21.15" fill="#ffa000"/>
<rect x="667.3" y="190.23" width="19.7" height="21.15" fill="#ffd800"/>
<rect x="667.3" y="211.08" width="19.7" height="21.15" fill="#e0ff00"/>
<rect x="667.3" y="231.93" width="19.7" height="21.15" fill="#99ff00"/>
<rect x="667.3" y="252.77" width="19.7" height="21.15" fill="#22ff00"/>
<rect x="667.3" y="273.62" width="19.7" height="21.15" fill="#00cc44"/>
<rect x="667.3" y="294.47" width="19.7" height="21.15" fill="#006688"/>
<rect x="667.3" y="315.31" width="19.7" height="21.15" fill="#0000ee"/>
<rect x="667.3" y="336.16" width="19.7" height="21.15" fill="#2211ff"/>
<rect x="667.3" y="357.01" width="19.7" height="21.15" fill="#5533ff"/>
<rect x="667.3" y="377.85" width="19.7" height="21.15" fill="#9966ff"/>
<path d="M667.3,106.85h19.7M667.3,127.69h19.7M667.3,148.54h19.7M667.3,169.39h19.7M667.3,190.23h19.7M667.3,211.08h19.7M667.3,231.93h19.7M667.3,252.77h19.7M667.3,273.62h19.7M667.3,294.47h19.7M667.3,315.31h19.7M667.3,336.16h19.7M667.3,357.01h19.7M667.3,377.85h19.7" stroke="#000" stroke-opacity="0.25" stroke-width="0.6"/>
<rect x="667.3" y="86.0" width="19.7" height="312.7" fill="none" stroke="#000" stroke-opacity="0.2" stroke-width="0.6"/>
<text x="689.4" y="111.2" font-size="10.6" text-anchor="start" font-weight="normal" font-family="'Liberation Sans', Arial, sans-serif" fill="#000">0.07</text>
<text x="689.4" y="132.1" font-size="10.6" text-anchor="start" font-weight="normal" font-family="'Liberation Sans', Arial, sans-serif" fill="#000">0.065</text>
<text x="689.4" y="152.9" font-size="10.6" text-anchor="start" font-weight="normal" font-family="'Liberation Sans', Arial, sans-serif" fill="#000">0.06</text>
<text x="689.4" y="173.8" font-size="10.6" text-anchor="start" font-weight="normal" font-family="'Liberation Sans', Arial, sans-serif" fill="#000">0.055</text>
<text x="689.4" y="194.6" font-size="10.6" text-anchor="start" font-weight="normal" font-family="'Liberation Sans', Arial, sans-serif" fill="#000">0.05</text>
<text x="689.4" y="215.5" font-size="10.6" text-anchor="start" font-weight="normal" font-family="'Liberation Sans', Arial, sans-serif" fill="#000">0.045</text>
<text x="689.4" y="236.3" font-size="10.6" text-anchor="start" font-weight="normal" font-family="'Liberation Sans', Arial, sans-serif" fill="#000">0.04</text>
<text x="689.4" y="257.2" font-size="10.6" text-anchor="start" font-weight="normal" font-family="'Liberation Sans', Arial, sans-serif" fill="#000">0.035</text>
<text x="689.4" y="278.0" font-size="10.6" text-anchor="start" font-weight="normal" font-family="'Liberation Sans', Arial, sans-serif" fill="#000">0.03</text>
<text x="689.4" y="298.9" font-size="10.6" text-anchor="start" font-weight="normal" font-family="'Liberation Sans', Arial, sans-serif" fill="#000">0.025</text>
<text x="689.4" y="319.7" font-size="10.6" text-anchor="start" font-weight="normal" font-family="'Liberation Sans', Arial, sans-serif" fill="#000">0.02</text>
<text x="689.4" y="340.6" font-size="10.6" text-anchor="start" font-weight="normal" font-family="'Liberation Sans', Arial, sans-serif" fill="#000">0.015</text>
<text x="689.4" y="361.4" font-size="10.6" text-anchor="start" font-weight="normal" font-family="'Liberation Sans', Arial, sans-serif" fill="#000">0.01</text>
<text x="689.4" y="382.3" font-size="10.6" text-anchor="start" font-weight="normal" font-family="'Liberation Sans', Arial, sans-serif" fill="#000">0.005</text>
<text x="689.4" y="403.1" font-size="10.6" text-anchor="start" font-weight="normal" font-family="'Liberation Sans', Arial, sans-serif" fill="#000">0</text>
<text x="665.6" y="427.0" font-size="12.8" text-anchor="start" font-weight="normal" font-family="'Liberation Sans', Arial, sans-serif" fill="#000">Gradient</text>
<text x="665.6" y="442.0" font-size="12.8" text-anchor="start" font-weight="normal" font-family="'Liberation Sans', Arial, sans-serif" fill="#000">(K / m)</text>
<path d="M668.5,22.7 L661.3,44.4 L668.5,37.0 Z" fill="#000"/>
<path d="M668.5,22.7 L675.7,44.4 L668.5,37.0 Z" fill="none" stroke="#000" stroke-width="1.1" stroke-linejoin="miter"/>
<text x="668.6" y="20.5" font-size="9.2" text-anchor="middle" font-weight="bold" font-family="'Liberation Sans', Arial, sans-serif" fill="#000">N</text>
<text x="465.4" y="514.7" font-size="13.0" text-anchor="start" font-weight="normal" font-family="'Liberation Sans', Arial, sans-serif" fill="#000">WGS 84,&#160; UTM Zone 48N</text>
<rect x="440.1" y="524.1" width="44.4" height="7.899999999999977" fill="#000" stroke="#999" stroke-width="0.6"/>
<rect x="484.5" y="524.1" width="44.4" height="7.899999999999977" fill="#fff" stroke="#999" stroke-width="0.6"/>
<rect x="529.0" y="524.1" width="44.4" height="7.899999999999977" fill="#000" stroke="#999" stroke-width="0.6"/>
<rect x="573.4" y="524.1" width="44.4" height="7.899999999999977" fill="#fff" stroke="#999" stroke-width="0.6"/>
<text x="440.1" y="543.6" font-size="12.4" text-anchor="middle" font-weight="normal" font-family="'Liberation Sans', Arial, sans-serif" fill="#000">0</text>
<text x="484.5" y="543.6" font-size="12.4" text-anchor="middle" font-weight="normal" font-family="'Liberation Sans', Arial, sans-serif" fill="#000">1000</text>
<text x="529.0" y="543.6" font-size="12.4" text-anchor="middle" font-weight="normal" font-family="'Liberation Sans', Arial, sans-serif" fill="#000">2000</text>
<text x="573.4" y="543.6" font-size="12.4" text-anchor="middle" font-weight="normal" font-family="'Liberation Sans', Arial, sans-serif" fill="#000">3000</text>
<text x="617.8" y="543.6" font-size="12.4" text-anchor="middle" font-weight="normal" font-family="'Liberation Sans', Arial, sans-serif" fill="#000">4000</text>
<text x="633.3" y="534.2" font-size="12.8" text-anchor="start" font-weight="normal" font-family="'Liberation Sans', Arial, sans-serif" fill="#000">Meters</text>
<path d="M439.3,557.3H493.0" stroke="#ff2020" stroke-width="1.4"/>
<text x="510.1" y="561.6" font-size="12.95" text-anchor="start" font-weight="normal" font-family="'Liberation Sans', Arial, sans-serif" fill="#000">Coal field boundary</text>
<text x="553.3" y="589.2" font-size="26" text-anchor="middle" font-weight="normal" font-family="'Liberation Serif', 'Times New Roman', serif" fill="#000" style="stroke:none">(<tspan font-weight="bold">b</tspan>)</text>
<svg x="823.2" y="7.3" width="23.30" height="60.40" viewBox="0 0 5 14" preserveAspectRatio="none" shape-rendering="crispEdges">
<rect width="5" height="14" fill="#999999"/>
<path fill="#777777" d="M1 5h1v1h-1z"/>
<path fill="#888888" d="M1 0h2v1h-2zM0 1h1v1h-1zM2 1h1v1h-1zM0 2h3v1h-3zM0 3h3v1h-3zM0 4h1v1h-1zM3 4h1v1h-1zM0 5h1v1h-1zM3 5h2v1h-2zM0 6h1v1h-1zM4 6h1v1h-1zM0 7h1v1h-1z"/>
<path fill="#aaaaaa" d="M3 1h1v1h-1zM3 3h1v1h-1zM2 4h1v1h-1zM1 7h1v1h-1zM1 9h1v1h-1zM1 10h2v1h-2zM4 10h1v1h-1zM0 12h1v1h-1zM1 13h2v1h-2zM4 13h1v1h-1z"/>
<path fill="#bbbbbb" d="M0 11h3v1h-3zM4 11h1v1h-1zM1 12h4v1h-4zM3 13h1v1h-1z"/>
<path fill="#cccccc" d="M0 13h1v1h-1z"/>
</svg>
<svg x="846.5" y="7.3" width="97.50" height="60.40" viewBox="0 0 22 14" preserveAspectRatio="none" shape-rendering="crispEdges">
<rect width="22" height="14" fill="#ffffff"/>
<path fill="#666666" d="M18 0h1v1h-1zM14 13h1v1h-1z"/>
<path fill="#777777" d="M15 0h3v1h-3zM19 0h1v1h-1zM15 1h1v1h-1zM13 11h2v1h-2zM2 12h1v1h-1zM13 12h2v1h-2zM1 13h1v1h-1zM11 13h1v1h-1zM13 13h1v1h-1z"/>
<path fill="#888888" d="M16 1h2v1h-2zM0 11h1v1h-1zM0 12h2v1h-2zM12 12h1v1h-1zM2 13h1v1h-1zM12 13h1v1h-1z"/>
<path fill="#999999" d="M18 1h1v1h-1zM1 11h1v1h-1zM11 12h1v1h-1z"/>
</svg>
<svg x="944.0" y="7.3" width="67.60" height="60.40" viewBox="0 0 15 14" preserveAspectRatio="none" shape-rendering="crispEdges">
<rect width="15" height="14" fill="#aaaaaa"/>
<path fill="#666666" d="M3 0h1v1h-1zM1 3h1v1h-1zM2 4h1v1h-1zM13 8h1v1h-1zM13 9h1v1h-1z"/>
<path fill="#777777" d="M4 0h1v1h-1zM3 1h2v1h-2zM2 3h1v1h-1zM14 3h1v1h-1zM3 5h1v1h-1zM0 7h1v1h-1zM13 7h1v1h-1zM6 8h1v1h-1zM0 9h1v1h-1zM5 11h1v1h-1z"/>
<path fill="#888888" d="M0 0h2v1h-2zM3 2h1v1h-1zM12 2h1v1h-1zM14 2h1v1h-1zM0 3h1v1h-1zM13 3h1v1h-1zM12 4h1v1h-1zM1 5h2v1h-2zM12 5h1v1h-1zM1 6h3v1h-3zM11 6h2v1h-2zM3 7h1v1h-1zM12 7h1v1h-1zM14 7h1v1h-1zM1 8h1v1h-1zM7 8h1v1h-1zM14 8h1v1h-1zM1 9h1v1h-1zM4 9h2v1h-2zM0 10h1v1h-1zM10 11h1v1h-1zM14 11h1v1h-1zM6 12h2v1h-2zM13 12h1v1h-1zM5 13h2v1h-2z"/>
<path fill="#999999" d="M2 0h1v1h-1zM6 0h1v1h-1zM0 1h2v1h-2zM5 1h1v1h-1zM11 1h2v1h-2zM14 1h1v1h-1zM0 2h1v1h-1zM2 2h1v1h-1zM13 2h1v1h-1zM3 3h1v1h-1zM0 4h2v1h-2zM3 4h1v1h-1zM13 4h1v1h-1zM0 5h1v1h-1zM4 5h1v1h-1zM11 5h1v1h-1zM13 5h1v1h-1zM0 6h1v1h-1zM4 6h2v1h-2zM13 6h2v1h-2zM2 7h1v1h-1zM5 7h3v1h-3zM11 7h1v1h-1zM12 8h1v1h-1zM3 9h1v1h-1zM6 9h1v1h-1zM1 10h1v1h-1zM6 10h1v1h-1zM13 10h1v1h-1zM1 11h1v1h-1zM6 11h1v1h-1zM3 12h2v1h-2zM12 12h1v1h-1zM3 13h2v1h-2z"/>
<path fill="#bbbbbb" d="M9 0h1v1h-1zM9 1h2v1h-2zM13 1h1v1h-1zM5 2h1v1h-1zM7 2h1v1h-1zM9 2h3v1h-3zM4 3h1v1h-1zM6 3h1v1h-1zM7 4h1v1h-1zM10 4h1v1h-1zM7 5h1v1h-1zM10 5h1v1h-1zM7 6h1v1h-1zM9 6h1v1h-1zM9 7h1v1h-1zM3 8h1v1h-1zM9 8h2v1h-2zM7 9h1v1h-1zM10 9h1v1h-1zM3 10h1v1h-1zM7 10h1v1h-1zM11 10h1v1h-1zM0 11h1v1h-1zM3 11h1v1h-1zM9 11h1v1h-1zM13 11h1v1h-1zM1 12h1v1h-1zM8 12h2v1h-2zM14 12h1v1h-1zM12 13h2v1h-2z"/>
<path fill="#cccccc" d="M10 0h1v1h-1zM4 2h1v1h-1zM8 2h1v1h-1zM8 3h1v1h-1zM8 4h1v1h-1zM8 5h1v1h-1zM14 5h1v1h-1zM6 6h1v1h-1zM2 8h1v1h-1zM8 9h2v1h-2zM9 10h1v1h-1zM2 11h1v1h-1zM11 11h1v1h-1zM0 12h1v1h-1zM2 12h1v1h-1zM5 12h1v1h-1zM10 12h1v1h-1zM2 13h1v1h-1z"/>
<path fill="#dddddd" d="M9 3h1v1h-1zM8 6h1v1h-1zM8 10h1v1h-1zM10 10h1v1h-1z"/>
<path fill="#eeeeee" d="M9 13h1v1h-1z"/>
<path fill="#ffffff" d="M7 0h1v1h-1zM11 0h2v1h-2zM7 1h1v1h-1zM2 9h1v1h-1zM2 10h1v1h-1zM11 12h1v1h-1zM0 13h2v1h-2z"/>
</svg>
<svg x="823.2" y="67.7" width="23.30" height="173.10" viewBox="0 0 5 39" preserveAspectRatio="none" shape-rendering="crispEdges">
<rect width="5" height="39" fill="#999999"/>
<path fill="#555555" d="M4 26h1v1h-1zM2 31h1v1h-1z"/>
<path fill="#666666" d="M3 33h1v1h-1zM1 38h1v1h-1z"/>
<path fill="#777777" d="M4 31h1v1h-1zM1 37h1v1h-1zM0 38h1v1h-1zM2 38h1v1h-1z"/>
<path fill="#888888" d="M0 1h1v1h-1zM1 6h1v1h-1zM4 15h1v1h-1zM1 20h1v1h-1zM2 21h1v1h-1zM4 22h1v1h-1zM1 24h1v1h-1zM0 26h1v1h-1zM4 27h1v1h-1zM0 29h1v1h-1zM2 29h1v1h-1zM0 30h1v1h-1zM3 32h1v1h-1zM4 34h1v1h-1zM4 35h1v1h-1zM1 36h1v1h-1zM0 37h1v1h-1z"/>
<path fill="#aaaaaa" d="M4 2h1v1h-1zM4 4h1v1h-1zM0 6h1v1h-1zM2 6h1v1h-1zM1 7h2v1h-2zM1 8h2v1h-2zM0 9h1v1h-1zM0 10h1v1h-1zM0 11h2v1h-2zM0 12h2v1h-2zM3 14h1v1h-1zM0 15h1v1h-1zM3 15h1v1h-1zM1 17h2v1h-2zM1 18h1v1h-1zM2 22h1v1h-1zM1 23h1v1h-1zM3 23h1v1h-1zM0 25h2v1h-2zM3 31h1v1h-1zM0 35h1v1h-1zM3 37h1v1h-1zM3 38h1v1h-1z"/>
<path fill="#bbbbbb" d="M2 1h1v1h-1zM4 1h1v1h-1zM1 2h2v1h-2zM3 3h2v1h-2zM3 6h1v1h-1zM3 9h1v1h-1zM3 10h2v1h-2zM3 11h1v1h-1zM0 13h1v1h-1zM0 16h2v1h-2zM2 18h1v1h-1zM3 19h2v1h-2zM0 20h1v1h-1zM0 22h1v1h-1zM3 22h1v1h-1zM4 23h1v1h-1zM3 25h1v1h-1zM1 26h1v1h-1zM3 26h1v1h-1zM2 27h1v1h-1zM0 28h2v1h-2zM4 28h1v1h-1zM1 29h1v1h-1zM3 29h1v1h-1zM1 32h1v1h-1zM2 34h1v1h-1zM1 35h2v1h-2zM0 36h1v1h-1zM4 37h1v1h-1zM4 38h1v1h-1z"/>
<path fill="#cccccc" d="M1 0h1v1h-1zM1 1h1v1h-1zM3 1h1v1h-1zM0 4h1v1h-1zM3 4h1v1h-1zM0 5h2v1h-2zM3 7h1v1h-1zM3 8h1v1h-1zM1 10h2v1h-2zM1 13h1v1h-1zM0 14h2v1h-2zM1 15h1v1h-1zM3 17h1v1h-1zM0 18h1v1h-1zM3 18h1v1h-1zM2 19h1v1h-1zM2 20h1v1h-1zM1 22h1v1h-1zM2 24h2v1h-2zM2 25h1v1h-1zM2 26h1v1h-1zM3 28h1v1h-1zM1 34h1v1h-1zM4 36h1v1h-1zM2 37h1v1h-1z"/>
<path fill="#dddddd" d="M2 0h1v1h-1zM3 2h1v1h-1zM2 3h1v1h-1zM2 12h1v1h-1zM4 16h1v1h-1zM4 17h1v1h-1zM0 19h2v1h-2zM4 24h1v1h-1zM3 36h1v1h-1z"/>
<path fill="#eeeeee" d="M0 0h1v1h-1zM3 0h1v1h-1zM1 3h1v1h-1zM1 4h2v1h-2zM2 5h1v1h-1zM4 5h1v1h-1zM4 7h1v1h-1zM4 9h1v1h-1zM4 11h1v1h-1zM4 12h1v1h-1zM3 13h2v1h-2z"/>
<path fill="#ffffff" d="M4 0h1v1h-1zM0 3h1v1h-1zM3 5h1v1h-1zM4 6h1v1h-1zM2 11h1v1h-1zM3 12h1v1h-1zM3 20h2v1h-2zM3 21h2v1h-2zM1 30h1v1h-1z"/>
</svg>
<svg x="846.5" y="67.7" width="97.50" height="173.10" viewBox="0 0 22 39" preserveAspectRatio="none" shape-rendering="crispEdges">
<rect width="22" height="39" fill="#ffffff"/>
<path fill="#555555" d="M17 13h1v1h-1zM8 15h1v1h-1z"/>
<path fill="#666666" d="M13 0h2v1h-2zM10 1h1v1h-1zM10 2h1v1h-1zM11 3h1v1h-1zM4 4h1v1h-1zM12 4h2v1h-2zM15 4h1v1h-1zM13 5h1v1h-1zM14 7h1v1h-1zM5 11h1v1h-1zM15 12h3v1h-3zM15 13h1v1h-1zM21 15h1v1h-1zM14 18h1v1h-1zM21 20h1v1h-1zM11 24h1v1h-1zM20 24h1v1h-1zM9 25h1v1h-1zM20 25h1v1h-1zM7 29h1v1h-1zM8 30h1v1h-1zM0 33h1v1h-1zM0 36h1v1h-1zM17 37h1v1h-1z"/>
<path fill="#777777" d="M11 0h1v1h-1zM11 1h3v1h-3zM19 1h1v1h-1zM9 3h1v1h-1zM13 3h1v1h-1zM5 4h1v1h-1zM11 4h1v1h-1zM7 5h1v1h-1zM14 6h2v1h-2zM5 8h2v1h-2zM11 9h1v1h-1zM15 9h1v1h-1zM0 10h1v1h-1zM5 10h1v1h-1zM0 11h1v1h-1zM8 12h2v1h-2zM21 13h1v1h-1zM21 14h1v1h-1zM13 15h1v1h-1zM0 16h1v1h-1zM9 16h1v1h-1zM20 16h1v1h-1zM1 17h1v1h-1zM14 17h1v1h-1zM17 17h1v1h-1zM20 17h1v1h-1zM0 18h3v1h-3zM8 18h1v1h-1zM13 18h1v1h-1zM16 18h1v1h-1zM17 20h1v1h-1zM9 21h1v1h-1zM17 21h1v1h-1zM9 22h1v1h-1zM7 23h1v1h-1zM10 23h1v1h-1zM1 24h1v1h-1zM3 24h1v1h-1zM12 25h1v1h-1zM18 25h1v1h-1zM3 26h2v1h-2zM3 27h1v1h-1zM6 27h1v1h-1zM12 27h1v1h-1zM0 29h2v1h-2zM6 29h1v1h-1zM9 29h1v1h-1zM19 29h1v1h-1zM9 30h1v1h-1zM2 31h1v1h-1zM4 32h1v1h-1zM3 33h1v1h-1zM4 34h3v1h-3zM19 34h1v1h-1zM4 35h2v1h-2zM9 35h1v1h-1zM8 37h1v1h-1z"/>
<path fill="#888888" d="M3 0h2v1h-2zM12 0h1v1h-1zM18 1h1v1h-1zM0 2h1v1h-1zM6 2h1v1h-1zM8 2h1v1h-1zM11 2h5v1h-5zM17 2h1v1h-1zM4 3h2v1h-2zM10 3h1v1h-1zM12 3h1v1h-1zM14 3h1v1h-1zM6 4h1v1h-1zM6 5h1v1h-1zM14 5h4v1h-4zM6 6h1v1h-1zM10 6h1v1h-1zM5 7h1v1h-1zM7 7h1v1h-1zM13 7h1v1h-1zM15 7h1v1h-1zM1 8h1v1h-1zM8 8h1v1h-1zM11 8h1v1h-1zM14 8h1v1h-1zM18 8h1v1h-1zM0 9h1v1h-1zM2 9h1v1h-1zM4 9h1v1h-1zM3 10h1v1h-1zM7 10h1v1h-1zM20 10h1v1h-1zM1 11h1v1h-1zM4 11h1v1h-1zM0 12h1v1h-1zM3 12h1v1h-1zM5 12h1v1h-1zM7 12h1v1h-1zM1 13h2v1h-2zM16 13h1v1h-1zM2 14h1v1h-1zM7 14h1v1h-1zM10 14h2v1h-2zM15 14h1v1h-1zM20 14h1v1h-1zM2 15h1v1h-1zM4 15h1v1h-1zM7 15h1v1h-1zM9 15h1v1h-1zM15 15h1v1h-1zM19 15h2v1h-2zM3 16h3v1h-3zM14 16h1v1h-1zM18 16h1v1h-1zM21 16h1v1h-1zM10 17h1v1h-1zM13 17h1v1h-1zM15 17h2v1h-2zM21 17h1v1h-1zM7 18h1v1h-1zM10 18h2v1h-2zM15 18h1v1h-1zM17 18h1v1h-1zM20 18h1v1h-1zM6 19h1v1h-1zM8 19h2v1h-2zM13 19h1v1h-1zM20 19h2v1h-2zM4 20h1v1h-1zM9 20h1v1h-1zM20 20h1v1h-1zM6 21h1v1h-1zM8 21h1v1h-1zM19 21h1v1h-1zM21 21h1v1h-1zM4 22h1v1h-1zM7 22h1v1h-1zM14 22h1v1h-1zM20 22h1v1h-1zM0 23h1v1h-1zM8 23h1v1h-1zM13 23h1v1h-1zM17 23h1v1h-1zM6 24h1v1h-1zM10 24h1v1h-1zM13 24h1v1h-1zM16 24h1v1h-1zM3 25h1v1h-1zM5 25h1v1h-1zM11 25h1v1h-1zM15 25h1v1h-1zM12 26h1v1h-1zM17 26h1v1h-1zM4 27h1v1h-1zM14 28h2v1h-2zM2 29h2v1h-2zM5 29h1v1h-1zM8 29h1v1h-1zM15 29h1v1h-1zM2 30h1v1h-1zM6 30h2v1h-2zM3 31h1v1h-1zM8 31h2v1h-2zM1 32h1v1h-1zM3 32h1v1h-1zM5 32h2v1h-2zM4 33h1v1h-1zM14 33h1v1h-1zM0 34h3v1h-3zM20 34h1v1h-1zM6 35h1v1h-1zM10 35h1v1h-1zM19 35h3v1h-3zM11 36h1v1h-1zM13 36h1v1h-1zM0 37h1v1h-1zM9 37h1v1h-1zM8 38h1v1h-1z"/>
<path fill="#999999" d="M9 0h1v1h-1zM17 0h1v1h-1zM3 1h2v1h-2zM8 1h2v1h-2zM14 1h2v1h-2zM20 1h2v1h-2zM3 2h1v1h-1zM6 3h1v1h-1zM15 3h1v1h-1zM7 4h3v1h-3zM16 4h1v1h-1zM4 5h1v1h-1zM8 5h1v1h-1zM11 5h1v1h-1zM7 6h1v1h-1zM9 6h1v1h-1zM13 6h1v1h-1zM18 6h3v1h-3zM1 7h1v1h-1zM8 7h2v1h-2zM18 7h1v1h-1zM0 8h1v1h-1zM7 8h1v1h-1zM9 8h2v1h-2zM13 8h1v1h-1zM1 9h1v1h-1zM5 9h1v1h-1zM7 9h1v1h-1zM13 9h1v1h-1zM15 10h2v1h-2zM21 10h1v1h-1zM2 11h2v1h-2zM7 11h1v1h-1zM12 11h1v1h-1zM16 11h1v1h-1zM1 12h2v1h-2zM4 12h1v1h-1zM10 12h1v1h-1zM10 13h1v1h-1zM3 14h1v1h-1zM14 14h1v1h-1zM0 15h2v1h-2zM3 15h1v1h-1zM5 15h2v1h-2zM14 15h1v1h-1zM1 16h2v1h-2zM6 16h3v1h-3zM10 16h1v1h-1zM17 16h1v1h-1zM3 17h2v1h-2zM7 17h2v1h-2zM11 17h1v1h-1zM9 18h1v1h-1zM12 18h1v1h-1zM21 18h1v1h-1zM10 19h1v1h-1zM2 20h1v1h-1zM13 20h1v1h-1zM16 20h1v1h-1zM5 21h1v1h-1zM15 21h2v1h-2zM20 21h1v1h-1zM8 22h1v1h-1zM13 22h1v1h-1zM21 22h1v1h-1zM4 23h1v1h-1zM9 23h1v1h-1zM11 23h2v1h-2zM15 23h2v1h-2zM9 24h1v1h-1zM12 24h1v1h-1zM17 24h1v1h-1zM2 25h1v1h-1zM6 25h1v1h-1zM10 25h1v1h-1zM16 25h2v1h-2zM5 26h1v1h-1zM2 27h1v1h-1zM15 27h3v1h-3zM2 28h1v1h-1zM13 28h1v1h-1zM4 29h1v1h-1zM18 29h1v1h-1zM1 30h1v1h-1zM12 30h1v1h-1zM15 30h1v1h-1zM0 31h2v1h-2zM7 31h1v1h-1zM2 32h1v1h-1zM7 32h1v1h-1zM15 32h1v1h-1zM1 33h1v1h-1zM5 33h2v1h-2zM16 33h1v1h-1zM13 34h2v1h-2zM21 34h1v1h-1zM0 35h1v1h-1zM2 35h1v1h-1zM12 35h2v1h-2zM4 36h1v1h-1zM6 36h1v1h-1zM9 36h2v1h-2zM1 37h2v1h-2zM7 37h1v1h-1zM10 37h1v1h-1zM2 38h1v1h-1zM7 38h1v1h-1zM11 38h2v1h-2z"/>
<path fill="#aaaaaa" d="M0 0h1v1h-1zM2 0h1v1h-1zM5 0h1v1h-1zM10 0h1v1h-1zM20 0h2v1h-2zM0 1h1v1h-1zM5 1h1v1h-1zM16 1h2v1h-2zM4 2h2v1h-2zM7 2h1v1h-1zM18 2h1v1h-1zM21 2h1v1h-1zM7 3h2v1h-2zM16 3h2v1h-2zM10 4h1v1h-1zM14 4h1v1h-1zM5 5h1v1h-1zM9 5h2v1h-2zM12 5h1v1h-1zM18 5h1v1h-1zM5 6h1v1h-1zM0 7h1v1h-1zM2 7h1v1h-1zM6 7h1v1h-1zM10 7h2v1h-2zM2 8h1v1h-1zM8 9h1v1h-1zM10 9h1v1h-1zM14 9h1v1h-1zM4 10h1v1h-1zM8 10h1v1h-1zM8 11h1v1h-1zM11 11h1v1h-1zM15 11h1v1h-1zM20 11h2v1h-2zM11 12h1v1h-1zM21 12h1v1h-1zM11 13h1v1h-1zM6 14h1v1h-1zM13 14h1v1h-1zM16 16h1v1h-1zM19 16h1v1h-1zM0 17h1v1h-1zM6 17h1v1h-1zM9 17h1v1h-1zM14 19h2v1h-2zM17 19h1v1h-1zM8 20h1v1h-1zM15 20h1v1h-1zM0 21h1v1h-1zM2 21h1v1h-1zM4 21h1v1h-1zM7 21h1v1h-1zM14 21h1v1h-1zM0 22h1v1h-1zM2 22h1v1h-1zM16 22h1v1h-1zM19 22h1v1h-1zM1 23h1v1h-1zM14 23h1v1h-1zM4 24h1v1h-1zM15 24h1v1h-1zM18 24h1v1h-1zM4 25h1v1h-1zM7 25h1v1h-1zM6 26h1v1h-1zM7 27h1v1h-1zM13 27h2v1h-2zM4 28h1v1h-1zM8 28h1v1h-1zM12 29h1v1h-1zM16 29h1v1h-1zM0 30h1v1h-1zM11 30h1v1h-1zM4 31h1v1h-1zM6 31h1v1h-1zM12 31h1v1h-1zM15 31h1v1h-1zM2 33h1v1h-1zM15 33h1v1h-1zM3 34h1v1h-1zM15 34h1v1h-1zM3 35h1v1h-1zM5 36h1v1h-1zM12 36h1v1h-1zM11 37h2v1h-2zM10 38h1v1h-1zM13 38h1v1h-1z"/>
<path fill="#bbbbbb" d="M1 0h1v1h-1zM7 1h1v1h-1zM16 2h1v1h-1zM9 9h1v1h-1zM15 16h1v1h-1zM16 19h1v1h-1zM5 20h2v1h-2zM1 21h1v1h-1zM13 21h1v1h-1zM15 22h1v1h-1zM3 28h1v1h-1zM12 28h1v1h-1zM16 28h2v1h-2zM0 32h1v1h-1zM11 35h1v1h-1z"/>
<path fill="#cccccc" d="M6 1h1v1h-1zM12 17h1v1h-1zM14 20h1v1h-1zM1 22h1v1h-1z"/>
</svg>
<svg x="944.0" y="67.7" width="67.60" height="173.10" viewBox="0 0 15 39" preserveAspectRatio="none" shape-rendering="crispEdges">
<rect width="15" height="39" fill="#cccccc"/>
<path fill="#888888" d="M9 9h1v1h-1zM2 24h1v1h-1z"/>
<path fill="#999999" d="M9 5h2v1h-2zM8 6h1v1h-1zM10 6h2v1h-2zM9 7h1v1h-1zM8 9h1v1h-1zM10 9h1v1h-1zM8 10h1v1h-1zM10 10h1v1h-1zM9 11h3v1h-3zM9 12h1v1h-1zM12 18h1v1h-1zM1 24h1v1h-1zM6 26h1v1h-1zM5 27h1v1h-1zM5 28h1v1h-1zM5 29h1v1h-1zM4 30h2v1h-2z"/>
<path fill="#aaaaaa" d="M8 5h1v1h-1zM14 5h1v1h-1zM9 6h1v1h-1zM12 6h1v1h-1zM14 6h1v1h-1zM10 7h2v1h-2zM13 7h1v1h-1zM8 8h7v1h-7zM11 9h1v1h-1zM9 10h1v1h-1zM11 10h1v1h-1zM8 11h1v1h-1zM10 12h2v1h-2zM12 15h2v1h-2zM12 16h1v1h-1zM7 17h1v1h-1zM13 19h1v1h-1zM2 21h1v1h-1zM9 21h1v1h-1zM0 22h2v1h-2zM3 22h1v1h-1zM0 23h4v1h-4zM13 23h1v1h-1zM0 24h1v1h-1zM3 24h1v1h-1zM1 25h3v1h-3zM5 26h1v1h-1zM0 27h2v1h-2zM3 27h2v1h-2zM3 28h1v1h-1zM4 29h1v1h-1zM6 29h1v1h-1zM2 30h2v1h-2zM6 30h1v1h-1zM2 31h1v1h-1zM6 32h1v1h-1z"/>
<path fill="#bbbbbb" d="M5 3h1v1h-1zM6 4h1v1h-1zM9 4h2v1h-2zM14 4h1v1h-1zM4 5h2v1h-2zM11 5h1v1h-1zM13 5h1v1h-1zM2 6h1v1h-1zM4 6h3v1h-3zM13 6h1v1h-1zM6 7h3v1h-3zM12 7h1v1h-1zM14 7h1v1h-1zM6 8h1v1h-1zM12 9h2v1h-2zM13 11h1v1h-1zM8 12h1v1h-1zM12 12h1v1h-1zM0 13h1v1h-1zM4 13h1v1h-1zM7 13h2v1h-2zM10 13h1v1h-1zM13 13h1v1h-1zM0 14h1v1h-1zM9 14h1v1h-1zM14 14h1v1h-1zM11 16h1v1h-1zM14 16h1v1h-1zM6 17h1v1h-1zM10 17h1v1h-1zM1 18h1v1h-1zM5 18h2v1h-2zM8 18h1v1h-1zM11 18h1v1h-1zM0 19h2v1h-2zM3 19h1v1h-1zM9 19h3v1h-3zM14 19h1v1h-1zM2 20h3v1h-3zM9 20h2v1h-2zM12 20h2v1h-2zM1 21h1v1h-1zM3 21h1v1h-1zM8 21h1v1h-1zM10 21h3v1h-3zM14 21h1v1h-1zM2 22h1v1h-1zM4 22h1v1h-1zM9 22h1v1h-1zM13 22h2v1h-2zM4 23h2v1h-2zM12 23h1v1h-1zM5 24h2v1h-2zM8 24h1v1h-1zM12 24h1v1h-1zM0 25h1v1h-1zM4 25h2v1h-2zM0 26h5v1h-5zM7 26h1v1h-1zM9 26h1v1h-1zM6 27h2v1h-2zM1 28h2v1h-2zM4 28h1v1h-1zM6 28h2v1h-2zM10 28h1v1h-1zM0 29h1v1h-1zM2 29h2v1h-2zM7 29h2v1h-2zM0 30h1v1h-1zM7 30h2v1h-2zM11 30h1v1h-1zM1 31h1v1h-1zM5 31h5v1h-5zM0 32h1v1h-1zM2 32h1v1h-1zM5 32h1v1h-1zM8 32h1v1h-1zM0 33h1v1h-1zM2 33h2v1h-2zM9 33h1v1h-1zM11 33h1v1h-1zM5 34h1v1h-1zM9 34h1v1h-1zM1 35h1v1h-1zM8 35h1v1h-1zM12 35h2v1h-2zM0 36h2v1h-2zM5 36h1v1h-1zM7 36h1v1h-1zM12 36h1v1h-1zM8 37h2v1h-2zM13 37h1v1h-1zM3 38h2v1h-2zM7 38h1v1h-1zM9 38h1v1h-1zM11 38h1v1h-1z"/>
<path fill="#dddddd" d="M0 0h2v1h-2zM3 0h1v1h-1zM9 0h1v1h-1zM0 1h1v1h-1zM2 1h1v1h-1zM4 1h2v1h-2zM7 1h1v1h-1zM9 1h1v1h-1zM0 2h1v1h-1zM2 2h2v1h-2zM5 2h3v1h-3zM9 2h3v1h-3zM14 2h1v1h-1zM0 3h2v1h-2zM3 3h2v1h-2zM7 3h1v1h-1zM11 3h1v1h-1zM13 3h2v1h-2zM3 4h1v1h-1zM8 4h1v1h-1zM11 4h1v1h-1zM0 5h4v1h-4zM3 6h1v1h-1zM0 7h1v1h-1zM2 7h2v1h-2zM0 8h1v1h-1zM2 8h2v1h-2zM5 8h1v1h-1zM0 9h6v1h-6zM14 9h1v1h-1zM2 10h1v1h-1zM4 10h1v1h-1zM0 11h1v1h-1zM4 11h1v1h-1zM14 11h1v1h-1zM0 12h2v1h-2zM4 12h1v1h-1zM3 13h1v1h-1zM2 14h2v1h-2zM5 14h1v1h-1zM8 14h1v1h-1zM10 14h1v1h-1zM1 15h3v1h-3zM5 15h2v1h-2zM1 16h1v1h-1zM4 16h1v1h-1zM6 16h2v1h-2zM0 17h3v1h-3zM0 18h1v1h-1zM3 18h1v1h-1zM6 19h1v1h-1zM6 20h1v1h-1zM8 22h1v1h-1zM11 22h1v1h-1zM10 23h1v1h-1zM10 24h1v1h-1zM7 25h1v1h-1zM9 25h3v1h-3zM8 26h1v1h-1zM10 26h4v1h-4zM13 27h2v1h-2zM9 28h1v1h-1zM14 28h1v1h-1zM12 29h2v1h-2zM12 30h2v1h-2zM10 31h1v1h-1zM13 31h1v1h-1zM9 32h5v1h-5zM7 33h2v1h-2zM12 33h3v1h-3zM0 34h2v1h-2zM10 34h2v1h-2zM14 34h1v1h-1zM3 35h3v1h-3zM10 35h1v1h-1zM3 36h1v1h-1zM1 37h1v1h-1zM3 37h1v1h-1zM10 37h1v1h-1zM10 38h1v1h-1zM14 38h1v1h-1z"/>
<path fill="#eeeeee" d="M4 0h2v1h-2zM1 1h1v1h-1zM3 1h1v1h-1zM6 1h1v1h-1zM1 2h1v1h-1zM8 2h1v1h-1zM10 3h1v1h-1zM1 7h1v1h-1zM1 11h1v1h-1zM7 20h1v1h-1zM14 26h1v1h-1zM14 31h1v1h-1zM14 32h1v1h-1z"/>
<path fill="#ffffff" d="M2 0h1v1h-1zM1 4h1v1h-1zM0 10h1v1h-1zM8 16h2v1h-2zM13 16h1v1h-1zM8 17h2v1h-2zM13 17h2v1h-2zM13 18h2v1h-2zM13 24h2v1h-2zM13 25h2v1h-2zM3 31h2v1h-2zM3 32h2v1h-2z"/>
</svg>
<svg x="823.2" y="240.8" width="23.30" height="235.70" viewBox="0 0 5 53" preserveAspectRatio="none" shape-rendering="crispEdges">
<rect width="5" height="53" fill="#bbbbbb"/>
<path fill="#666666" d="M3 10h1v1h-1zM0 21h2v1h-2zM0 52h1v1h-1z"/>
<path fill="#777777" d="M0 0h1v1h-1zM2 5h1v1h-1zM1 11h1v1h-1zM3 14h1v1h-1zM4 18h1v1h-1zM4 22h1v1h-1zM1 25h1v1h-1zM3 25h1v1h-1zM1 26h3v1h-3zM0 27h1v1h-1zM0 28h1v1h-1zM3 40h1v1h-1zM4 44h1v1h-1zM3 47h1v1h-1zM0 50h1v1h-1zM0 51h1v1h-1zM2 51h1v1h-1z"/>
<path fill="#888888" d="M1 0h1v1h-1zM1 1h1v1h-1zM2 2h1v1h-1zM3 4h2v1h-2zM1 7h1v1h-1zM0 9h1v1h-1zM2 10h1v1h-1zM2 11h1v1h-1zM2 12h1v1h-1zM0 13h1v1h-1zM1 14h1v1h-1zM0 20h1v1h-1zM1 23h1v1h-1zM4 25h1v1h-1zM2 33h1v1h-1zM4 34h1v1h-1zM3 37h1v1h-1zM4 43h1v1h-1zM4 45h1v1h-1zM1 46h1v1h-1zM4 46h1v1h-1zM1 47h1v1h-1zM3 51h1v1h-1zM2 52h2v1h-2z"/>
<path fill="#999999" d="M2 0h1v1h-1zM2 1h1v1h-1zM1 2h1v1h-1zM1 6h1v1h-1zM3 6h1v1h-1zM0 8h1v1h-1zM1 9h1v1h-1zM0 10h1v1h-1zM3 11h2v1h-2zM0 12h1v1h-1zM3 12h2v1h-2zM2 13h1v1h-1zM4 13h1v1h-1zM3 15h1v1h-1zM0 19h1v1h-1zM1 20h4v1h-4zM4 23h1v1h-1zM1 24h1v1h-1zM4 26h1v1h-1zM1 27h2v1h-2zM0 31h1v1h-1zM0 32h2v1h-2zM0 33h2v1h-2zM0 38h1v1h-1zM2 40h1v1h-1zM4 41h1v1h-1zM1 45h1v1h-1zM3 45h1v1h-1zM2 46h2v1h-2zM2 47h1v1h-1zM4 47h1v1h-1zM0 49h2v1h-2zM2 50h1v1h-1zM4 50h1v1h-1zM1 51h1v1h-1z"/>
<path fill="#aaaaaa" d="M0 1h1v1h-1zM0 2h1v1h-1zM4 2h1v1h-1zM2 4h1v1h-1zM3 5h1v1h-1zM2 8h1v1h-1zM2 9h1v1h-1zM1 10h1v1h-1zM1 13h1v1h-1zM3 13h1v1h-1zM1 17h1v1h-1zM4 17h1v1h-1zM0 18h1v1h-1zM3 21h1v1h-1zM0 22h2v1h-2zM3 24h2v1h-2zM2 25h1v1h-1zM4 28h1v1h-1zM3 29h1v1h-1zM0 30h1v1h-1zM3 30h1v1h-1zM2 31h1v1h-1zM0 34h1v1h-1zM3 34h1v1h-1zM3 35h2v1h-2zM4 36h1v1h-1zM0 39h1v1h-1zM4 40h1v1h-1zM0 41h1v1h-1zM3 42h2v1h-2zM0 43h4v1h-4zM1 44h1v1h-1zM3 49h1v1h-1zM1 50h1v1h-1zM4 51h1v1h-1zM1 52h1v1h-1zM4 52h1v1h-1z"/>
<path fill="#cccccc" d="M3 2h1v1h-1zM4 3h1v1h-1zM2 6h1v1h-1zM2 7h3v1h-3zM3 8h2v1h-2zM2 15h1v1h-1zM1 16h2v1h-2zM4 16h1v1h-1zM0 17h1v1h-1zM3 17h1v1h-1zM1 18h2v1h-2zM3 19h1v1h-1zM2 21h1v1h-1zM2 22h1v1h-1zM0 23h1v1h-1zM0 24h1v1h-1zM2 28h1v1h-1zM0 29h1v1h-1zM2 29h1v1h-1zM1 30h1v1h-1zM3 31h2v1h-2zM0 36h2v1h-2zM1 37h1v1h-1zM4 37h1v1h-1zM3 38h1v1h-1zM1 39h2v1h-2zM0 40h2v1h-2zM3 41h1v1h-1zM3 44h1v1h-1zM4 49h1v1h-1z"/>
<path fill="#dddddd" d="M3 1h1v1h-1zM3 3h1v1h-1zM4 6h1v1h-1zM0 7h1v1h-1zM4 19h1v1h-1zM3 27h1v1h-1zM3 28h1v1h-1zM4 29h1v1h-1zM3 32h2v1h-2zM3 33h1v1h-1zM0 35h2v1h-2zM2 38h1v1h-1zM4 39h1v1h-1zM2 41h1v1h-1zM0 42h1v1h-1zM2 44h1v1h-1zM2 49h1v1h-1z"/>
<path fill="#eeeeee" d="M4 15h1v1h-1zM3 23h1v1h-1zM1 42h1v1h-1z"/>
<path fill="#ffffff" d="M0 3h3v1h-3zM4 9h1v1h-1zM0 25h1v1h-1zM0 26h1v1h-1zM4 33h1v1h-1zM1 38h1v1h-1zM2 48h3v1h-3z"/>
</svg>
<svg x="846.5" y="240.8" width="97.50" height="235.70" viewBox="0 0 22 53" preserveAspectRatio="none" shape-rendering="crispEdges">
<rect width="22" height="53" fill="#ffffff"/>
<path fill="#666666" d="M5 1h2v1h-2zM4 2h1v1h-1zM3 3h1v1h-1zM5 3h1v1h-1zM12 11h1v1h-1zM7 12h1v1h-1zM13 13h1v1h-1zM15 17h1v1h-1zM0 18h1v1h-1zM14 36h1v1h-1zM13 37h1v1h-1zM15 37h1v1h-1zM14 38h1v1h-1zM7 45h1v1h-1zM7 52h1v1h-1z"/>
<path fill="#777777" d="M3 0h1v1h-1zM0 1h1v1h-1zM7 1h1v1h-1zM1 2h1v1h-1zM6 2h1v1h-1zM0 3h3v1h-3zM4 3h1v1h-1zM6 3h1v1h-1zM1 4h1v1h-1zM3 4h1v1h-1zM5 4h1v1h-1zM18 4h1v1h-1zM7 10h1v1h-1zM4 11h2v1h-2zM7 11h1v1h-1zM4 12h2v1h-2zM12 12h2v1h-2zM3 13h1v1h-1zM6 13h1v1h-1zM0 14h1v1h-1zM2 14h1v1h-1zM1 15h1v1h-1zM3 15h1v1h-1zM3 16h1v1h-1zM4 18h1v1h-1zM1 19h1v1h-1zM3 19h2v1h-2zM0 21h1v1h-1zM1 22h1v1h-1zM7 24h1v1h-1zM9 24h1v1h-1zM9 25h1v1h-1zM4 31h1v1h-1zM6 31h1v1h-1zM5 32h2v1h-2zM14 34h1v1h-1zM13 36h1v1h-1zM16 36h1v1h-1zM8 37h1v1h-1zM14 37h1v1h-1zM16 37h1v1h-1zM15 38h1v1h-1zM9 39h2v1h-2zM17 43h1v1h-1zM7 44h1v1h-1zM16 44h2v1h-2zM3 45h1v1h-1zM5 45h1v1h-1zM8 45h1v1h-1zM6 46h3v1h-3zM6 47h1v1h-1zM8 47h1v1h-1zM10 48h1v1h-1zM12 48h1v1h-1zM8 49h1v1h-1zM10 49h1v1h-1zM13 49h1v1h-1zM8 51h1v1h-1zM12 51h2v1h-2zM13 52h1v1h-1z"/>
<path fill="#888888" d="M5 0h3v1h-3zM2 1h1v1h-1zM0 2h1v1h-1zM3 2h1v1h-1zM5 2h1v1h-1zM7 2h1v1h-1zM11 2h1v1h-1zM17 3h1v1h-1zM2 4h1v1h-1zM4 4h1v1h-1zM17 4h1v1h-1zM0 5h2v1h-2zM4 6h1v1h-1zM4 7h1v1h-1zM6 10h1v1h-1zM8 10h1v1h-1zM6 11h1v1h-1zM8 11h2v1h-2zM11 11h1v1h-1zM13 11h1v1h-1zM6 12h1v1h-1zM8 12h2v1h-2zM11 12h1v1h-1zM0 13h1v1h-1zM5 13h1v1h-1zM7 13h1v1h-1zM9 13h4v1h-4zM1 14h1v1h-1zM3 14h3v1h-3zM8 14h1v1h-1zM14 14h1v1h-1zM2 15h1v1h-1zM4 15h2v1h-2zM13 15h3v1h-3zM0 16h3v1h-3zM4 16h1v1h-1zM13 16h2v1h-2zM0 17h4v1h-4zM1 18h3v1h-3zM2 19h1v1h-1zM1 20h3v1h-3zM2 21h1v1h-1zM0 22h1v1h-1zM3 24h2v1h-2zM6 24h1v1h-1zM8 24h1v1h-1zM8 25h1v1h-1zM8 26h1v1h-1zM6 30h1v1h-1zM13 33h2v1h-2zM13 34h1v1h-1zM13 35h2v1h-2zM9 36h1v1h-1zM15 36h1v1h-1zM21 36h1v1h-1zM10 37h1v1h-1zM8 38h3v1h-3zM8 39h1v1h-1zM5 42h1v1h-1zM16 42h2v1h-2zM6 43h3v1h-3zM16 43h1v1h-1zM4 44h3v1h-3zM6 45h1v1h-1zM5 46h1v1h-1zM7 47h1v1h-1zM7 48h3v1h-3zM13 48h3v1h-3zM7 49h1v1h-1zM9 49h1v1h-1zM14 49h1v1h-1zM10 50h2v1h-2zM13 50h1v1h-1zM9 51h3v1h-3zM14 51h1v1h-1zM5 52h2v1h-2zM8 52h2v1h-2zM12 52h1v1h-1zM14 52h1v1h-1z"/>
<path fill="#999999" d="M1 0h2v1h-2zM4 0h1v1h-1zM1 1h1v1h-1zM3 1h1v1h-1zM2 2h1v1h-1zM12 2h1v1h-1zM11 3h2v1h-2zM2 5h1v1h-1zM4 5h1v1h-1zM2 6h2v1h-2zM3 7h1v1h-1zM10 12h1v1h-1zM1 13h2v1h-2zM4 13h1v1h-1zM6 14h2v1h-2zM13 14h1v1h-1zM0 15h1v1h-1zM15 16h1v1h-1zM0 19h1v1h-1zM0 20h1v1h-1zM1 21h1v1h-1zM4 25h1v1h-1zM7 25h1v1h-1zM14 26h2v1h-2zM5 30h1v1h-1zM5 31h1v1h-1zM8 36h1v1h-1zM9 37h1v1h-1zM21 37h1v1h-1zM5 43h1v1h-1zM8 44h1v1h-1zM4 45h1v1h-1zM17 46h1v1h-1zM9 47h1v1h-1zM11 48h1v1h-1zM11 49h2v1h-2zM15 49h1v1h-1zM9 50h1v1h-1zM12 50h1v1h-1zM14 50h2v1h-2zM11 52h1v1h-1z"/>
<path fill="#aaaaaa" d="M4 1h1v1h-1zM0 4h1v1h-1zM3 5h1v1h-1zM15 34h1v1h-1zM15 35h1v1h-1zM10 52h1v1h-1z"/>
</svg>
<svg x="944.0" y="240.8" width="67.60" height="235.70" viewBox="0 0 15 53" preserveAspectRatio="none" shape-rendering="crispEdges">
<rect width="15" height="53" fill="#999999"/>
<path fill="#555555" d="M8 10h1v1h-1zM1 11h1v1h-1zM10 24h1v1h-1zM11 25h1v1h-1zM13 26h1v1h-1zM3 39h1v1h-1zM5 42h1v1h-1z"/>
<path fill="#666666" d="M0 0h1v1h-1zM4 1h1v1h-1zM4 2h1v1h-1zM1 8h1v1h-1zM6 8h1v1h-1zM2 9h1v1h-1zM1 10h1v1h-1zM4 17h1v1h-1zM5 19h1v1h-1zM6 22h2v1h-2zM11 24h1v1h-1zM12 25h1v1h-1zM1 27h1v1h-1zM7 31h1v1h-1zM2 40h1v1h-1zM8 41h1v1h-1zM3 42h1v1h-1zM7 42h1v1h-1z"/>
<path fill="#777777" d="M2 0h3v1h-3zM14 0h1v1h-1zM2 1h2v1h-2zM14 1h1v1h-1zM0 2h1v1h-1zM2 2h1v1h-1zM5 2h1v1h-1zM10 2h1v1h-1zM12 2h1v1h-1zM7 7h2v1h-2zM2 8h1v1h-1zM8 8h1v1h-1zM1 9h1v1h-1zM7 9h1v1h-1zM12 10h1v1h-1zM4 11h1v1h-1zM10 14h1v1h-1zM4 16h1v1h-1zM13 16h1v1h-1zM5 18h1v1h-1zM4 19h1v1h-1zM4 21h1v1h-1zM0 22h1v1h-1zM13 22h1v1h-1zM1 23h1v1h-1zM9 23h1v1h-1zM3 24h1v1h-1zM9 24h1v1h-1zM13 24h1v1h-1zM13 25h1v1h-1zM5 26h1v1h-1zM12 26h1v1h-1zM2 27h1v1h-1zM4 27h2v1h-2zM14 27h1v1h-1zM1 28h1v1h-1zM6 30h2v1h-2zM3 31h1v1h-1zM6 31h1v1h-1zM4 32h1v1h-1zM6 32h1v1h-1zM3 37h1v1h-1zM12 37h2v1h-2zM2 38h2v1h-2zM8 40h1v1h-1zM0 41h1v1h-1zM2 41h1v1h-1zM6 41h1v1h-1zM14 42h1v1h-1zM7 43h1v1h-1zM4 44h1v1h-1zM3 46h1v1h-1zM11 46h1v1h-1zM3 47h1v1h-1zM13 50h1v1h-1z"/>
<path fill="#888888" d="M1 0h1v1h-1zM5 0h1v1h-1zM9 0h1v1h-1zM0 1h1v1h-1zM5 1h1v1h-1zM12 1h2v1h-2zM3 2h1v1h-1zM13 2h2v1h-2zM0 3h1v1h-1zM10 3h1v1h-1zM0 4h1v1h-1zM5 4h4v1h-4zM3 5h1v1h-1zM7 5h3v1h-3zM14 5h1v1h-1zM2 6h3v1h-3zM7 6h1v1h-1zM3 7h1v1h-1zM5 8h1v1h-1zM0 9h1v1h-1zM9 9h2v1h-2zM7 10h1v1h-1zM10 10h1v1h-1zM8 11h1v1h-1zM2 12h1v1h-1zM10 12h1v1h-1zM2 13h1v1h-1zM9 13h2v1h-2zM7 14h1v1h-1zM8 15h2v1h-2zM0 16h1v1h-1zM7 17h1v1h-1zM10 17h1v1h-1zM4 18h1v1h-1zM13 19h1v1h-1zM4 20h2v1h-2zM7 20h3v1h-3zM5 21h1v1h-1zM10 21h1v1h-1zM13 21h1v1h-1zM5 22h1v1h-1zM8 22h1v1h-1zM12 22h1v1h-1zM14 22h1v1h-1zM8 23h1v1h-1zM10 23h2v1h-2zM13 23h1v1h-1zM4 25h2v1h-2zM9 25h2v1h-2zM14 25h1v1h-1zM4 26h1v1h-1zM14 26h1v1h-1zM0 27h1v1h-1zM13 27h1v1h-1zM0 28h1v1h-1zM3 28h1v1h-1zM5 28h1v1h-1zM7 28h1v1h-1zM6 29h1v1h-1zM4 31h1v1h-1zM0 32h1v1h-1zM2 32h2v1h-2zM5 32h1v1h-1zM7 32h1v1h-1zM0 33h4v1h-4zM6 33h1v1h-1zM2 34h2v1h-2zM7 34h1v1h-1zM11 34h1v1h-1zM3 35h2v1h-2zM2 36h2v1h-2zM12 36h3v1h-3zM1 37h1v1h-1zM14 37h1v1h-1zM5 38h3v1h-3zM11 38h1v1h-1zM5 39h4v1h-4zM3 40h1v1h-1zM7 40h1v1h-1zM12 40h1v1h-1zM3 41h1v1h-1zM7 41h1v1h-1zM6 42h1v1h-1zM9 42h1v1h-1zM1 43h1v1h-1zM5 43h2v1h-2zM9 43h3v1h-3zM14 43h1v1h-1zM0 44h1v1h-1zM2 44h1v1h-1zM5 44h2v1h-2zM10 44h1v1h-1zM14 44h1v1h-1zM4 46h1v1h-1zM12 47h1v1h-1zM1 48h1v1h-1zM3 49h2v1h-2zM9 49h1v1h-1zM3 50h1v1h-1zM8 50h2v1h-2zM10 51h1v1h-1zM12 51h1v1h-1zM0 52h2v1h-2zM3 52h1v1h-1z"/>
<path fill="#aaaaaa" d="M6 0h1v1h-1zM12 0h1v1h-1zM7 1h1v1h-1zM11 1h1v1h-1zM7 2h1v1h-1zM9 2h1v1h-1zM1 3h1v1h-1zM5 3h3v1h-3zM1 4h1v1h-1zM3 4h2v1h-2zM10 4h1v1h-1zM0 5h2v1h-2zM6 5h1v1h-1zM12 5h1v1h-1zM0 6h1v1h-1zM5 6h1v1h-1zM12 6h1v1h-1zM14 6h1v1h-1zM4 7h1v1h-1zM6 7h1v1h-1zM9 7h5v1h-5zM4 8h1v1h-1zM9 8h2v1h-2zM14 8h1v1h-1zM5 9h2v1h-2zM3 10h1v1h-1zM3 11h1v1h-1zM7 11h1v1h-1zM6 12h3v1h-3zM11 12h1v1h-1zM14 12h1v1h-1zM1 13h1v1h-1zM3 13h1v1h-1zM13 14h1v1h-1zM4 15h2v1h-2zM11 15h1v1h-1zM14 15h1v1h-1zM5 16h1v1h-1zM10 16h1v1h-1zM12 16h1v1h-1zM14 16h1v1h-1zM1 17h1v1h-1zM8 17h2v1h-2zM14 17h1v1h-1zM3 18h1v1h-1zM7 18h1v1h-1zM12 18h2v1h-2zM0 19h1v1h-1zM3 19h1v1h-1zM8 19h1v1h-1zM11 19h2v1h-2zM14 19h1v1h-1zM2 20h1v1h-1zM12 20h3v1h-3zM6 21h1v1h-1zM8 21h1v1h-1zM12 21h1v1h-1zM14 21h1v1h-1zM0 23h1v1h-1zM2 23h1v1h-1zM4 23h1v1h-1zM7 23h1v1h-1zM12 23h1v1h-1zM1 24h1v1h-1zM5 24h1v1h-1zM8 24h1v1h-1zM14 24h1v1h-1zM6 25h1v1h-1zM6 26h1v1h-1zM8 26h1v1h-1zM11 26h1v1h-1zM7 27h1v1h-1zM11 27h1v1h-1zM2 28h1v1h-1zM0 29h1v1h-1zM2 29h1v1h-1zM5 29h1v1h-1zM9 29h2v1h-2zM14 29h1v1h-1zM2 30h1v1h-1zM8 30h1v1h-1zM2 31h1v1h-1zM9 31h1v1h-1zM11 31h1v1h-1zM13 31h1v1h-1zM8 32h1v1h-1zM12 32h1v1h-1zM7 33h1v1h-1zM14 33h1v1h-1zM0 34h1v1h-1zM5 34h1v1h-1zM9 34h1v1h-1zM12 34h1v1h-1zM0 35h3v1h-3zM6 35h1v1h-1zM8 35h1v1h-1zM9 36h1v1h-1zM11 36h1v1h-1zM2 37h1v1h-1zM4 37h2v1h-2zM9 37h1v1h-1zM11 37h1v1h-1zM8 38h1v1h-1zM10 38h1v1h-1zM13 38h2v1h-2zM4 39h1v1h-1zM10 39h1v1h-1zM13 39h1v1h-1zM4 40h2v1h-2zM9 40h1v1h-1zM9 41h2v1h-2zM12 41h3v1h-3zM8 42h1v1h-1zM10 42h2v1h-2zM13 42h1v1h-1zM3 43h1v1h-1zM8 43h1v1h-1zM7 44h2v1h-2zM12 44h1v1h-1zM1 45h2v1h-2zM4 45h1v1h-1zM11 45h2v1h-2zM2 47h1v1h-1zM11 47h1v1h-1zM14 47h1v1h-1zM0 48h1v1h-1zM3 48h2v1h-2zM6 48h1v1h-1zM8 48h1v1h-1zM10 48h1v1h-1zM13 48h1v1h-1zM5 49h1v1h-1zM11 49h1v1h-1zM13 49h1v1h-1zM1 50h1v1h-1zM7 50h1v1h-1zM11 50h1v1h-1zM0 51h1v1h-1zM2 51h1v1h-1zM4 51h1v1h-1zM7 51h1v1h-1zM9 51h1v1h-1zM13 51h2v1h-2zM4 52h1v1h-1zM7 52h2v1h-2zM14 52h1v1h-1z"/>
<path fill="#bbbbbb" d="M7 0h1v1h-1zM6 1h1v1h-1zM1 2h1v1h-1zM8 2h1v1h-1zM3 3h1v1h-1zM2 4h1v1h-1zM11 4h2v1h-2zM5 5h1v1h-1zM13 5h1v1h-1zM11 6h1v1h-1zM12 8h2v1h-2zM11 9h1v1h-1zM13 10h2v1h-2zM13 11h2v1h-2zM1 12h1v1h-1zM5 12h1v1h-1zM12 12h2v1h-2zM0 13h1v1h-1zM14 13h1v1h-1zM1 14h1v1h-1zM3 14h2v1h-2zM14 14h1v1h-1zM1 15h3v1h-3zM6 15h2v1h-2zM1 16h1v1h-1zM11 16h1v1h-1zM0 17h1v1h-1zM11 17h1v1h-1zM6 18h1v1h-1zM10 18h1v1h-1zM14 18h1v1h-1zM7 19h1v1h-1zM0 20h1v1h-1zM6 20h1v1h-1zM2 21h2v1h-2zM9 21h1v1h-1zM2 22h2v1h-2zM2 24h1v1h-1zM1 25h2v1h-2zM2 26h1v1h-1zM7 26h1v1h-1zM3 27h1v1h-1zM10 27h1v1h-1zM8 28h1v1h-1zM10 28h1v1h-1zM8 29h1v1h-1zM11 29h2v1h-2zM1 30h1v1h-1zM5 30h1v1h-1zM10 30h2v1h-2zM13 30h1v1h-1zM0 31h1v1h-1zM9 32h3v1h-3zM4 33h1v1h-1zM9 33h1v1h-1zM13 33h1v1h-1zM1 34h1v1h-1zM8 34h1v1h-1zM10 34h1v1h-1zM13 34h2v1h-2zM7 35h1v1h-1zM10 35h1v1h-1zM13 35h1v1h-1zM6 36h1v1h-1zM8 36h1v1h-1zM9 38h1v1h-1zM11 39h1v1h-1zM14 39h1v1h-1zM6 40h1v1h-1zM10 40h2v1h-2zM13 40h1v1h-1zM11 41h1v1h-1zM2 42h1v1h-1zM2 43h1v1h-1zM13 44h1v1h-1zM10 45h1v1h-1zM14 45h1v1h-1zM0 46h2v1h-2zM10 46h1v1h-1zM13 46h1v1h-1zM5 47h1v1h-1zM8 47h1v1h-1zM13 47h1v1h-1zM9 48h1v1h-1zM12 48h1v1h-1zM12 49h1v1h-1zM5 50h2v1h-2zM12 50h1v1h-1zM14 50h1v1h-1zM1 51h1v1h-1zM3 51h1v1h-1zM5 51h1v1h-1zM5 52h1v1h-1zM12 52h2v1h-2z"/>
<path fill="#cccccc" d="M9 3h1v1h-1zM9 4h1v1h-1zM13 4h1v1h-1zM1 6h1v1h-1zM11 8h1v1h-1zM14 9h1v1h-1zM5 10h1v1h-1zM0 11h1v1h-1zM4 12h1v1h-1zM4 13h2v1h-2zM13 13h1v1h-1zM0 14h1v1h-1zM5 14h1v1h-1zM10 15h1v1h-1zM12 15h2v1h-2zM2 17h1v1h-1zM13 17h1v1h-1zM11 18h1v1h-1zM10 19h1v1h-1zM3 20h1v1h-1zM0 24h1v1h-1zM13 29h1v1h-1zM14 30h1v1h-1zM12 31h1v1h-1zM10 33h1v1h-1zM7 36h1v1h-1zM10 36h1v1h-1zM10 37h1v1h-1zM9 39h1v1h-1zM14 40h1v1h-1zM12 42h1v1h-1zM6 45h1v1h-1zM13 45h1v1h-1zM6 46h1v1h-1zM14 46h1v1h-1zM6 47h1v1h-1zM9 47h2v1h-2zM5 48h1v1h-1zM6 51h1v1h-1zM9 52h2v1h-2z"/>
<path fill="#dddddd" d="M14 7h1v1h-1zM2 14h1v1h-1zM12 17h1v1h-1zM0 21h1v1h-1zM0 25h1v1h-1zM4 47h1v1h-1zM6 52h1v1h-1z"/>
<path fill="#eeeeee" d="M11 33h1v1h-1z"/>
<path fill="#ffffff" d="M5 17h2v1h-2zM0 18h3v1h-3zM11 21h1v1h-1zM6 23h1v1h-1zM13 32h1v1h-1zM6 37h3v1h-3zM2 39h1v1h-1zM1 40h1v1h-1zM5 46h1v1h-1zM14 49h1v1h-1z"/>
</svg>
<rect x="862" y="8.3" width="6.7" height="2.7" fill="#7b7b7b" shape-rendering="crispEdges"/>
<rect x="868.7" y="9.7" width="8.1" height="4.7" fill="#7b7b7b" shape-rendering="crispEdges"/>
<rect x="876.8" y="8.3" width="9.4" height="4.7" fill="#888" shape-rendering="crispEdges"/>
<rect x="857.3" y="20.5" width="12.1" height="6.7" fill="#777" shape-rendering="crispEdges"/>
<rect x="861.3" y="27.2" width="5.4" height="6.7" fill="#7b7b7b" shape-rendering="crispEdges"/>
<rect x="866" y="29.2" width="27.0" height="6.7" fill="#777" shape-rendering="crispEdges"/>
<rect x="869.4" y="33.9" width="11.5" height="6.7" fill="#7b7b7b" shape-rendering="crispEdges"/>
<rect x="847.2" y="40" width="11.5" height="7.4" fill="#808080" shape-rendering="crispEdges"/>
<rect x="852" y="37" width="6.7" height="3.0" fill="#808080" shape-rendering="crispEdges"/>
<rect x="859.3" y="35.3" width="8.1" height="4.0" fill="#808080" shape-rendering="crispEdges"/>
<rect x="868.7" y="45.3" width="16.2" height="6.1" fill="#777" shape-rendering="crispEdges"/>
<rect x="868.7" y="51.4" width="8.1" height="8.1" fill="#7b7b7b" shape-rendering="crispEdges"/>
<rect x="876.8" y="40.6" width="4.2" height="4.7" fill="#888" shape-rendering="crispEdges"/>
<rect x="909.1" y="13.7" width="8.1" height="8.1" fill="#bbb" shape-rendering="crispEdges"/>
<rect x="925.2" y="12.4" width="9.5" height="6.7" fill="#c4c4c4" shape-rendering="crispEdges"/>
<rect x="909.1" y="29.9" width="8.1" height="12.1" fill="#c8c8c8" shape-rendering="crispEdges"/>
<rect x="917.2" y="33.9" width="8.0" height="10.8" fill="#bbb" shape-rendering="crispEdges"/>
<rect x="884.9" y="48.7" width="8.1" height="4.0" fill="#c8c8c8" shape-rendering="crispEdges"/>
<rect x="893.6" y="45.3" width="6.8" height="3.4" fill="#ccc" shape-rendering="crispEdges"/>
<rect x="926.6" y="25.8" width="8.1" height="8.1" fill="#aaa" shape-rendering="crispEdges"/>
<rect x="937.4" y="17.8" width="5.3" height="4.0" fill="#999" shape-rendering="crispEdges"/>
<rect x="913" y="45" width="8.0" height="7.0" fill="#bbb" shape-rendering="crispEdges"/>
<rect x="935" y="50" width="8.0" height="10.0" fill="#c4c4c4" shape-rendering="crispEdges"/>
<rect x="900" y="60" width="35.0" height="4.5" fill="#bbb" shape-rendering="crispEdges"/>
<path d="M893.6,49.4 L897.0,49.4 L897.0,53.0 L893.6,53.0ZM917.2,18.4 L920.1,18.4 L920.1,21.5 L917.2,21.5ZM921.9,42.2 L927.9,42.2 L927.9,49.8 L930.0,49.8 L930.0,54.1 L927.9,57.5 L912.5,57.5 L912.5,60.8 L909.1,60.8 L909.1,57.5 L905.7,57.5 L905.7,53.4 L912.5,53.4 L912.5,50.3 L916.5,50.3 L916.5,49.8 L921.9,49.8ZM909.1,82.0 L915.8,82.0 L915.8,85.7 L919.9,85.7 L919.9,97.2 L912.9,97.2 L912.9,86.1 L909.1,86.1ZM900.8,89.1 L904.4,89.1 L904.4,96.4 L900.8,96.4ZM896.7,97.2 L900.0,97.2 L900.0,100.2 L896.7,100.2ZM884.9,101.5 L888.3,101.5 L888.3,104.5 L884.9,104.5ZM928.6,97.5 L932.0,97.5 L932.0,101.3 L928.6,101.3ZM840.5,112.3 L844.3,112.3 L844.3,115.7 L840.5,115.7ZM844.8,120.4 L848.3,120.4 L848.3,127.8 L844.8,127.8ZM832.4,136.5 L836.5,136.5 L836.5,139.9 L832.4,139.9ZM851.9,164.4 L856.0,164.4 L856.0,172.2 L860.0,172.2 L860.0,176.5 L856.0,176.5 L856.0,183.3 L847.9,183.3 L847.9,179.9 L844.5,179.9 L844.5,173.2 L849.9,173.2 L849.9,168.5 L851.9,168.5ZM835.8,175.9 L839.4,175.9 L839.4,179.5 L835.8,179.5ZM968.3,166.0 L971.7,166.0 L971.7,169.3 L968.3,169.3ZM972.5,162.1 L975.9,162.1 L975.9,165.5 L972.5,165.5ZM983.9,202.4 L987.3,202.4 L987.3,205.5 L983.9,205.5ZM959.9,218.1 L966.6,218.1 L966.6,221.4 L963.3,221.4 L962.4,224.8 L956.0,224.8 L956.0,222.3 L959.9,222.3ZM916.2,233.2 L919.6,233.2 L919.6,236.6 L916.2,236.6ZM896.3,245.1 L899.7,245.1 L899.7,248.0 L896.3,248.0ZM892.3,248.5 L895.6,248.5 L895.6,251.8 L892.3,251.8ZM888.2,252.5 L891.6,252.5 L891.6,255.9 L888.2,255.9ZM911.8,269.3 L915.6,269.3 L915.6,272.7 L911.8,272.7ZM928.0,269.3 L931.3,269.3 L931.3,272.7 L928.0,272.7ZM923.9,273.3 L927.3,273.3 L927.3,276.7 L923.9,276.7ZM872.1,280.5 L875.5,280.5 L875.5,283.7 L872.1,283.7ZM891.9,284.5 L895.6,284.5 L895.6,288.1 L891.9,288.1ZM883.8,288.5 L887.6,288.5 L887.6,291.8 L883.8,291.8ZM860.0,296.6 L863.4,296.6 L863.4,299.8 L860.0,299.8ZM896.3,285.5 L903.7,285.5 L903.7,289.5 L907.5,289.5 L907.5,300.9 L903.7,300.9 L903.7,305.4 L893.0,305.4 L892.3,314.8 L888.2,314.8 L888.2,300.9 L895.6,300.9 L895.6,296.2 L900.4,296.2 L900.4,293.5 L896.3,293.5ZM872.1,304.7 L875.5,304.7 L876.1,308.1 L879.5,308.7 L880.2,312.8 L883.5,312.8 L883.5,315.5 L877.5,315.5 L876.8,312.1 L872.8,310.8ZM927.3,324.9 L930.6,324.9 L930.6,328.3 L927.3,328.3ZM919.2,333.0 L922.6,333.0 L922.6,336.3 L919.2,336.3ZM939.4,337.0 L943.5,337.0 L943.5,344.4 L939.4,344.4ZM923.2,349.1 L926.6,349.1 L926.6,360.5 L919.6,360.5 L919.6,353.1 L923.2,353.1ZM907.5,364.8 L910.7,364.8 L910.7,368.3 L907.5,368.3ZM907.4,380.9 L910.3,380.9 L910.3,384.6 L914.8,384.6 L914.8,392.2 L907.4,392.2ZM903.4,400.8 L906.7,400.8 L906.7,404.1 L903.4,404.1ZM911.3,400.8 L914.8,400.8 L914.8,404.1 L911.3,404.1ZM923.4,408.8 L926.9,408.8 L926.9,412.2 L923.4,412.2ZM914.8,404.8 L918.3,404.8 L918.3,412.9 L922.4,412.9 L922.4,423.5 L911.5,423.5 L911.5,412.9 L914.8,412.9ZM935.0,416.6 L938.7,416.6 L938.7,420.0 L935.0,420.0ZM938.7,424.9 L958.9,424.9 L958.9,420.8 L970.3,420.8 L971.0,416.8 L973.7,416.8 L974.4,420.8 L978.4,421.5 L981.7,424.9 L985.8,424.9 L986.5,428.2 L991.8,428.2 L991.8,420.8 L994.2,420.8 L994.2,437.0 L989.8,437.0 L989.1,443.7 L983.1,443.7 L979.1,441.0 L979.1,437.6 L981.7,437.0 L981.7,432.9 L962.9,432.3 L962.9,428.9 L949.5,428.9 L949.5,431.6 L946.8,431.6 L946.8,428.2 L938.7,428.2ZM994.5,404.7 L997.9,404.7 L997.9,408.1 L994.5,408.1ZM935.4,416.4 L938.7,416.4 L938.7,419.9 L935.4,419.9ZM954.6,456.5 L958.2,456.5 L958.2,459.8 L954.6,459.8ZM979.1,456.5 L982.2,456.5 L982.2,459.8 L979.1,459.8ZM958.9,460.5 L965.6,460.5 L965.6,464.2 L970.1,464.2 L970.1,467.9 L958.9,467.9ZM974.4,468.5 L977.7,468.5 L977.7,471.9 L974.4,471.9ZM971.7,254.0 L975.2,254.0 L975.2,257.5 L971.7,257.5ZM939.4,337.3 L946.7,337.3 L946.7,344.8 L939.4,344.8ZM946.7,344.8 L951.0,344.8 L951.0,347.5 L954.7,347.5 L954.7,352.4 L951.0,352.4 L951.0,355.6 L946.7,355.6 L946.7,352.4 L943.4,352.4 L943.4,347.5 L946.7,347.5ZM951.0,332.7 L954.7,332.7 L954.7,336.2 L951.0,336.2ZM962.8,336.8 L966.3,336.8 L966.3,340.3 L962.8,340.3ZM983.2,372.3 L986.5,372.3 L986.5,375.8 L983.2,375.8ZM1006.6,389.2 L1010.6,389.2 L1010.6,392.7 L1006.6,392.7ZM968.7,134.8 L971.2,134.8 L971.2,137.6 L968.7,137.6ZM932.5,128.9 L940.1,128.9 L940.9,126.4 L947.6,126.4 L947.6,129.7 L943.4,129.7 L943.1,132.6 L932.5,132.6Z" fill="#ff3300" stroke="#2a0000" stroke-width="0.9" stroke-linejoin="miter"/>
<path d="M871.4,58.8 L874.5,59.2 L876.5,60.5M907.1,58.1 L909.1,64.2 L911.1,64.8M921.9,61.5 L921.9,65.5M829.7,68.2 L832.7,68.2M840.5,72.2 L844.5,72.9M836.5,76.3 L836.7,79.6M853.3,76.7 L860.7,76.7M876.8,85.0 L880.9,83.7 L880.9,81.7M851.9,84.4 L853.3,86.4M832.4,96.1 L832.7,92.8 L836.5,92.8 L837.8,94.1M840.5,98.8 L840.5,95.9 L843.9,96.8M851.9,84.7 L852.6,88.1M856.6,100.9 L857.3,104.2M877.5,85.4 L880.8,85.4 L880.8,82.0M893.0,93.5 L893.6,97.2 L896.7,97.5M884.9,102.2 L884.9,106.9 L888.9,108.9 L889.6,113.0M902.4,104.9 L906.4,102.2 L918.5,102.2 L919.2,98.2M912.5,103.5 L913.1,113.0M917.2,103.5 L918.8,105.6M930.0,105.6 L934.0,104.2M903.7,111.6 L906.4,112.3M903.7,119.7 L906.4,120.4M872.8,108.9 L873.5,113.0M860.7,113.0 L862.0,117.0 L864.7,119.0 L865.0,124.4M856.6,120.4 L855.3,125.7 L852.9,131.8M844.5,124.4 L844.8,127.8M872.8,125.1 L873.0,127.8M836.5,147.9 L840.5,148.9M829.5,156.0 L829.7,159.4M938.0,137.8 L943.0,137.2M929.3,145.9 L933.0,142.2M829.1,156.3 L829.7,161.7M851.9,161.1 L856.0,160.4M836.5,172.5 L836.5,176.5 L833.1,176.5 L831.7,179.2M862.0,175.9 L860.7,181.9 L854.6,185.3 L849.2,188.6M888.9,177.2 L889.2,181.2M897.0,185.3 L908.4,185.3 L909.1,182.6M872.1,205.5 L868.1,205.5 L868.1,208.8M872.8,212.9 L876.8,212.9M876.1,209.5 L876.5,216.9M880.9,221.2 L884.2,221.6M911.8,222.0 L912.5,225.6M927.9,221.6 L924.6,222.3 L924.2,225.6M936.7,206.1 L937.1,210.2M937.4,222.3 L943.0,222.3M970.0,171.0 L970.8,174.4 L973.3,176.9 L973.3,181.9M962.1,182.3 L965.4,182.8M985.1,190.3 L986.0,194.5 L989.0,195.0M981.7,202.4 L984.3,203.1M955.7,208.8 L957.4,208.8M949.8,218.1 L954.9,219.7 L956.5,222.3M968.3,214.7 L967.8,218.9 L964.9,222.6M986.0,213.5 L980.9,215.2 L979.2,218.1 L980.9,222.6M912.8,223.1 L915.4,223.9M924.6,222.6 L928.0,221.9M952.3,246.6 L952.7,250.0M988.5,247.5 L987.6,250.0M872.1,260.6 L872.8,257.9 L887.6,256.5 L889.6,255.2M893.0,261.2 L896.3,261.6M900.4,256.5 L901.0,253.2 L903.7,252.5 L904.4,250.1M871.4,269.7 L867.4,270.2 L868.1,276.7M865.4,274.0 L867.4,274.0M856.0,274.0 L856.4,280.7M859.3,285.5 L860.0,289.5M868.1,286.1 L868.1,289.5M864.0,294.2 L865.4,297.6 L868.1,298.2 L868.7,305.0M860.0,300.9 L860.4,309.0M909.8,266.6 L916.5,266.6 L917.2,270.2M921.2,278.3 L923.9,278.7M888.2,289.9 L893.0,288.8 L893.6,286.8M895.6,296.2 L897.7,298.2M908.4,290.8 L911.1,294.2 L912.5,298.2M916.5,302.3 L919.9,302.3M876.1,305.6 L878.2,308.3M903.7,311.0 L905.7,314.4M915.8,311.0 L916.5,315.0M940.0,261.9 L942.1,265.9M876.1,316.1 L876.8,321.5 L884.2,321.5M903.7,310.8 L904.4,317.5M905.7,311.4 L907.8,313.5M916.5,310.8 L915.8,315.5 L914.5,319.5M917.2,302.0 L919.9,302.4M915.8,330.3 L915.6,334.3 L912.5,334.7M935.3,333.6 L936.0,330.7 L938.7,330.3M903.7,362.6 L903.7,370.0M915.6,370.6 L915.8,378.7M915.3,370.5 L915.5,384.1 L918.3,386.6 L919.9,386.6M906.7,387.7 L907.7,391.2 L911.3,393.2 L911.8,397.7M914.3,393.7 L919.9,394.2 L920.4,409.9 L922.9,410.9M912.8,424.5 L915.8,428.5M952.7,402.8 L955.2,402.3 L956.7,399.3 L960.0,398.8M952.8,402.0 L955.5,401.6 L956.6,400.0M962.9,419.5 L970.3,418.8M978.4,422.2 L983.1,423.5 L985.1,426.2M992.5,418.8 L998.5,418.8M948.1,434.7 L964.9,434.7 L965.6,432.9M999.9,426.9 L998.8,431.6 L995.2,435.6 L995.6,442.3M969.0,475.3 L981.7,474.6M951.5,246.7 L952.8,250.8M956.9,254.8 L959.6,251.3 L964.4,250.8M940.8,265.5 L942.1,261.5 L944.8,261.0M974.4,254.0 L983.8,254.0 L985.1,250.8 L987.8,248.1M981.1,266.9 L985.1,266.9M990.5,297.8 L994.0,299.1 L994.5,305.9 L992.4,307.2M935.4,330.0 L936.7,333.5M948.8,326.6 L951.5,326.6M946.1,334.6 L950.2,333.5M977.0,334.1 L979.7,334.1M946.1,356.9 L954.2,358.3 L960.9,357.7 L961.7,355.6M978.4,366.3 L976.2,365.8 L976.2,373.1M955.5,398.6 L959.6,399.1M944.3,123.0 L944.8,126.4M930.0,105.7 L934.2,104.5M937.6,137.0 L946.0,136.5M930.0,146.6 L933.4,142.4" fill="none" stroke="#0000ff" stroke-width="3.0" stroke-linecap="round" stroke-linejoin="round"/><circle cx="953.2" cy="160.9" r="2.3" fill="#0000ff"/><circle cx="893.6" cy="322.2" r="1.6" fill="#0000ff"/>
<path d="M907.7,7.4C905.3,6.7 904.3,10.2 901.6,11.4C898.9,12.6 895.3,13.7 891.6,14.4C887.9,15.1 882.7,14.8 879.5,15.4C876.3,16.0 875.4,16.0 872.4,17.8C869.4,19.7 865.8,23.2 861.3,26.5C856.8,29.8 849.7,34.1 845.2,37.7C840.7,41.2 836.6,45.1 834.1,47.8C831.6,50.5 831.0,51.4 830.1,53.8C829.2,56.2 829.0,58.2 828.7,61.9C828.4,65.6 828.5,71.7 828.1,76.0C827.8,80.4 827.2,83.8 826.6,88.2C826.0,92.5 825.1,98.3 824.6,102.3C824.1,106.3 823.5,109.5 823.4,112.4C823.3,115.4 823.5,118.5 824.3,120.0C825.1,121.6 827.2,121.0 828.4,121.6C829.6,122.3 831.4,122.6 831.5,123.7C831.6,124.9 829.5,126.5 829.0,128.3C828.5,130.0 828.1,132.4 828.4,134.5C828.6,136.5 829.6,139.0 830.5,140.6C831.4,142.1 834.4,143.0 834.0,143.7C833.6,144.4 829.8,144.4 828.4,144.7C827.0,145.0 826.3,144.3 825.8,145.7C825.3,147.1 825.2,150.7 825.4,152.9C825.6,155.1 826.9,157.1 827.0,159.1C827.1,161.2 825.7,162.8 825.8,165.2C825.9,167.6 826.4,171.2 827.4,173.5C828.4,175.7 830.1,176.6 831.5,178.7C832.9,180.7 834.4,181.9 835.6,185.8C836.8,189.7 837.8,197.9 838.7,202.2C839.6,206.5 840.1,208.6 840.8,211.7C841.5,214.9 841.9,218.3 842.8,221.1C843.7,223.8 845.8,225.0 846.3,228.3C846.8,231.5 845.9,236.8 845.5,240.6C845.1,244.4 844.1,246.9 843.8,250.8C843.4,254.7 843.8,260.7 843.4,264.1C843.0,267.6 841.8,268.8 841.4,271.4C841.0,273.9 840.6,276.5 840.7,279.6C840.8,282.7 840.8,286.5 841.8,289.9C842.8,293.3 844.8,296.4 846.9,300.1C849.0,303.9 851.5,308.3 854.1,312.5C856.7,316.6 859.6,321.1 862.3,324.8C865.0,328.4 867.2,329.9 870.5,334.4C873.8,338.9 878.7,347.0 881.8,351.8C884.9,356.6 886.3,358.5 888.9,363.2C891.5,367.8 895.0,374.5 897.1,379.6C899.2,384.7 900.3,389.5 901.2,393.9C902.1,398.4 901.6,402.8 902.3,406.3C903.0,409.7 903.9,411.9 905.4,414.8C906.9,417.7 909.0,420.3 911.3,423.6C913.6,426.9 916.2,430.7 919.3,434.6C922.3,438.5 926.2,443.3 929.6,447.1C933.0,450.9 936.6,454.3 939.8,457.4C943.0,460.4 946.2,463.6 948.6,465.5C951.0,467.3 953.2,467.3 954.2,468.4C955.2,469.5 954.7,470.8 954.5,472.1C954.3,473.4 952.3,475.5 953.0,476.2C953.7,476.9 956.7,476.8 958.9,476.5C961.1,476.2 963.5,475.2 966.2,474.7C968.9,474.2 972.8,474.7 975.0,473.5C977.2,472.3 977.7,470.6 979.4,467.7C981.1,464.8 982.9,459.9 985.3,456.0C987.7,452.0 991.3,448.3 994.0,444.1C996.7,440.0 999.4,434.9 1001.4,431.0C1003.4,427.1 1004.5,424.4 1005.8,420.7C1007.1,417.0 1008.5,412.7 1009.4,409.0C1010.3,405.2 1010.9,401.0 1011.0,398.0C1011.1,395.0 1010.9,392.7 1009.9,390.9C1008.9,389.1 1006.8,388.1 1004.8,387.4C1002.8,386.7 999.8,387.8 997.6,386.8C995.4,385.8 993.2,384.5 991.5,381.6C989.8,378.7 988.6,373.4 987.4,369.3C986.2,365.2 985.0,360.9 984.3,356.9C983.5,353.0 982.6,348.0 982.9,345.6C983.2,343.2 985.6,344.2 986.3,342.6C987.0,341.1 986.5,338.5 987.0,336.4C987.5,334.3 988.5,333.0 989.4,330.3C990.3,327.5 992.0,321.9 992.5,320.0C993.0,318.0 992.7,319.9 992.5,318.7C992.3,317.4 991.2,315.2 991.1,312.5C991.0,309.7 991.9,306.3 991.9,302.2C991.9,298.1 991.0,291.6 991.1,287.8C991.2,284.0 992.6,282.0 992.5,279.6C992.4,277.2 991.3,276.2 990.5,273.5C989.7,270.7 987.8,266.9 987.8,263.1C987.8,259.4 989.7,255.3 990.5,250.8C991.3,246.4 992.4,240.6 992.5,236.5C992.6,232.4 991.8,230.6 991.1,226.2C990.4,221.7 989.2,214.4 988.4,209.7C987.6,205.1 987.1,202.8 986.3,198.1C985.4,193.4 984.3,186.8 983.3,181.7C982.3,176.5 981.2,172.1 980.2,167.3C979.2,162.5 979.0,158.7 977.1,152.9C975.2,147.1 971.6,139.2 968.9,132.4C966.2,125.5 963.4,117.3 960.7,111.8C958.0,106.3 954.8,104.1 952.5,99.5C950.2,94.9 948.8,88.4 947.0,84.2C945.2,79.9 943.7,77.4 942.0,74.0C940.3,70.7 938.8,67.8 936.9,63.9C935.0,60.0 932.3,54.5 930.9,50.8C929.5,47.1 929.1,44.9 928.5,41.7C927.9,38.5 928.1,34.5 927.3,31.7C926.5,28.8 925.7,27.2 923.8,24.5C921.9,21.8 918.5,18.3 915.8,15.4C913.1,12.6 910.1,8.1 907.7,7.4Z" fill="none" stroke="#ff0000" stroke-width="2.0" stroke-linejoin="round"/>
<rect x="823.2" y="7.3" width="188.39999999999998" height="469.2" fill="none" stroke="#8c8c8c" stroke-width="0.8"/>
<path d="M825.4,1.2999999999999998V7.3M825.4,476.5V481.5M870.1,1.2999999999999998V7.3M870.1,476.5V481.5M914.9,1.2999999999999998V7.3M914.9,476.5V481.5M959.6,1.2999999999999998V7.3M959.6,476.5V481.5M1004.4,1.2999999999999998V7.3M1004.4,476.5V481.5M817.2,11.8H823.2M1011.6,11.8H1017.6M817.2,56.2H823.2M1011.6,56.2H1017.6M817.2,100.7H823.2M1011.6,100.7H1017.6M817.2,145.2H823.2M1011.6,145.2H1017.6M817.2,189.7H823.2M1011.6,189.7H1017.6M817.2,234.1H823.2M1011.6,234.1H1017.6M817.2,278.6H823.2M1011.6,278.6H1017.6M817.2,323.1H823.2M1011.6,323.1H1017.6M817.2,367.6H823.2M1011.6,367.6H1017.6M817.2,412.1H823.2M1011.6,412.1H1017.6M817.2,456.5H823.2M1011.6,456.5H1017.6" stroke="#8c8c8c" stroke-width="1" fill="none"/>
<text x="814.7" y="16.1" font-size="10.6" text-anchor="end" font-weight="normal" font-family="'Liberation Sans', Arial, sans-serif" fill="#000">4381000</text>
<text x="814.7" y="60.5" font-size="10.6" text-anchor="end" font-weight="normal" font-family="'Liberation Sans', Arial, sans-serif" fill="#000">4380000</text>
<text x="814.7" y="105.0" font-size="10.6" text-anchor="end" font-weight="normal" font-family="'Liberation Sans', Arial, sans-serif" fill="#000">4379000</text>
<text x="814.7" y="149.5" font-size="10.6" text-anchor="end" font-weight="normal" font-family="'Liberation Sans', Arial, sans-serif" fill="#000">4378000</text>
<text x="814.7" y="194.0" font-size="10.6" text-anchor="end" font-weight="normal" font-family="'Liberation Sans', Arial, sans-serif" fill="#000">4377000</text>
<text x="814.7" y="238.4" font-size="10.6" text-anchor="end" font-weight="normal" font-family="'Liberation Sans', Arial, sans-serif" fill="#000">4376000</text>
<text x="814.7" y="282.9" font-size="10.6" text-anchor="end" font-weight="normal" font-family="'Liberation Sans', Arial, sans-serif" fill="#000">4375000</text>
<text x="814.7" y="327.4" font-size="10.6" text-anchor="end" font-weight="normal" font-family="'Liberation Sans', Arial, sans-serif" fill="#000">4374000</text>
<text x="814.7" y="371.9" font-size="10.6" text-anchor="end" font-weight="normal" font-family="'Liberation Sans', Arial, sans-serif" fill="#000">4373000</text>
<text x="814.7" y="416.4" font-size="10.6" text-anchor="end" font-weight="normal" font-family="'Liberation Sans', Arial, sans-serif" fill="#000">4372000</text>
<text x="814.7" y="460.8" font-size="10.6" text-anchor="end" font-weight="normal" font-family="'Liberation Sans', Arial, sans-serif" fill="#000">4371000</text>
<text x="825.4" y="493.4" font-size="10.6" text-anchor="middle" font-weight="normal" font-family="'Liberation Sans', Arial, sans-serif" fill="#000">638000</text>
<text x="870.1" y="493.4" font-size="10.6" text-anchor="middle" font-weight="normal" font-family="'Liberation Sans', Arial, sans-serif" fill="#000">639000</text>
<text x="914.9" y="493.4" font-size="10.6" text-anchor="middle" font-weight="normal" font-family="'Liberation Sans', Arial, sans-serif" fill="#000">640000</text>
<text x="959.6" y="493.4" font-size="10.6" text-anchor="middle" font-weight="normal" font-family="'Liberation Sans', Arial, sans-serif" fill="#000">641000</text>
<text x="1004.4" y="493.4" font-size="10.6" text-anchor="middle" font-weight="normal" font-family="'Liberation Sans', Arial, sans-serif" fill="#000">642000</text>
<path d="M988.0,22.8 L981.0,44.8 L988.0,36.8 Z" fill="#000"/>
<path d="M988.0,22.8 L995.0,44.8 L988.0,36.8 Z" fill="none" stroke="#000" stroke-width="1.1" stroke-linejoin="miter"/>
<text x="988.0" y="19.9" font-size="9.2" text-anchor="middle" font-weight="bold" font-family="'Liberation Sans', Arial, sans-serif" fill="#000">N</text>
<text x="917.1" y="506.3" font-size="10.95" text-anchor="middle" font-weight="normal" font-family="'Liberation Sans', Arial, sans-serif" fill="#000">WGS84, UTM Zone 48N</text>
<rect x="808.7" y="511.4" width="37.6" height="5.7000000000000455" fill="#000" stroke="#999" stroke-width="0.6"/>
<rect x="846.3" y="511.4" width="37.6" height="5.7000000000000455" fill="#fff" stroke="#999" stroke-width="0.6"/>
<rect x="883.9" y="511.4" width="37.6" height="5.7000000000000455" fill="#000" stroke="#999" stroke-width="0.6"/>
<rect x="921.5" y="511.4" width="37.6" height="5.7000000000000455" fill="#fff" stroke="#999" stroke-width="0.6"/>
<text x="808.7" y="525.3" font-size="8.5" text-anchor="middle" font-weight="normal" font-family="'Liberation Sans', Arial, sans-serif" fill="#000">0</text>
<text x="846.3" y="525.3" font-size="8.5" text-anchor="middle" font-weight="normal" font-family="'Liberation Sans', Arial, sans-serif" fill="#000">1000</text>
<text x="883.9" y="525.3" font-size="8.5" text-anchor="middle" font-weight="normal" font-family="'Liberation Sans', Arial, sans-serif" fill="#000">2000</text>
<text x="921.5" y="525.3" font-size="8.5" text-anchor="middle" font-weight="normal" font-family="'Liberation Sans', Arial, sans-serif" fill="#000">3000</text>
<text x="959.1" y="525.3" font-size="8.5" text-anchor="middle" font-weight="normal" font-family="'Liberation Sans', Arial, sans-serif" fill="#000">4000</text>
<text x="970.5" y="518.3" font-size="11.0" text-anchor="start" font-weight="normal" font-family="'Liberation Sans', Arial, sans-serif" fill="#000">Meters</text>
<path d="M808.5,533.6H850" stroke="#0000ff" stroke-width="2.6" stroke-linecap="round"/>
<text x="867.7" y="536.6" font-size="10.9" text-anchor="start" font-weight="normal" font-family="'Liberation Sans', Arial, sans-serif" fill="#000">Extreme high gradient lines</text>
<rect x="808.7" y="538.8" width="41.3" height="9.9" fill="#ff0000"/>
<text x="866.7" y="548.9" font-size="10.9" text-anchor="start" font-weight="normal" font-family="'Liberation Sans', Arial, sans-serif" fill="#000">Coal fire areas</text>
<path d="M808.5,557.8H850" stroke="#ff2020" stroke-width="1.2"/>
<text x="866.7" y="561.7" font-size="10.8" text-anchor="start" font-weight="normal" font-family="'Liberation Sans', Arial, sans-serif" fill="#000">Coal field boundary</text>
<text x="897.4" y="589.2" font-size="26" text-anchor="middle" font-weight="normal" font-family="'Liberation Serif', 'Times New Roman', serif" fill="#000" style="stroke:none">(<tspan font-weight="bold">c</tspan>)</text>
</svg></body></html>
